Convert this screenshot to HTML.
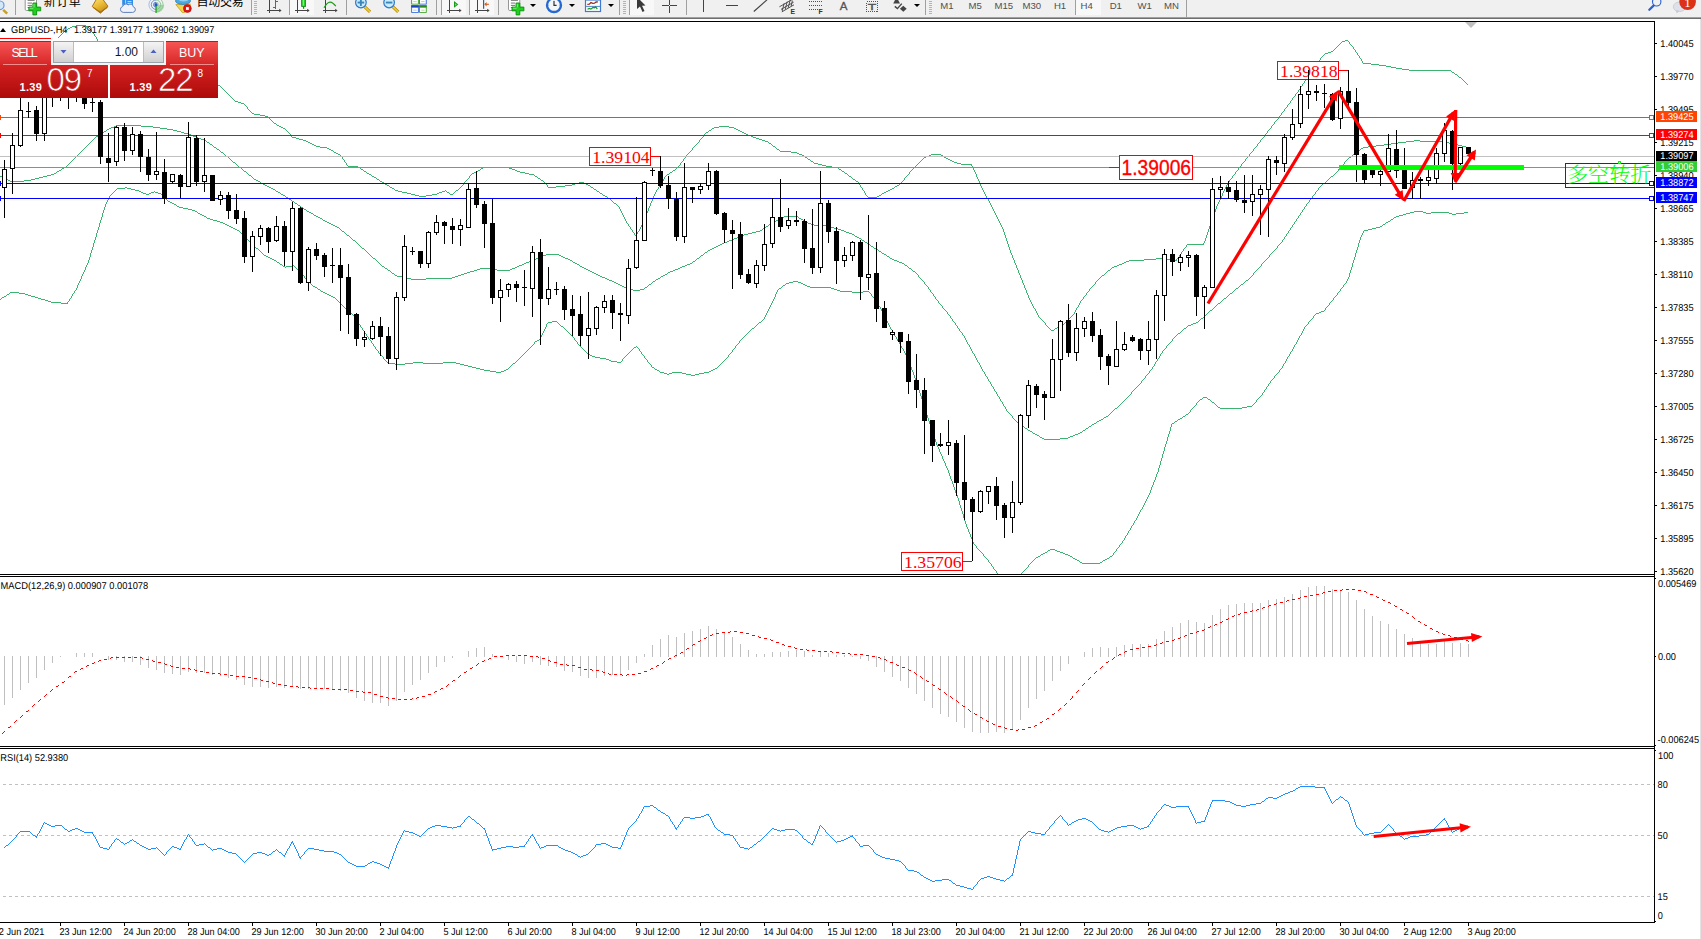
<!DOCTYPE html>
<html><head><meta charset="utf-8"><title>GBPUSD-,H4</title>
<style>
html,body{margin:0;padding:0;background:#fff;}
body{width:1701px;height:939px;position:relative;overflow:hidden;font-family:"Liberation Sans", sans-serif;}

#tb{position:absolute;left:0;top:0;width:1701px;height:17px;background:#f0f0f0;overflow:hidden;}
#tbl1{position:absolute;left:0;top:17px;width:1701px;height:1px;background:#a0a0a0;}
#tbl2{position:absolute;left:0;top:18px;width:1701px;height:1px;background:#6e6e6e;}
.sep{position:absolute;top:0;width:1px;height:15px;background:#a0a0a0;}
.grip{position:absolute;top:1px;width:3px;height:14px;background:repeating-linear-gradient(to bottom,#b4b4b4 0,#b4b4b4 1px,#f0f0f0 1px,#f0f0f0 2px);}
.sel{position:absolute;top:0;height:15px;background:#f8f8f8;}
.tf{position:absolute;top:-0.3px;font-size:9.6px;line-height:12px;color:#505050;white-space:nowrap;}
.cj{position:absolute;top:-5.6px;font-size:12px;line-height:16px;color:#000;white-space:nowrap;font-family:"Liberation Sans","Noto Sans CJK SC",sans-serif;}
.dd{position:absolute;top:4px;width:0;height:0;border-left:3px solid transparent;border-right:3px solid transparent;border-top:3px solid #000;}

#oc{position:absolute;left:0;top:38px;width:220px;height:60px;}
#oc .rl{position:absolute;left:0;top:0;width:51px;height:1px;background:#ff0000;}
#oc .mid{position:absolute;left:51px;top:3px;width:115px;height:24px;background:#f4f4f4;}
#oc .tab{position:absolute;top:3px;height:24px;background:linear-gradient(#f75454,#d62626);color:#fff;font-size:12.5px;line-height:22px;border-top:1px solid #c81414;box-sizing:border-box;}
#oc .tab span{position:absolute;top:0;}
#oc .tl{position:absolute;top:26px;height:1px;background:#f08c8c;}
#oc .px{position:absolute;top:27px;height:33px;background:linear-gradient(#d42222,#ae0a0a);color:#fff;}
#oc .px span{position:absolute;white-space:nowrap;}
#oc .sm{font-size:11px;font-weight:bold;line-height:12px;letter-spacing:0.35px;}
#oc .bg{font-size:33px;line-height:34px;letter-spacing:-1.2px;-webkit-text-stroke:0.7px #c21616;}
#oc .su{font-size:10px;line-height:12px;}
#sp{position:absolute;left:53px;top:3px;width:111px;height:22px;box-sizing:border-box;border:1px solid #9aa3ad;background:#fff;}
#sp .b{position:absolute;top:0;width:19px;height:20px;background:linear-gradient(#f4f4f4,#d0d0d0);border:0 solid #b8bec6;}
#sp .v{position:absolute;right:25px;top:0;font-size:12px;line-height:20px;color:#101828;}

</style></head><body>
<div id="tb">
<div class="sel" style="left:290px;width:24px"></div>
<div class="sel" style="left:630px;width:24px"></div>
<div class="sel" style="left:442px;width:24px"></div>
<div class="sel" style="left:470px;width:24px"></div>
<div class="sel" style="left:1076px;width:25px"></div>
<div class="sep" style="left:15px"></div>
<div class="sep" style="left:251px"></div>
<div class="sep" style="left:289px"></div>
<div class="sep" style="left:346px"></div>
<div class="sep" style="left:436px"></div>
<div class="sep" style="left:441px"></div>
<div class="sep" style="left:469px"></div>
<div class="sep" style="left:498px"></div>
<div class="sep" style="left:619px"></div>
<div class="sep" style="left:629px"></div>
<div class="sep" style="left:686px"></div>
<div class="sep" style="left:925px"></div>
<div class="sep" style="left:1075px"></div>
<div class="sep" style="left:1186px;height:17px"></div>
<div class="grip" style="left:254px"></div>
<div class="grip" style="left:623px"></div>
<div class="grip" style="left:929px"></div>
<div class="cj" style="left:43.8px;letter-spacing:0.45px">新订单</div>
<div class="cj" style="left:196.6px;letter-spacing:-0.25px">自动交易</div>
<div class="tf" style="left:940.3px">M1</div>
<div class="tf" style="left:968.6px">M5</div>
<div class="tf" style="left:994.5px">M15</div>
<div class="tf" style="left:1022.5px">M30</div>
<div class="tf" style="left:1053.9px">H1</div>
<div class="tf" style="left:1080.5px">H4</div>
<div class="tf" style="left:1109.7px">D1</div>
<div class="tf" style="left:1137.5px">W1</div>
<div class="tf" style="left:1164.0px">MN</div>
<div class="dd" style="left:529.5px"></div>
<div class="dd" style="left:568.5px"></div>
<div class="dd" style="left:607.5px"></div>
<div class="dd" style="left:913.5px"></div>
<svg width="1701" height="17" viewBox="0 0 1701 17" style="position:absolute;left:0;top:0"><line x1="3.2" y1="9.8" x2="7.2" y2="13.6" stroke="#c9a020" stroke-width="2.5" stroke-linecap="butt"/><circle cx="-0.3" cy="5.3" r="4.3" fill="#d4e8f8" stroke="#6a9ad8" stroke-width="1.2"/><path d="M25.2 -3v12.2q0 1.3 1.3 1.3h10v-13.5z" fill="#fff" stroke="#8a8a8a" stroke-width="0.9"/><rect x="27.6" y="2.6" width="4.4" height="0.9" fill="#666"/><rect x="27.6" y="4.9" width="4.4" height="0.9" fill="#666"/><rect x="27.6" y="7.1" width="2.8" height="0.9" fill="#666"/><rect x="27.6" y="-0.3" width="7" height="1" fill="#555"/><path d="M32.9 3.0h3.7v4.1h4.1v3.7h-4.1v4.1h-3.7v-4.1h-4.1v-3.7h4.1z" fill="#1fd01f" stroke="#0a8f0a" stroke-width="0.9"/><rect x="33.5" y="3.8" width="1" height="3.5" fill="#7df07d"/><rect x="29.6" y="7.7" width="3.7" height="1" fill="#7df07d"/><defs><linearGradient id="gd" x1="0" y1="0" x2="0.6" y2="1"><stop offset="0" stop-color="#fbe27a"/><stop offset="0.55" stop-color="#e9b730"/><stop offset="1" stop-color="#c58a18"/></linearGradient></defs><path d="M92.2 6.4 L96.6 -1 L102.6 -1 L108 6.3 L100.3 13.2 Z" fill="url(#gd)" stroke="#a06c10" stroke-width="0.9" stroke-linejoin="round"/><path d="M93 7.4 L100.3 12.3 L107.4 7.2" fill="none" stroke="#a8720f" stroke-width="1.1"/><rect x="122.2" y="-3" width="10.8" height="8.6" fill="#2f8fe8"/><rect x="125" y="-3" width="1.1" height="8" fill="#9fd0ff"/><rect x="127.5" y="1.2" width="4" height="0.9" fill="#d8ecff"/><rect x="127.5" y="3" width="4" height="0.9" fill="#d8ecff"/><path d="M123.2 12.4 a3 3 0 0 1 -0.5 -5.9 a3.4 3.4 0 0 1 5.6 -1.6 a3 3 0 0 1 5 2 a2.8 2.8 0 0 1 -0.6 5.5z" fill="#eef3fb" stroke="#5f7fbb" stroke-width="1"/><path d="M156 4.7 L156 12.9 A8.2 8.2 0 0 0 164.2 4.7 Z" fill="#a6d6a6"/><g fill="none"><path d="M156 2.3 A2.4 2.4 0 0 0 156 7.1" stroke="#4a78d4" stroke-width="1"/><path d="M156 0 A4.7 4.7 0 0 0 156 9.4" stroke="#6a92dc" stroke-width="1"/><path d="M156 -2.4 A7.1 7.1 0 0 0 156 11.8" stroke="#a4bce8" stroke-width="1"/><path d="M156 2.3 A2.4 2.4 0 0 1 158.4 4.7" stroke="#8ab0c0" stroke-width="0.9"/><path d="M156 0 A4.7 4.7 0 0 1 160.7 4.7 A4.7 4.7 0 0 1 156 9.4" stroke="#7fbf8f" stroke-width="0.9"/><path d="M156 -2.4 A7.1 7.1 0 0 1 163.1 4.7 A7.1 7.1 0 0 1 156 11.8" stroke="#8cc88c" stroke-width="0.9"/></g><rect x="155.4" y="4.7" width="1.3" height="8.2" fill="#22a022"/><circle cx="156" cy="4.7" r="1.6" fill="#2456c8"/><path d="M175.8 4.6 L190.4 4 L184.6 12.6 L182.4 12.6 Z" fill="#f3d446" stroke="#c79c18" stroke-width="0.8" stroke-linejoin="round"/><ellipse cx="183" cy="1" rx="7.5" ry="3.4" fill="#4aa8e0" stroke="#2f7fc0" stroke-width="0.8"/><ellipse cx="183.5" cy="-0.2" rx="4.5" ry="1.6" fill="#8fd0f4"/><circle cx="187.4" cy="8.5" r="3.9" fill="#e01818" stroke="#b00c0c" stroke-width="0.7"/><rect x="186" y="7.1" width="2.8" height="2.8" fill="#fff"/><g shape-rendering="crispEdges"><rect x="269" y="0" width="1" height="13" fill="#444"/><rect x="267" y="10" width="13" height="1" fill="#444"/></g><path d="M279.2 8.7l2.4 1.8l-2.4 1.8z" fill="#444"/><g shape-rendering="crispEdges"><rect x="275" y="0" width="1.3" height="8.5" fill="#1a9a1a"/><rect x="273" y="7" width="2.5" height="1.2" fill="#1a9a1a"/><rect x="275.5" y="1" width="2.6" height="1.2" fill="#1a9a1a"/></g><g shape-rendering="crispEdges"><rect x="297" y="0" width="1" height="13" fill="#444"/><rect x="295" y="10" width="13" height="1" fill="#444"/></g><path d="M307.2 8.7l2.4 1.8l-2.4 1.8z" fill="#444"/><rect x="301.6" y="-2" width="4" height="8.4" fill="#2ccc2c" stroke="#0e8a0e" stroke-width="0.8"/><rect x="302.8" y="-1" width="1.2" height="6.6" fill="#7cf07c"/><rect x="303" y="6.6" width="1.2" height="2.2" fill="#0e8a0e"/><g shape-rendering="crispEdges"><rect x="325" y="0" width="1" height="13" fill="#444"/><rect x="323" y="10" width="13" height="1" fill="#444"/></g><path d="M335.2 8.7l2.4 1.8l-2.4 1.8z" fill="#444"/><path d="M324 7.8 Q327.4 2 330.1 2.1 T335.8 6.2" fill="none" stroke="#1a9a1a" stroke-width="1.2"/><line x1="364.8" y1="6.9" x2="370.0" y2="11.9" stroke="#b88a10" stroke-width="3.1"/><line x1="364.8" y1="6.9" x2="370.0" y2="11.9" stroke="#efd028" stroke-width="1.5"/><circle cx="360.9" cy="2.5" r="5.3" fill="#c9ecfc" stroke="#2f78c8" stroke-width="1.2"/><rect x="357.6" y="1.6" width="6.6" height="1.9" fill="#3a86b8"/><rect x="359.9" y="-1" width="1.9" height="7" fill="#3a86b8"/><line x1="393.0" y1="6.9" x2="398.2" y2="11.9" stroke="#b88a10" stroke-width="3.1"/><line x1="393.0" y1="6.9" x2="398.2" y2="11.9" stroke="#efd028" stroke-width="1.5"/><circle cx="389.1" cy="2.5" r="5.3" fill="#c9ecfc" stroke="#2f78c8" stroke-width="1.2"/><rect x="385.8" y="1.6" width="6.6" height="1.9" fill="#3a86b8"/><rect x="411.2" y="-3.2" width="7.6" height="7.7" fill="#3aa024"/><rect x="411.2" y="-3.2" width="7.6" height="2" fill="#2c8a18"/><rect x="412.1" y="-0.8" width="5.8" height="4.5" fill="#fff"/><rect x="413.3" y="1.2" width="3.4" height="0.9" fill="#a8dc90"/><rect x="419.1" y="-3.2" width="7.6" height="7.7" fill="#2f66dc"/><rect x="419.1" y="-3.2" width="7.6" height="2" fill="#1c44c0"/><rect x="420.0" y="-0.8" width="5.8" height="4.5" fill="#fff"/><rect x="421.2" y="1.2" width="3.4" height="0.9" fill="#a8c4f4"/><rect x="411.2" y="5.3" width="7.6" height="7.5" fill="#2f66dc"/><rect x="411.2" y="5.3" width="7.6" height="2" fill="#1c44c0"/><rect x="412.1" y="7.7" width="5.8" height="4.3" fill="#fff"/><rect x="413.3" y="9.7" width="3.4" height="0.9" fill="#a8c4f4"/><rect x="419.1" y="5.3" width="7.6" height="7.5" fill="#3aa024"/><rect x="419.1" y="5.3" width="7.6" height="2" fill="#2c8a18"/><rect x="420.0" y="7.7" width="5.8" height="4.3" fill="#fff"/><rect x="421.2" y="9.7" width="3.4" height="0.9" fill="#a8dc90"/><g shape-rendering="crispEdges"><rect x="449" y="0" width="1" height="13" fill="#444"/><rect x="447" y="10" width="13" height="1" fill="#444"/></g><path d="M459.2 8.7l2.4 1.8l-2.4 1.8z" fill="#444"/><path d="M454 1.1l4.3 3.3l-4.3 3.4z" fill="#1a9a1a"/><path d="M455 3.2l1.8 1.3l-1.8 1.3z" fill="#6fe06f"/><g shape-rendering="crispEdges"><rect x="477" y="0" width="1" height="13" fill="#444"/><rect x="475" y="10" width="13" height="1" fill="#444"/></g><path d="M487.2 8.7l2.4 1.8l-2.4 1.8z" fill="#444"/><rect x="483" y="0" width="1.2" height="8.8" fill="#1a6aa8"/><path d="M484.3 4.3l2.4 -2.3l-0.3 1.8h2.5v1h-2.5l0.3 1.8z" fill="#c8480a"/><path d="M485.2 4.3l1 -0.8v1.6z" fill="#ff8a20"/><path d="M508.5 -3v12.2q0 1.3 1.3 1.3h10v-13.5z" fill="#fff" stroke="#8a8a8a" stroke-width="0.9"/><rect x="510.9" y="2.6" width="4.4" height="0.9" fill="#666"/><rect x="510.9" y="4.9" width="4.4" height="0.9" fill="#666"/><rect x="510.9" y="7.1" width="2.8" height="0.9" fill="#666"/><rect x="510.9" y="-0.3" width="7" height="1" fill="#555"/><path d="M516.1 3.0h3.7v4.1h4.1v3.7h-4.1v4.1h-3.7v-4.1h-4.1v-3.7h4.1z" fill="#1fd01f" stroke="#0a8f0a" stroke-width="0.9"/><rect x="516.8" y="3.8" width="1" height="3.5" fill="#7df07d"/><rect x="512.9" y="7.7" width="3.7" height="1" fill="#7df07d"/><circle cx="554" cy="5.2" r="7" fill="#f4f6fa" stroke="#2468d0" stroke-width="2.3"/><g fill="#9aa4b4"><rect x="553.6" y="-0.8" width="0.8" height="1.2"/><rect x="553.6" y="10" width="0.8" height="1.2"/><rect x="548" y="4.8" width="1.2" height="0.8"/><rect x="558.8" y="4.8" width="1.2" height="0.8"/></g><path d="M554 1v4.3h2.6" fill="none" stroke="#333" stroke-width="1.2"/><rect x="585.5" y="-2" width="15" height="13.5" fill="#fff" stroke="#3f7ad0" stroke-width="1.2"/><rect x="585" y="-2" width="16" height="2.6" fill="#3f7ad0"/><path d="M587.3 4.4l2 -0.3l1.6 -1.6l1.8 0.9l1.8 -0.2l1.6 -1.2l1.8 -0.2" fill="none" stroke="#a02c12" stroke-width="1.3"/><rect x="586" y="5.9" width="14" height="0.9" fill="#3f7ad0"/><path d="M587.5 9.3l1.8 -0.9l1.6 0.7l2 -1.6l1.4 0.3l1.4 -0.9l1.6 2.2" fill="none" stroke="#1a9a1a" stroke-width="1.2"/><path d="M637 -3 L637 9 L640 6.5 L642.5 12 L644.5 11 L642 5.8 L645.5 5.5 Z" fill="#3a3a3a"/><g shape-rendering="crispEdges"><rect x="669" y="0" width="1" height="5" fill="#444"/><rect x="669" y="6" width="1" height="7" fill="#444"/><rect x="662" y="5" width="7" height="1" fill="#444"/><rect x="670" y="5" width="7" height="1" fill="#444"/></g><g shape-rendering="crispEdges"><rect x="703" y="0" width="1" height="12" fill="#444"/><rect x="726" y="5" width="12" height="1" fill="#444"/></g><line x1="753.8" y1="11.5" x2="767" y2="-0.2" stroke="#444" stroke-width="1.1"/><g stroke="#505050" stroke-width="1" fill="none"><line x1="779.4" y1="6.8" x2="792.8" y2="-0.8"/><line x1="781" y1="9.4" x2="793.6" y2="2.2"/><line x1="781.8" y1="11.9" x2="794" y2="4.8"/><line x1="782.2" y1="11" x2="784.2" y2="3.2"/><line x1="785.2" y1="9.4" x2="787.2" y2="1.6"/><line x1="788.2" y1="7.8" x2="790.2" y2="0"/><line x1="791.2" y1="6" x2="792.4" y2="0.6"/></g><text x="790.4" y="13.6" font-family='"Liberation Sans",sans-serif' font-size="6.8" font-weight="bold" fill="#333">E</text><line x1="809" y1="1.5" x2="822.0" y2="1.5" stroke="#505050" stroke-width="1" stroke-dasharray="1,1" shape-rendering="crispEdges"/><line x1="809" y1="5.5" x2="822.0" y2="5.5" stroke="#505050" stroke-width="1" stroke-dasharray="1,1" shape-rendering="crispEdges"/><line x1="809" y1="9.5" x2="817.5" y2="9.5" stroke="#505050" stroke-width="1" stroke-dasharray="1,1" shape-rendering="crispEdges"/><text x="818.6" y="13.6" font-family='"Liberation Sans",sans-serif' font-size="6.8" font-weight="bold" fill="#333">F</text><text x="839.8" y="9.9" font-family='"Liberation Sans",sans-serif' font-size="11.6" fill="#555" stroke="#555" stroke-width="0.3">A</text><rect x="866.5" y="1.5" width="11" height="10" fill="none" stroke="#555" stroke-width="1" stroke-dasharray="1,1" shape-rendering="crispEdges"/><text x="867.8" y="9.9" font-family='"Liberation Sans",sans-serif' font-size="9.6" fill="#555" stroke="#555" stroke-width="0.35" textLength="8.5" lengthAdjust="spacingAndGlyphs">T</text><path d="M896.6 -3l3.4 6.6h-6.8z" fill="#444"/><path d="M903.3 5.8l3.4 3l-3.4 3l-3.4 -3z" fill="#444"/><path d="M894.8 6.4l2.6 2.2l4.4 -5" fill="none" stroke="#444" stroke-width="1.4"/><circle cx="1656.7" cy="1.8" r="4.2" fill="#f0f0f0" stroke="#2a5fd0" stroke-width="1.1"/><line x1="1653.6" y1="5.6" x2="1649.3" y2="9.8" stroke="#2a5fd0" stroke-width="2.2" stroke-linecap="round"/><ellipse cx="1679.5" cy="6.8" rx="6.2" ry="4.8" fill="#dfe1ea" stroke="#c8c8c8" stroke-width="0.8"/><path d="M1675.5 10 L1676.8 13.5 L1679.5 10.8Z" fill="#c8cad4"/><circle cx="1687.6" cy="1.8" r="8.3" fill="#dc3018"/><text x="1684.2" y="7" font-family='"Liberation Serif",serif' font-size="13" fill="#fff">1</text></svg>
</div><div id="tbl1"></div><div id="tbl2"></div>
<svg width="1701" height="939" viewBox="0 0 1701 939" style="position:absolute;left:0;top:0"><defs><clipPath id="cm"><rect x="0" y="22" width="1654" height="552"/></clipPath><clipPath id="cmacd"><rect x="0" y="577" width="1654" height="169"/></clipPath><clipPath id="crsi"><rect x="0" y="749" width="1654" height="173"/></clipPath></defs>
<g clip-path="url(#cm)" shape-rendering="crispEdges">
<path d="M58.5 37v1M59.5 36v1M60.5 35v1M61.5 34v1M62.5 33v1M63.5 32v1M64.5 31v1M65.5 30v1M66.5 30v1M67.5 29v1M68.5 28v1M69.5 28v1M70.5 27v1M71.5 27v1M72.5 26v1M73.5 26v1M74.5 26v1M75.5 26v1M76.5 25v1M77.5 25v1M78.5 25v1M79.5 25v1M80.5 25v1M81.5 25v1M82.5 25v1M83.5 25v1M84.5 25v1M85.5 25v1M86.5 26v1M87.5 26v1M88.5 27v1M89.5 28v1M90.5 29v1M91.5 30v2M92.5 32v1M93.5 33v1M94.5 34v2M95.5 36v1M96.5 37v2M97.5 39v2M98.5 41v2M99.5 43v1" stroke="#3cb371" stroke-width="1" fill="none"/>
<path d="M100.5 44v1M101.5 44v1M102.5 45v1M103.5 45v1M104.5 46v1M105.5 46v1M106.5 47v1M107.5 47v1M108.5 47v1M109.5 48v1M110.5 48v1M111.5 49v1M112.5 49v1M113.5 50v1M114.5 50v1M115.5 51v1M116.5 51v1M117.5 52v1M118.5 52v1M119.5 53v1M120.5 53v1M121.5 54v1M122.5 54v1M123.5 54v1M124.5 55v1M125.5 55v1M126.5 56v1M127.5 56v1M128.5 57v1M129.5 57v1M130.5 58v1M131.5 58v1M132.5 58v1M133.5 59v1M134.5 59v1M135.5 59v1M136.5 59v1M137.5 60v1M138.5 60v1M139.5 60v1M140.5 61v1M141.5 61v1M142.5 61v1M143.5 62v1M144.5 62v1M145.5 62v1M146.5 62v1M147.5 63v1M148.5 63v1M149.5 63v1M150.5 64v1M151.5 64v1M152.5 64v1M153.5 65v1M154.5 65v1M155.5 65v1M156.5 65v1M157.5 66v1M158.5 66v1M159.5 66v1M160.5 67v1M161.5 67v1M162.5 67v1M163.5 68v1M164.5 68v1M165.5 68v1M166.5 68v1M167.5 69v1M168.5 69v1M169.5 69v1M170.5 70v1M171.5 70v1M172.5 70v1M173.5 71v1M174.5 71v1M175.5 71v1M176.5 72v1M177.5 72v1M178.5 72v1M179.5 73v1M180.5 73v1M181.5 73v1M182.5 74v1M183.5 74v1M184.5 74v1M185.5 75v1M186.5 75v1M187.5 75v1M188.5 76v1M189.5 76v1M190.5 76v1M191.5 77v1M192.5 77v1M193.5 77v1M194.5 78v1M195.5 78v1M196.5 78v1M197.5 79v1M198.5 79v1M199.5 79v1M200.5 80v1M201.5 80v1M202.5 80v1M203.5 81v1M204.5 81v1M205.5 81v1M206.5 81v1M207.5 82v1M208.5 82v1M209.5 82v1M210.5 83v1M211.5 83v1M212.5 83v1M213.5 84v1M214.5 84v1M215.5 84v1M216.5 84v1M217.5 85v1M218.5 85v1M219.5 85v1M220.5 86v1M221.5 87v1M222.5 88v1M223.5 89v1M224.5 90v1M225.5 91v1M226.5 92v1M227.5 93v1M228.5 94v1M229.5 95v1M230.5 96v1M231.5 97v1M232.5 98v1M233.5 99v1M234.5 100v1M235.5 101v1M236.5 101v1M237.5 101v1M238.5 102v1M239.5 102v1M240.5 102v1M241.5 103v1M242.5 103v1M243.5 103v1M244.5 104v1M245.5 105v1M246.5 106v1M247.5 107v2M248.5 109v1M249.5 110v1M250.5 111v1M251.5 112v1M252.5 113v1M253.5 113v1M254.5 114v1M255.5 114v1M256.5 114v1M257.5 114v1M258.5 114v1M259.5 114v1M260.5 115v1M261.5 115v1M262.5 115v1M263.5 115v1M264.5 115v1M265.5 116v1M266.5 116v1M267.5 116v1M268.5 117v1M269.5 118v1M270.5 119v1M271.5 120v1M272.5 121v1M273.5 122v1M274.5 123v1M275.5 123v1M276.5 124v1M277.5 125v1M278.5 125v1M279.5 126v1M280.5 126v1M281.5 127v1M282.5 127v1M283.5 128v1M284.5 128v1M285.5 129v1M286.5 130v1M287.5 131v1M288.5 132v1M289.5 133v1M290.5 134v1M291.5 135v2M292.5 137v1M293.5 137v1M294.5 137v1M295.5 137v1M296.5 138v1M297.5 138v1M298.5 138v1M299.5 139v1M300.5 139v1M301.5 139v1M302.5 139v1M303.5 140v1M304.5 140v1M305.5 140v1M306.5 141v1M307.5 141v1M308.5 142v1M309.5 142v1M310.5 143v1M311.5 143v1M312.5 144v1M313.5 144v1M314.5 145v1M315.5 145v1M316.5 146v1M317.5 146v1M318.5 146v1M319.5 146v1M320.5 147v1M321.5 147v1M322.5 147v1M323.5 147v1M324.5 147v1M325.5 147v1M326.5 147v1M327.5 148v1M328.5 148v1M329.5 149v1M330.5 149v1M331.5 150v1M332.5 150v1M333.5 151v1M334.5 152v1M335.5 152v1M336.5 153v1M337.5 153v1M338.5 154v1M339.5 154v1M340.5 155v1M341.5 156v1M342.5 157v2M343.5 159v1M344.5 160v2M345.5 162v1M346.5 163v2M347.5 165v1M348.5 166v1M349.5 166v1M350.5 166v1M351.5 166v1M352.5 166v1M353.5 166v1M354.5 166v1M355.5 166v1M356.5 166v1M357.5 166v1M358.5 167v1M359.5 167v1M360.5 168v1M361.5 169v1M362.5 169v1M363.5 170v1M364.5 171v1M365.5 171v1M366.5 172v1M367.5 173v1M368.5 173v1M369.5 174v1M370.5 174v1M371.5 175v1M372.5 176v1M373.5 176v1M374.5 177v1M375.5 177v1M376.5 178v1M377.5 179v1M378.5 179v1M379.5 180v1M380.5 181v1M381.5 181v1M382.5 182v1M383.5 182v1M384.5 183v1M385.5 184v1M386.5 184v1M387.5 185v1M388.5 185v1M389.5 186v1M390.5 187v1M391.5 187v1M392.5 188v1M393.5 188v1M394.5 189v1M395.5 190v1M396.5 190v1M397.5 190v1M398.5 191v1M399.5 191v1M400.5 191v1M401.5 191v1M402.5 192v1M403.5 192v1M404.5 192v1M405.5 192v1M406.5 192v1M407.5 193v1M408.5 193v1M409.5 193v1M410.5 193v1M411.5 194v1M412.5 194v1M413.5 194v1M414.5 194v1M415.5 195v1M416.5 195v1M417.5 195v1M418.5 195v1M419.5 196v1M420.5 196v1M421.5 196v1M422.5 196v1M423.5 196v1M424.5 196v1M425.5 196v1M426.5 195v1M427.5 195v1M428.5 195v1M429.5 195v1M430.5 195v1M431.5 195v1M432.5 194v1M433.5 194v1M434.5 194v1M435.5 194v1M436.5 194v1M437.5 193v1M438.5 193v1M439.5 192v1M440.5 192v1M441.5 192v1M442.5 191v1M443.5 191v1M444.5 191v1M445.5 190v1M446.5 191v1M447.5 192v1M448.5 192v1M449.5 193v1M450.5 194v1M451.5 194v1M452.5 194v1M453.5 193v1M454.5 192v1M455.5 191v1M456.5 190v1M457.5 190v1M458.5 189v1M459.5 188v1M460.5 187v1M461.5 186v1M462.5 185v1M463.5 184v1M464.5 182v2M465.5 181v1M466.5 180v1M467.5 179v1M468.5 178v1M469.5 176v2M470.5 175v1M471.5 174v1M472.5 173v1M473.5 173v1M474.5 172v1M475.5 172v1M476.5 171v1M477.5 171v1M478.5 170v1M479.5 170v1M480.5 169v1M481.5 168v1M482.5 168v1M483.5 167v1M484.5 167v1M485.5 167v1M486.5 167v1M487.5 167v1M488.5 167v1M489.5 167v1M490.5 167v1M491.5 167v1M492.5 167v1M493.5 167v1M494.5 167v1M495.5 167v1M496.5 167v1M497.5 167v1M498.5 167v1M499.5 167v1M500.5 167v1M501.5 167v1M502.5 167v1M503.5 167v1M504.5 167v1M505.5 167v1M506.5 167v1M507.5 167v1M508.5 167v1M509.5 168v1M510.5 168v1M511.5 168v1M512.5 169v1M513.5 169v1M514.5 169v1M515.5 170v1M516.5 170v1M517.5 171v1M518.5 171v1M519.5 171v1M520.5 172v1M521.5 172v1M522.5 172v1M523.5 172v1M524.5 172v1M525.5 173v1M526.5 173v1M527.5 173v1M528.5 173v1M529.5 174v1M530.5 174v1M531.5 174v1M532.5 174v1M533.5 174v1M534.5 175v1M535.5 176v1M536.5 176v1M537.5 177v1M538.5 178v1M539.5 178v1M540.5 179v1M541.5 180v1M542.5 180v1M543.5 181v1M544.5 182v1M545.5 183v1M546.5 184v1M547.5 185v2M548.5 187v1M549.5 187v1M550.5 187v1M551.5 187v1M552.5 187v1M553.5 187v1M554.5 187v1M555.5 187v1M556.5 186v1M557.5 186v1M558.5 186v1M559.5 186v1M560.5 186v1M561.5 186v1M562.5 186v1M563.5 186v1M564.5 186v1M565.5 185v1M566.5 185v1M567.5 185v1M568.5 185v1M569.5 185v1M570.5 185v1M571.5 185v1M572.5 184v1M573.5 184v1M574.5 184v1M575.5 183v1M576.5 183v1M577.5 183v1M578.5 183v1M579.5 182v1M580.5 182v1M581.5 182v1M582.5 182v1M583.5 182v1M584.5 183v1M585.5 183v1M586.5 184v1M587.5 184v1M588.5 185v1M589.5 185v1M590.5 186v1M591.5 187v1M592.5 187v1M593.5 188v1M594.5 189v1M595.5 189v1M596.5 190v1M597.5 191v1M598.5 191v1M599.5 192v1M600.5 193v1M601.5 193v1M602.5 194v1M603.5 195v1M604.5 195v1M605.5 196v1M606.5 196v1M607.5 197v1M608.5 198v1M609.5 198v1M610.5 199v1M611.5 200v1M612.5 201v1M613.5 202v1M614.5 203v1M615.5 203v1M616.5 204v1M617.5 205v1M618.5 206v1M619.5 207v2M620.5 209v2M621.5 211v2M622.5 213v2M623.5 215v2M624.5 217v2M625.5 219v2M626.5 221v2M627.5 223v1M628.5 224v2M629.5 226v1M630.5 227v2M631.5 229v1M632.5 230v2M633.5 232v1M634.5 233v2M635.5 235v1M636.5 234v2M637.5 232v2M638.5 231v1M639.5 229v2M640.5 227v2M641.5 225v2M642.5 223v2M643.5 221v2M644.5 218v3M645.5 216v2M646.5 213v3M647.5 211v2M648.5 208v3M649.5 206v2M650.5 203v3M651.5 201v2M652.5 199v2M653.5 196v3M654.5 194v2M655.5 192v2M656.5 190v2M657.5 189v1M658.5 187v2M659.5 185v2M660.5 184v1M661.5 182v2M662.5 181v1M663.5 179v2M664.5 177v2M665.5 176v1M666.5 175v1M667.5 174v1M668.5 174v1M669.5 173v1M670.5 172v1M671.5 172v1M672.5 171v1M673.5 170v1M674.5 170v1M675.5 169v1M676.5 168v1M677.5 167v1M678.5 166v1M679.5 165v1M680.5 163v2M681.5 162v1M682.5 161v1M683.5 159v2M684.5 158v1M685.5 157v1M686.5 155v2M687.5 154v1M688.5 153v1M689.5 152v1M690.5 151v1M691.5 150v1M692.5 148v2M693.5 147v1M694.5 146v1M695.5 145v1M696.5 144v1M697.5 143v1M698.5 142v1M699.5 140v2M700.5 139v1M701.5 138v1M702.5 137v1M703.5 135v2M704.5 134v1M705.5 133v1M706.5 132v1M707.5 132v1M708.5 131v1M709.5 130v1M710.5 130v1M711.5 129v1M712.5 128v1M713.5 128v1M714.5 127v1M715.5 127v1M716.5 127v1M717.5 127v1M718.5 127v1M719.5 126v1M720.5 126v1M721.5 126v1M722.5 126v1M723.5 126v1M724.5 126v1M725.5 126v1M726.5 126v1M727.5 126v1M728.5 126v1M729.5 127v1M730.5 127v1M731.5 127v1M732.5 127v1M733.5 127v1M734.5 128v1M735.5 128v1M736.5 129v1M737.5 129v1M738.5 130v1M739.5 130v1M740.5 131v1M741.5 131v1M742.5 132v1M743.5 132v1M744.5 133v1M745.5 133v1M746.5 134v1M747.5 134v1M748.5 135v1M749.5 135v1M750.5 135v1M751.5 136v1M752.5 136v1M753.5 137v1M754.5 137v1M755.5 137v1M756.5 138v1M757.5 138v1M758.5 138v1M759.5 139v1M760.5 139v1M761.5 139v1M762.5 140v1M763.5 140v1M764.5 140v1M765.5 141v1M766.5 141v1M767.5 141v1M768.5 142v1M769.5 143v1M770.5 143v1M771.5 144v1M772.5 145v1M773.5 146v1M774.5 146v1M775.5 147v1M776.5 148v1M777.5 149v1M778.5 149v1M779.5 150v1M780.5 151v1M781.5 151v1M782.5 151v1M783.5 151v1M784.5 151v1M785.5 151v1M786.5 151v1M787.5 151v1M788.5 151v1M789.5 151v1M790.5 151v1M791.5 152v1M792.5 152v1M793.5 152v1M794.5 152v1M795.5 152v1M796.5 152v1M797.5 153v1M798.5 153v1M799.5 154v1M800.5 154v1M801.5 154v1M802.5 155v1M803.5 155v1M804.5 156v1M805.5 157v1M806.5 157v1M807.5 158v1M808.5 159v1M809.5 159v1M810.5 160v1M811.5 161v1M812.5 161v1M813.5 162v1M814.5 163v1M815.5 163v1M816.5 163v1M817.5 163v1M818.5 164v1M819.5 164v1M820.5 164v1M821.5 164v1M822.5 165v1M823.5 165v1M824.5 165v1M825.5 165v1M826.5 166v1M827.5 166v1M828.5 166v1M829.5 166v1M830.5 166v1M831.5 166v1M832.5 167v1M833.5 167v1M834.5 167v1M835.5 167v1M836.5 167v1M837.5 167v1M838.5 168v1M839.5 169v1M840.5 169v1M841.5 170v1M842.5 171v1M843.5 171v1M844.5 172v1M845.5 173v1M846.5 173v1M847.5 174v1M848.5 175v1M849.5 176v1M850.5 176v1M851.5 177v1M852.5 178v1M853.5 179v1M854.5 179v1M855.5 180v1M856.5 181v1M857.5 181v1M858.5 182v1M859.5 183v2M860.5 185v2M861.5 187v1M862.5 188v2M863.5 190v1M864.5 191v2M865.5 193v2M866.5 195v1M867.5 196v1M868.5 197v1M869.5 197v1M870.5 197v1M871.5 197v1M872.5 197v1M873.5 197v1M874.5 197v1M875.5 197v1M876.5 197v1M877.5 196v1M878.5 196v1M879.5 195v1M880.5 195v1M881.5 194v1M882.5 193v1M883.5 193v1M884.5 192v1M885.5 192v1M886.5 191v1M887.5 191v1M888.5 190v1M889.5 190v1M890.5 189v1M891.5 189v1M892.5 188v1M893.5 188v1M894.5 187v1M895.5 186v1M896.5 186v1M897.5 185v1M898.5 185v1M899.5 184v1M900.5 183v1M901.5 182v1M902.5 181v1M903.5 180v1M904.5 178v2M905.5 177v1M906.5 176v1M907.5 175v1M908.5 174v1M909.5 172v2M910.5 171v1M911.5 170v1M912.5 169v1M913.5 168v1M914.5 167v1M915.5 166v1M916.5 165v1M917.5 164v1M918.5 163v1M919.5 162v1M920.5 161v1M921.5 160v1M922.5 159v1M923.5 158v1M924.5 157v1M925.5 157v1M926.5 156v1M927.5 156v1M928.5 156v1M929.5 155v1M930.5 155v1M931.5 154v1M932.5 154v1M933.5 154v1M934.5 154v1M935.5 154v1M936.5 154v1M937.5 154v1M938.5 154v1M939.5 154v1M940.5 154v1M941.5 155v1M942.5 155v1M943.5 156v1M944.5 157v1M945.5 157v1M946.5 158v1M947.5 158v1M948.5 159v1M949.5 159v1M950.5 160v1M951.5 160v1M952.5 161v1M953.5 161v1M954.5 162v1M955.5 162v1M956.5 162v1M957.5 163v1M958.5 163v1M959.5 163v1M960.5 163v1M961.5 164v1M962.5 164v1M963.5 164v1M964.5 164v1M965.5 164v1M966.5 164v1M967.5 164v1M968.5 164v1M969.5 164v1M970.5 164v1M971.5 164v2M972.5 166v2M973.5 168v2M974.5 170v2M975.5 172v2M976.5 174v3M977.5 177v2M978.5 179v2M979.5 181v2M980.5 183v3M981.5 186v2M982.5 188v2M983.5 190v2M984.5 192v2M985.5 194v2M986.5 196v2M987.5 198v1M988.5 199v2M989.5 201v2M990.5 203v2M991.5 205v2M992.5 207v2M993.5 209v2M994.5 211v2M995.5 213v2M996.5 215v2M997.5 217v2M998.5 219v2M999.5 221v2M1000.5 223v2M1001.5 225v2M1002.5 227v2M1003.5 229v3M1004.5 232v3M1005.5 235v3M1006.5 238v3M1007.5 241v3M1008.5 244v3M1009.5 247v3M1010.5 250v3M1011.5 253v2M1012.5 255v3M1013.5 258v2M1014.5 260v3M1015.5 263v2M1016.5 265v3M1017.5 268v2M1018.5 270v3M1019.5 273v2M1020.5 275v3M1021.5 278v2M1022.5 280v3M1023.5 283v2M1024.5 285v3M1025.5 288v2M1026.5 290v3M1027.5 293v2M1028.5 295v3M1029.5 298v2M1030.5 300v2M1031.5 302v2M1032.5 304v2M1033.5 306v2M1034.5 308v1M1035.5 309v2M1036.5 311v2M1037.5 313v2M1038.5 315v2M1039.5 317v1M1040.5 318v1M1041.5 319v1M1042.5 320v1M1043.5 321v1M1044.5 322v1M1045.5 323v2M1046.5 325v1M1047.5 326v1M1048.5 327v1M1049.5 328v1M1050.5 329v1M1051.5 330v1M1052.5 330v1M1053.5 330v1M1054.5 329v1M1055.5 328v1M1056.5 328v1M1057.5 327v1M1058.5 327v1M1059.5 326v1M1060.5 326v1M1061.5 325v1M1062.5 324v1M1063.5 324v1M1064.5 323v1M1065.5 322v1M1066.5 321v1M1067.5 320v1M1068.5 319v1M1069.5 318v1M1070.5 317v1M1071.5 316v1M1072.5 315v1M1073.5 314v1M1074.5 312v2M1075.5 310v2M1076.5 308v2M1077.5 307v1M1078.5 305v2M1079.5 303v2M1080.5 301v2M1081.5 300v1M1082.5 299v1M1083.5 297v2M1084.5 296v1M1085.5 295v1M1086.5 293v2M1087.5 292v1M1088.5 291v1M1089.5 289v2M1090.5 288v1M1091.5 287v1M1092.5 286v1M1093.5 285v1M1094.5 284v1M1095.5 282v2M1096.5 281v1M1097.5 280v1M1098.5 279v1M1099.5 278v1M1100.5 277v1M1101.5 276v1M1102.5 275v1M1103.5 275v1M1104.5 274v1M1105.5 273v1M1106.5 272v1M1107.5 271v1M1108.5 270v1M1109.5 270v1M1110.5 269v1M1111.5 268v1M1112.5 267v1M1113.5 267v1M1114.5 266v1M1115.5 266v1M1116.5 266v1M1117.5 265v1M1118.5 265v1M1119.5 264v1M1120.5 264v1M1121.5 264v1M1122.5 263v1M1123.5 263v1M1124.5 262v1M1125.5 262v1M1126.5 261v1M1127.5 261v1M1128.5 261v1M1129.5 260v1M1130.5 260v1M1131.5 260v1M1132.5 260v1M1133.5 260v1M1134.5 260v1M1135.5 260v1M1136.5 260v1M1137.5 260v1M1138.5 260v1M1139.5 260v1M1140.5 260v1M1141.5 260v1M1142.5 260v1M1143.5 260v1M1144.5 259v1M1145.5 259v1M1146.5 259v1M1147.5 259v1M1148.5 259v1M1149.5 259v1M1150.5 259v1M1151.5 259v1M1152.5 259v1M1153.5 259v1M1154.5 259v1M1155.5 259v1M1156.5 258v1M1157.5 258v1M1158.5 258v1M1159.5 258v1M1160.5 258v1M1161.5 258v1M1162.5 258v1M1163.5 258v1M1164.5 258v1M1165.5 258v1M1166.5 258v1M1167.5 259v1M1168.5 259v1M1169.5 259v1M1170.5 259v1M1171.5 260v1M1172.5 260v1M1173.5 260v1M1174.5 260v1M1175.5 260v1M1176.5 259v2M1177.5 258v1M1178.5 257v1M1179.5 255v2M1180.5 254v1M1181.5 252v2M1182.5 251v1M1183.5 249v2M1184.5 248v1M1185.5 247v1M1186.5 245v2M1187.5 244v1M1188.5 244v1M1189.5 244v1M1190.5 244v1M1191.5 244v1M1192.5 244v1M1193.5 244v1M1194.5 244v1M1195.5 244v1M1196.5 244v1M1197.5 244v1M1198.5 244v1M1199.5 244v1M1200.5 244v1M1201.5 244v1M1202.5 244v1M1203.5 243v2M1204.5 241v2M1205.5 238v3M1206.5 235v3M1207.5 232v3M1208.5 229v3M1209.5 226v3M1210.5 223v3M1211.5 220v3M1212.5 217v3M1213.5 215v2M1214.5 212v3M1215.5 209v3M1216.5 206v3M1217.5 204v2M1218.5 202v2M1219.5 200v2M1220.5 198v2M1221.5 196v2M1222.5 193v3M1223.5 191v2M1224.5 189v2M1225.5 187v2M1226.5 185v2M1227.5 183v2M1228.5 182v1M1229.5 180v2M1230.5 179v1M1231.5 178v1M1232.5 176v2M1233.5 175v1M1234.5 174v1M1235.5 172v2M1236.5 171v1M1237.5 170v1M1238.5 168v2M1239.5 167v1M1240.5 166v1M1241.5 164v2M1242.5 163v1M1243.5 162v1M1244.5 161v1M1245.5 159v2M1246.5 158v1M1247.5 157v1M1248.5 156v1M1249.5 154v2M1250.5 153v1M1251.5 152v1M1252.5 151v1M1253.5 149v2M1254.5 148v1M1255.5 147v1M1256.5 146v1M1257.5 144v2M1258.5 143v1M1259.5 142v1M1260.5 140v2M1261.5 139v1M1262.5 138v1M1263.5 137v1M1264.5 135v2M1265.5 134v1M1266.5 133v1M1267.5 131v2M1268.5 130v1M1269.5 129v1M1270.5 128v1M1271.5 126v2M1272.5 125v1M1273.5 124v1M1274.5 122v2M1275.5 121v1M1276.5 120v1M1277.5 119v1M1278.5 117v2M1279.5 116v1M1280.5 115v1M1281.5 113v2M1282.5 112v1M1283.5 111v1M1284.5 109v2M1285.5 108v1M1286.5 107v1M1287.5 105v2M1288.5 104v1M1289.5 103v1M1290.5 101v2M1291.5 100v1M1292.5 98v2M1293.5 97v1M1294.5 96v1M1295.5 94v2M1296.5 93v1M1297.5 92v1M1298.5 90v2M1299.5 89v1M1300.5 87v2M1301.5 86v1M1302.5 84v2M1303.5 83v1M1304.5 81v2M1305.5 80v1M1306.5 78v2M1307.5 77v1M1308.5 75v2M1309.5 74v1M1310.5 72v2M1311.5 71v1M1312.5 69v2M1313.5 68v1M1314.5 67v1M1315.5 65v2M1316.5 64v1M1317.5 63v1M1318.5 61v2M1319.5 60v1M1320.5 58v2M1321.5 57v1M1322.5 56v1M1323.5 55v1M1324.5 54v1M1325.5 53v1M1326.5 53v1M1327.5 53v1M1328.5 52v1M1329.5 52v1M1330.5 52v1M1331.5 51v1M1332.5 51v1M1333.5 50v1M1334.5 49v1M1335.5 48v1M1336.5 47v1M1337.5 46v1M1338.5 45v1M1339.5 44v1M1340.5 43v1M1341.5 42v1M1342.5 41v1M1343.5 41v1M1344.5 41v1M1345.5 40v1M1346.5 40v1M1347.5 40v1M1348.5 41v1M1349.5 42v2M1350.5 44v1M1351.5 45v1M1352.5 46v1M1353.5 47v2M1354.5 49v1M1355.5 50v2M1356.5 52v1M1357.5 53v2M1358.5 55v1M1359.5 56v2M1360.5 58v1M1361.5 59v2M1362.5 61v2M1363.5 63v1M1364.5 63v1M1365.5 63v1M1366.5 63v1M1367.5 63v1M1368.5 63v1M1369.5 63v1M1370.5 63v1M1371.5 64v1M1372.5 64v1M1373.5 64v1M1374.5 64v1M1375.5 64v1M1376.5 64v1M1377.5 64v1M1378.5 64v1M1379.5 65v1M1380.5 65v1M1381.5 65v1M1382.5 65v1M1383.5 65v1M1384.5 65v1M1385.5 65v1M1386.5 66v1M1387.5 66v1M1388.5 66v1M1389.5 66v1M1390.5 66v1M1391.5 67v1M1392.5 67v1M1393.5 67v1M1394.5 67v1M1395.5 67v1M1396.5 68v1M1397.5 68v1M1398.5 68v1M1399.5 68v1M1400.5 68v1M1401.5 68v1M1402.5 69v1M1403.5 69v1M1404.5 69v1M1405.5 69v1M1406.5 69v1M1407.5 69v1M1408.5 69v1M1409.5 70v1M1410.5 70v1M1411.5 70v1M1412.5 70v1M1413.5 70v1M1414.5 70v1M1415.5 70v1M1416.5 70v1M1417.5 70v1M1418.5 70v1M1419.5 70v1M1420.5 70v1M1421.5 70v1M1422.5 70v1M1423.5 70v1M1424.5 70v1M1425.5 70v1M1426.5 70v1M1427.5 70v1M1428.5 70v1M1429.5 70v1M1430.5 70v1M1431.5 70v1M1432.5 70v1M1433.5 70v1M1434.5 70v1M1435.5 70v1M1436.5 70v1M1437.5 70v1M1438.5 70v1M1439.5 70v1M1440.5 70v1M1441.5 70v1M1442.5 70v1M1443.5 70v1M1444.5 70v1M1445.5 70v1M1446.5 70v1M1447.5 70v1M1448.5 70v1M1449.5 70v1M1450.5 70v1M1451.5 71v1M1452.5 72v1M1453.5 72v1M1454.5 73v1M1455.5 74v1M1456.5 74v1M1457.5 75v1M1458.5 76v1M1459.5 77v1M1460.5 77v1M1461.5 78v1M1462.5 79v1M1463.5 80v1M1464.5 81v1M1465.5 82v1M1466.5 83v1M1467.5 84v1" stroke="#3cb371" stroke-width="1" fill="none"/>
<path d="M0.5 176v1M1.5 176v1M2.5 177v1M3.5 177v1M4.5 178v1M5.5 178v1M6.5 179v1M7.5 179v1M8.5 180v1M9.5 180v1M10.5 181v1M11.5 181v1M12.5 181v1M13.5 181v1M14.5 181v1M15.5 181v1M16.5 181v1M17.5 181v1M18.5 181v1M19.5 181v1M20.5 181v1M21.5 181v1M22.5 181v1M23.5 181v1M24.5 180v1M25.5 180v1M26.5 180v1M27.5 180v1M28.5 180v1M29.5 180v1M30.5 180v1M31.5 179v1M32.5 179v1M33.5 179v1M34.5 179v1M35.5 178v1M36.5 178v1M37.5 178v1M38.5 178v1M39.5 177v1M40.5 177v1M41.5 177v1M42.5 177v1M43.5 176v1M44.5 176v1M45.5 176v1M46.5 176v1M47.5 175v1M48.5 175v1M49.5 175v1M50.5 175v1M51.5 174v1M52.5 174v1M53.5 174v1M54.5 173v1M55.5 173v1M56.5 172v1M57.5 171v1M58.5 171v1M59.5 170v1M60.5 170v1M61.5 169v1M62.5 168v1M63.5 168v1M64.5 167v1M65.5 167v1M66.5 166v1M67.5 165v1M68.5 164v1M69.5 163v1M70.5 162v1M71.5 161v1M72.5 160v1M73.5 159v1M74.5 158v1M75.5 157v1M76.5 156v1M77.5 155v1M78.5 154v1M79.5 153v1M80.5 152v1M81.5 151v1M82.5 150v1M83.5 149v1M84.5 148v1M85.5 147v1M86.5 146v1M87.5 145v1M88.5 144v1M89.5 143v1M90.5 142v1M91.5 141v1M92.5 140v1M93.5 139v1M94.5 138v1M95.5 137v1M96.5 136v1M97.5 136v1M98.5 135v1M99.5 134v1M100.5 134v1M101.5 133v1M102.5 132v1M103.5 132v1M104.5 131v1M105.5 131v1M106.5 130v1M107.5 129v1M108.5 129v1M109.5 128v1M110.5 128v1M111.5 127v1M112.5 127v1M113.5 127v1M114.5 126v1M115.5 126v1M116.5 125v1M117.5 125v1M118.5 125v1M119.5 125v1M120.5 125v1M121.5 125v1M122.5 125v1M123.5 125v1M124.5 125v1M125.5 125v1M126.5 125v1M127.5 125v1M128.5 125v1M129.5 125v1M130.5 125v1M131.5 125v1M132.5 125v1M133.5 125v1M134.5 125v1M135.5 125v1M136.5 125v1M137.5 125v1M138.5 125v1M139.5 125v1M140.5 125v1M141.5 126v1M142.5 126v1M143.5 126v1M144.5 126v1M145.5 126v1M146.5 126v1M147.5 126v1M148.5 126v1M149.5 126v1M150.5 126v1M151.5 126v1M152.5 126v1M153.5 127v1M154.5 127v1M155.5 127v1M156.5 127v1M157.5 127v1M158.5 127v1M159.5 127v1M160.5 128v1M161.5 128v1M162.5 128v1M163.5 128v1M164.5 128v1M165.5 128v1M166.5 128v1M167.5 129v1M168.5 129v1M169.5 129v1M170.5 129v1M171.5 129v1M172.5 129v1M173.5 130v1M174.5 130v1M175.5 130v1M176.5 130v1M177.5 131v1M178.5 131v1M179.5 131v1M180.5 131v1M181.5 132v1M182.5 132v1M183.5 132v1M184.5 133v1M185.5 133v1M186.5 133v1M187.5 133v1M188.5 134v1M189.5 134v1M190.5 134v1M191.5 135v1M192.5 135v1M193.5 136v1M194.5 136v1M195.5 136v1M196.5 137v1M197.5 137v1M198.5 138v1M199.5 138v1M200.5 138v1M201.5 139v1M202.5 139v1M203.5 139v1M204.5 140v1M205.5 140v1M206.5 141v1M207.5 142v1M208.5 142v1M209.5 143v1M210.5 144v1M211.5 144v1M212.5 145v1M213.5 146v1M214.5 147v1M215.5 147v1M216.5 148v1M217.5 149v1M218.5 149v1M219.5 150v1M220.5 151v1M221.5 152v1M222.5 152v1M223.5 153v1M224.5 154v1M225.5 155v1M226.5 156v1M227.5 156v1M228.5 157v1M229.5 158v1M230.5 159v1M231.5 160v1M232.5 161v1M233.5 162v1M234.5 162v1M235.5 163v1M236.5 164v1M237.5 165v1M238.5 166v1M239.5 167v1M240.5 167v1M241.5 168v1M242.5 169v1M243.5 170v1M244.5 171v1M245.5 171v1M246.5 172v1M247.5 173v1M248.5 174v1M249.5 175v1M250.5 175v1M251.5 176v1M252.5 177v1M253.5 178v1M254.5 179v1M255.5 179v1M256.5 180v1M257.5 180v1M258.5 181v1M259.5 181v1M260.5 182v1M261.5 183v1M262.5 183v1M263.5 184v1M264.5 184v1M265.5 185v1M266.5 185v1M267.5 186v1M268.5 186v1M269.5 187v1M270.5 187v1M271.5 188v1M272.5 188v1M273.5 189v1M274.5 189v1M275.5 190v1M276.5 191v1M277.5 191v1M278.5 192v1M279.5 192v1M280.5 193v1M281.5 194v1M282.5 194v1M283.5 195v1M284.5 195v1M285.5 196v1M286.5 197v1M287.5 197v1M288.5 198v1M289.5 199v1M290.5 199v1M291.5 200v1M292.5 201v1M293.5 201v1M294.5 202v1M295.5 203v1M296.5 203v1M297.5 204v1M298.5 205v1M299.5 205v1M300.5 206v1M301.5 207v1M302.5 207v1M303.5 208v1M304.5 209v1M305.5 209v1M306.5 210v1M307.5 211v1M308.5 211v1M309.5 212v1M310.5 212v1M311.5 213v1M312.5 213v1M313.5 214v1M314.5 215v1M315.5 215v1M316.5 216v1M317.5 216v1M318.5 217v1M319.5 217v1M320.5 218v1M321.5 218v1M322.5 219v1M323.5 220v1M324.5 220v1M325.5 221v1M326.5 221v1M327.5 222v1M328.5 222v1M329.5 223v1M330.5 223v1M331.5 224v1M332.5 224v1M333.5 225v1M334.5 225v1M335.5 226v1M336.5 226v1M337.5 227v1M338.5 227v1M339.5 228v1M340.5 229v1M341.5 230v1M342.5 231v1M343.5 231v1M344.5 232v1M345.5 233v1M346.5 234v1M347.5 235v1M348.5 235v1M349.5 236v1M350.5 237v1M351.5 238v1M352.5 239v1M353.5 240v1M354.5 240v1M355.5 241v1M356.5 242v1M357.5 243v1M358.5 244v1M359.5 245v1M360.5 246v1M361.5 247v1M362.5 248v1M363.5 248v1M364.5 249v1M365.5 250v1M366.5 251v1M367.5 252v1M368.5 253v1M369.5 254v1M370.5 255v1M371.5 256v1M372.5 257v1M373.5 258v1M374.5 258v1M375.5 259v1M376.5 260v1M377.5 261v1M378.5 262v1M379.5 263v1M380.5 264v1M381.5 265v1M382.5 266v1M383.5 266v1M384.5 267v1M385.5 268v1M386.5 268v1M387.5 269v1M388.5 270v1M389.5 270v1M390.5 271v1M391.5 272v1M392.5 273v1M393.5 273v1M394.5 274v1M395.5 275v1M396.5 275v1M397.5 276v1M398.5 276v1M399.5 276v1M400.5 276v1M401.5 276v1M402.5 277v1M403.5 277v1M404.5 277v1M405.5 277v1M406.5 277v1M407.5 278v1M408.5 278v1M409.5 278v1M410.5 278v1M411.5 279v1M412.5 279v1M413.5 279v1M414.5 279v1M415.5 279v1M416.5 279v1M417.5 279v1M418.5 279v1M419.5 279v1M420.5 279v1M421.5 279v1M422.5 279v1M423.5 279v1M424.5 279v1M425.5 279v1M426.5 278v1M427.5 278v1M428.5 278v1M429.5 278v1M430.5 278v1M431.5 278v1M432.5 278v1M433.5 278v1M434.5 278v1M435.5 278v1M436.5 278v1M437.5 278v1M438.5 278v1M439.5 278v1M440.5 278v1M441.5 278v1M442.5 278v1M443.5 278v1M444.5 278v1M445.5 278v1M446.5 278v1M447.5 278v1M448.5 278v1M449.5 278v1M450.5 278v1M451.5 278v1M452.5 277v1M453.5 277v1M454.5 277v1M455.5 276v1M456.5 276v1M457.5 276v1M458.5 275v1M459.5 275v1M460.5 275v1M461.5 274v1M462.5 274v1M463.5 274v1M464.5 273v1M465.5 273v1M466.5 273v1M467.5 272v1M468.5 272v1M469.5 272v1M470.5 271v1M471.5 271v1M472.5 271v1M473.5 271v1M474.5 270v1M475.5 270v1M476.5 270v1M477.5 269v1M478.5 269v1M479.5 269v1M480.5 268v1M481.5 268v1M482.5 268v1M483.5 268v1M484.5 268v1M485.5 268v1M486.5 268v1M487.5 268v1M488.5 268v1M489.5 268v1M490.5 268v1M491.5 268v1M492.5 269v1M493.5 269v1M494.5 269v1M495.5 269v1M496.5 269v1M497.5 270v1M498.5 270v1M499.5 270v1M500.5 270v1M501.5 270v1M502.5 270v1M503.5 270v1M504.5 270v1M505.5 270v1M506.5 270v1M507.5 270v1M508.5 270v1M509.5 270v1M510.5 269v1M511.5 269v1M512.5 268v1M513.5 268v1M514.5 268v1M515.5 267v1M516.5 267v1M517.5 266v1M518.5 266v1M519.5 265v1M520.5 265v1M521.5 265v1M522.5 264v1M523.5 264v1M524.5 263v1M525.5 263v1M526.5 262v1M527.5 262v1M528.5 262v1M529.5 261v1M530.5 261v1M531.5 260v1M532.5 260v1M533.5 260v1M534.5 259v1M535.5 259v1M536.5 258v1M537.5 258v1M538.5 257v1M539.5 257v1M540.5 257v1M541.5 256v1M542.5 256v1M543.5 255v1M544.5 255v1M545.5 255v1M546.5 254v1M547.5 254v1M548.5 254v1M549.5 254v1M550.5 254v1M551.5 254v1M552.5 254v1M553.5 254v1M554.5 254v1M555.5 254v1M556.5 254v1M557.5 254v1M558.5 254v1M559.5 255v1M560.5 255v1M561.5 256v1M562.5 256v1M563.5 257v1M564.5 257v1M565.5 258v1M566.5 258v1M567.5 258v1M568.5 259v1M569.5 259v1M570.5 260v1M571.5 260v1M572.5 261v1M573.5 262v1M574.5 262v1M575.5 263v1M576.5 263v1M577.5 264v1M578.5 264v1M579.5 265v1M580.5 266v1M581.5 266v1M582.5 267v1M583.5 267v1M584.5 268v1M585.5 268v1M586.5 269v1M587.5 269v1M588.5 270v1M589.5 270v1M590.5 271v1M591.5 271v1M592.5 272v1M593.5 272v1M594.5 273v1M595.5 273v1M596.5 274v1M597.5 274v1M598.5 275v1M599.5 275v1M600.5 276v1M601.5 276v1M602.5 277v1M603.5 277v1M604.5 277v1M605.5 278v1M606.5 278v1M607.5 279v1M608.5 279v1M609.5 280v1M610.5 280v1M611.5 280v1M612.5 281v1M613.5 281v1M614.5 282v1M615.5 282v1M616.5 283v1M617.5 283v1M618.5 284v1M619.5 284v1M620.5 285v1M621.5 285v1M622.5 286v1M623.5 286v1M624.5 287v1M625.5 287v1M626.5 288v1M627.5 288v1M628.5 288v1M629.5 289v1M630.5 289v1M631.5 289v1M632.5 289v1M633.5 290v1M634.5 290v1M635.5 290v1M636.5 290v1M637.5 290v1M638.5 290v1M639.5 290v1M640.5 289v1M641.5 289v1M642.5 289v1M643.5 289v1M644.5 288v1M645.5 287v1M646.5 287v1M647.5 286v1M648.5 285v1M649.5 284v1M650.5 284v1M651.5 283v1M652.5 282v1M653.5 281v1M654.5 281v1M655.5 280v1M656.5 279v1M657.5 279v1M658.5 278v1M659.5 278v1M660.5 277v1M661.5 276v1M662.5 276v1M663.5 275v1M664.5 275v1M665.5 274v1M666.5 274v1M667.5 273v1M668.5 272v1M669.5 272v1M670.5 271v1M671.5 271v1M672.5 271v1M673.5 270v1M674.5 270v1M675.5 269v1M676.5 269v1M677.5 269v1M678.5 268v1M679.5 268v1M680.5 267v1M681.5 267v1M682.5 266v1M683.5 266v1M684.5 266v1M685.5 265v1M686.5 265v1M687.5 264v1M688.5 264v1M689.5 264v1M690.5 263v1M691.5 263v1M692.5 262v1M693.5 261v1M694.5 261v1M695.5 260v1M696.5 259v1M697.5 258v1M698.5 258v1M699.5 257v1M700.5 256v1M701.5 255v1M702.5 255v1M703.5 254v1M704.5 253v1M705.5 252v1M706.5 252v1M707.5 251v1M708.5 250v1M709.5 250v1M710.5 249v1M711.5 249v1M712.5 248v1M713.5 248v1M714.5 247v1M715.5 247v1M716.5 246v1M717.5 246v1M718.5 245v1M719.5 245v1M720.5 244v1M721.5 244v1M722.5 243v1M723.5 243v1M724.5 242v1M725.5 242v1M726.5 242v1M727.5 241v1M728.5 241v1M729.5 240v1M730.5 240v1M731.5 240v1M732.5 239v1M733.5 239v1M734.5 238v1M735.5 238v1M736.5 238v1M737.5 237v1M738.5 237v1M739.5 236v1M740.5 236v1M741.5 236v1M742.5 235v1M743.5 235v1M744.5 234v1M745.5 234v1M746.5 234v1M747.5 234v1M748.5 233v1M749.5 233v1M750.5 233v1M751.5 233v1M752.5 232v1M753.5 232v1M754.5 232v1M755.5 232v1M756.5 231v1M757.5 231v1M758.5 231v1M759.5 231v1M760.5 230v1M761.5 230v1M762.5 229v1M763.5 228v1M764.5 228v1M765.5 227v1M766.5 226v1M767.5 226v1M768.5 225v1M769.5 224v1M770.5 224v1M771.5 223v1M772.5 222v1M773.5 222v1M774.5 221v1M775.5 221v1M776.5 220v1M777.5 220v1M778.5 219v1M779.5 219v1M780.5 218v1M781.5 218v1M782.5 217v1M783.5 217v1M784.5 216v1M785.5 216v1M786.5 216v1M787.5 216v1M788.5 216v1M789.5 216v1M790.5 216v1M791.5 216v1M792.5 216v1M793.5 216v1M794.5 216v1M795.5 216v1M796.5 216v1M797.5 216v1M798.5 217v1M799.5 218v1M800.5 218v1M801.5 219v1M802.5 219v1M803.5 220v1M804.5 220v1M805.5 221v1M806.5 222v1M807.5 222v1M808.5 223v1M809.5 223v1M810.5 223v1M811.5 224v1M812.5 224v1M813.5 224v1M814.5 225v1M815.5 225v1M816.5 225v1M817.5 225v1M818.5 225v1M819.5 225v1M820.5 225v1M821.5 225v1M822.5 225v1M823.5 225v1M824.5 225v1M825.5 225v1M826.5 225v1M827.5 226v1M828.5 226v1M829.5 226v1M830.5 226v1M831.5 227v1M832.5 227v1M833.5 227v1M834.5 228v1M835.5 228v1M836.5 228v1M837.5 228v1M838.5 229v1M839.5 229v1M840.5 229v1M841.5 230v1M842.5 230v1M843.5 230v1M844.5 231v1M845.5 231v1M846.5 232v1M847.5 232v1M848.5 232v1M849.5 233v1M850.5 233v1M851.5 233v1M852.5 234v1M853.5 234v1M854.5 235v1M855.5 236v1M856.5 236v1M857.5 237v1M858.5 237v1M859.5 238v1M860.5 238v1M861.5 239v1M862.5 240v1M863.5 240v1M864.5 241v1M865.5 242v1M866.5 242v1M867.5 243v1M868.5 244v1M869.5 244v1M870.5 245v1M871.5 246v1M872.5 246v1M873.5 247v1M874.5 248v1M875.5 248v1M876.5 249v1M877.5 249v1M878.5 250v1M879.5 251v1M880.5 251v1M881.5 252v1M882.5 253v1M883.5 253v1M884.5 254v1M885.5 254v1M886.5 255v1M887.5 256v1M888.5 256v1M889.5 257v1M890.5 258v1M891.5 258v1M892.5 259v1M893.5 259v1M894.5 260v1M895.5 260v1M896.5 260v1M897.5 261v1M898.5 261v1M899.5 262v1M900.5 262v1M901.5 262v1M902.5 263v1M903.5 263v1M904.5 264v1M905.5 265v1M906.5 265v1M907.5 266v1M908.5 267v1M909.5 268v1M910.5 268v1M911.5 269v1M912.5 270v1M913.5 271v1M914.5 271v1M915.5 272v1M916.5 273v1M917.5 274v1M918.5 275v2M919.5 277v1M920.5 278v1M921.5 279v1M922.5 280v1M923.5 281v1M924.5 282v2M925.5 284v1M926.5 285v1M927.5 286v1M928.5 287v2M929.5 289v1M930.5 290v2M931.5 292v1M932.5 293v1M933.5 294v2M934.5 296v1M935.5 297v2M936.5 299v1M937.5 300v1M938.5 301v2M939.5 303v1M940.5 304v1M941.5 305v1M942.5 306v2M943.5 308v1M944.5 309v1M945.5 310v1M946.5 311v1M947.5 312v2M948.5 314v1M949.5 315v1M950.5 316v2M951.5 318v1M952.5 319v2M953.5 321v1M954.5 322v1M955.5 323v2M956.5 325v1M957.5 326v2M958.5 328v1M959.5 329v2M960.5 331v1M961.5 332v1M962.5 333v2M963.5 335v1M964.5 336v2M965.5 338v2M966.5 340v2M967.5 342v2M968.5 344v1M969.5 345v2M970.5 347v2M971.5 349v2M972.5 351v2M973.5 353v1M974.5 354v2M975.5 356v2M976.5 358v2M977.5 360v2M978.5 362v1M979.5 363v2M980.5 365v2M981.5 367v2M982.5 369v2M983.5 371v1M984.5 372v2M985.5 374v2M986.5 376v1M987.5 377v2M988.5 379v2M989.5 381v1M990.5 382v2M991.5 384v2M992.5 386v1M993.5 387v2M994.5 389v2M995.5 391v1M996.5 392v2M997.5 394v2M998.5 396v1M999.5 397v2M1000.5 399v2M1001.5 401v1M1002.5 402v2M1003.5 404v2M1004.5 406v1M1005.5 407v2M1006.5 409v2M1007.5 411v1M1008.5 412v1M1009.5 413v1M1010.5 414v1M1011.5 415v1M1012.5 416v2M1013.5 418v1M1014.5 419v1M1015.5 420v1M1016.5 421v1M1017.5 422v1M1018.5 423v1M1019.5 424v1M1020.5 424v1M1021.5 425v1M1022.5 426v1M1023.5 426v1M1024.5 427v1M1025.5 428v1M1026.5 428v1M1027.5 429v1M1028.5 430v1M1029.5 430v1M1030.5 431v1M1031.5 431v1M1032.5 432v1M1033.5 433v1M1034.5 433v1M1035.5 434v1M1036.5 434v1M1037.5 435v1M1038.5 435v1M1039.5 436v1M1040.5 437v1M1041.5 437v1M1042.5 438v1M1043.5 438v1M1044.5 439v1M1045.5 439v1M1046.5 439v1M1047.5 439v1M1048.5 439v1M1049.5 439v1M1050.5 439v1M1051.5 439v1M1052.5 439v1M1053.5 439v1M1054.5 439v1M1055.5 439v1M1056.5 439v1M1057.5 439v1M1058.5 439v1M1059.5 439v1M1060.5 438v1M1061.5 438v1M1062.5 438v1M1063.5 438v1M1064.5 438v1M1065.5 438v1M1066.5 438v1M1067.5 438v1M1068.5 437v1M1069.5 437v1M1070.5 436v1M1071.5 436v1M1072.5 436v1M1073.5 435v1M1074.5 435v1M1075.5 434v1M1076.5 434v1M1077.5 434v1M1078.5 433v1M1079.5 433v1M1080.5 432v1M1081.5 432v1M1082.5 431v1M1083.5 430v1M1084.5 430v1M1085.5 429v1M1086.5 428v1M1087.5 428v1M1088.5 427v1M1089.5 426v1M1090.5 426v1M1091.5 425v1M1092.5 424v1M1093.5 424v1M1094.5 423v1M1095.5 423v1M1096.5 422v1M1097.5 421v1M1098.5 421v1M1099.5 420v1M1100.5 420v1M1101.5 419v1M1102.5 419v1M1103.5 418v1M1104.5 417v1M1105.5 417v1M1106.5 416v1M1107.5 416v1M1108.5 415v1M1109.5 414v1M1110.5 413v1M1111.5 412v1M1112.5 411v1M1113.5 410v1M1114.5 409v1M1115.5 408v1M1116.5 408v1M1117.5 407v1M1118.5 406v1M1119.5 405v1M1120.5 404v1M1121.5 403v1M1122.5 402v1M1123.5 401v1M1124.5 400v1M1125.5 399v1M1126.5 398v1M1127.5 397v1M1128.5 396v1M1129.5 395v1M1130.5 394v1M1131.5 392v2M1132.5 391v1M1133.5 390v1M1134.5 389v1M1135.5 388v1M1136.5 387v1M1137.5 386v1M1138.5 385v1M1139.5 384v1M1140.5 383v1M1141.5 381v2M1142.5 380v1M1143.5 379v1M1144.5 378v1M1145.5 376v2M1146.5 375v1M1147.5 374v1M1148.5 373v1M1149.5 371v2M1150.5 370v1M1151.5 369v1M1152.5 367v2M1153.5 366v1M1154.5 364v2M1155.5 362v2M1156.5 361v1M1157.5 359v2M1158.5 358v1M1159.5 356v2M1160.5 354v2M1161.5 353v1M1162.5 351v2M1163.5 350v1M1164.5 349v1M1165.5 348v1M1166.5 346v2M1167.5 345v1M1168.5 344v1M1169.5 343v1M1170.5 342v1M1171.5 341v1M1172.5 339v2M1173.5 338v1M1174.5 337v1M1175.5 336v1M1176.5 335v1M1177.5 334v1M1178.5 333v1M1179.5 333v1M1180.5 332v1M1181.5 331v1M1182.5 330v1M1183.5 329v1M1184.5 328v1M1185.5 328v1M1186.5 327v1M1187.5 326v1M1188.5 325v1M1189.5 325v1M1190.5 325v1M1191.5 324v1M1192.5 324v1M1193.5 323v1M1194.5 323v1M1195.5 323v1M1196.5 322v1M1197.5 322v1M1198.5 321v1M1199.5 320v1M1200.5 319v1M1201.5 318v1M1202.5 318v1M1203.5 317v1M1204.5 316v1M1205.5 315v1M1206.5 314v1M1207.5 313v1M1208.5 312v1M1209.5 311v1M1210.5 310v1M1211.5 310v1M1212.5 309v1M1213.5 308v1M1214.5 307v1M1215.5 306v1M1216.5 305v1M1217.5 304v1M1218.5 303v1M1219.5 303v1M1220.5 302v1M1221.5 301v1M1222.5 300v1M1223.5 299v1M1224.5 298v1M1225.5 298v1M1226.5 297v1M1227.5 296v1M1228.5 295v1M1229.5 294v1M1230.5 293v1M1231.5 293v1M1232.5 292v1M1233.5 291v1M1234.5 290v1M1235.5 289v1M1236.5 288v1M1237.5 288v1M1238.5 287v1M1239.5 286v1M1240.5 285v1M1241.5 284v1M1242.5 284v1M1243.5 283v1M1244.5 282v1M1245.5 281v1M1246.5 280v1M1247.5 280v1M1248.5 279v1M1249.5 278v1M1250.5 277v1M1251.5 276v1M1252.5 275v1M1253.5 273v2M1254.5 272v1M1255.5 271v1M1256.5 270v1M1257.5 269v1M1258.5 268v1M1259.5 267v1M1260.5 266v1M1261.5 264v2M1262.5 263v1M1263.5 262v1M1264.5 261v1M1265.5 260v1M1266.5 259v1M1267.5 258v1M1268.5 257v1M1269.5 255v2M1270.5 254v1M1271.5 253v1M1272.5 252v1M1273.5 251v1M1274.5 250v1M1275.5 249v1M1276.5 248v1M1277.5 246v2M1278.5 245v1M1279.5 244v1M1280.5 243v1M1281.5 242v1M1282.5 240v2M1283.5 239v1M1284.5 237v2M1285.5 236v1M1286.5 234v2M1287.5 233v1M1288.5 231v2M1289.5 230v1M1290.5 228v2M1291.5 227v1M1292.5 225v2M1293.5 224v1M1294.5 222v2M1295.5 221v1M1296.5 219v2M1297.5 218v1M1298.5 216v2M1299.5 215v1M1300.5 213v2M1301.5 212v1M1302.5 210v2M1303.5 209v1M1304.5 207v2M1305.5 206v1M1306.5 204v2M1307.5 203v1M1308.5 202v1M1309.5 200v2M1310.5 199v1M1311.5 198v1M1312.5 196v2M1313.5 195v1M1314.5 194v1M1315.5 192v2M1316.5 191v1M1317.5 190v1M1318.5 188v2M1319.5 187v1M1320.5 186v1M1321.5 185v1M1322.5 184v1M1323.5 183v1M1324.5 183v1M1325.5 182v1M1326.5 181v1M1327.5 180v1M1328.5 179v1M1329.5 178v1M1330.5 177v1M1331.5 176v1M1332.5 176v1M1333.5 175v1M1334.5 174v1M1335.5 173v1M1336.5 172v1M1337.5 171v1M1338.5 169v2M1339.5 168v1M1340.5 167v1M1341.5 166v1M1342.5 165v1M1343.5 164v1M1344.5 162v2M1345.5 161v1M1346.5 160v1M1347.5 159v1M1348.5 158v1M1349.5 157v1M1350.5 157v1M1351.5 156v1M1352.5 155v1M1353.5 154v1M1354.5 153v1M1355.5 153v1M1356.5 152v1M1357.5 151v1M1358.5 150v1M1359.5 150v1M1360.5 149v1M1361.5 148v1M1362.5 148v1M1363.5 147v1M1364.5 147v1M1365.5 147v1M1366.5 147v1M1367.5 147v1M1368.5 146v1M1369.5 146v1M1370.5 146v1M1371.5 146v1M1372.5 146v1M1373.5 146v1M1374.5 146v1M1375.5 146v1M1376.5 145v1M1377.5 145v1M1378.5 145v1M1379.5 145v1M1380.5 145v1M1381.5 145v1M1382.5 145v1M1383.5 145v1M1384.5 144v1M1385.5 144v1M1386.5 144v1M1387.5 144v1M1388.5 144v1M1389.5 144v1M1390.5 144v1M1391.5 143v1M1392.5 143v1M1393.5 143v1M1394.5 143v1M1395.5 143v1M1396.5 143v1M1397.5 143v1M1398.5 142v1M1399.5 142v1M1400.5 142v1M1401.5 142v1M1402.5 142v1M1403.5 142v1M1404.5 142v1M1405.5 142v1M1406.5 141v1M1407.5 141v1M1408.5 141v1M1409.5 141v1M1410.5 141v1M1411.5 141v1M1412.5 141v1M1413.5 141v1M1414.5 140v1M1415.5 140v1M1416.5 140v1M1417.5 140v1M1418.5 140v1M1419.5 140v1M1420.5 141v1M1421.5 141v1M1422.5 141v1M1423.5 141v1M1424.5 141v1M1425.5 141v1M1426.5 141v1M1427.5 141v1M1428.5 141v1M1429.5 141v1M1430.5 141v1M1431.5 141v1M1432.5 141v1M1433.5 141v1M1434.5 141v1M1435.5 141v1M1436.5 141v1M1437.5 141v1M1438.5 141v1M1439.5 141v1M1440.5 141v1M1441.5 141v1M1442.5 141v1M1443.5 141v1M1444.5 142v1M1445.5 142v1M1446.5 142v1M1447.5 142v1M1448.5 142v1M1449.5 143v1M1450.5 143v1M1451.5 143v1M1452.5 143v1M1453.5 144v1M1454.5 144v1M1455.5 144v1M1456.5 144v1M1457.5 144v1M1458.5 145v1M1459.5 145v1M1460.5 145v1M1461.5 145v1M1462.5 146v1M1463.5 146v1M1464.5 146v1M1465.5 146v1M1466.5 147v1M1467.5 147v1" stroke="#3cb371" stroke-width="1" fill="none"/>
<path d="M0.5 299v1M1.5 298v1M2.5 297v1M3.5 297v1M4.5 296v1M5.5 296v1M6.5 295v1M7.5 294v1M8.5 294v1M9.5 293v1M10.5 292v1M11.5 292v1M12.5 292v1M13.5 292v1M14.5 292v1M15.5 292v1M16.5 292v1M17.5 292v1M18.5 292v1M19.5 293v1M20.5 293v1M21.5 293v1M22.5 293v1M23.5 293v1M24.5 293v1M25.5 294v1M26.5 294v1M27.5 294v1M28.5 295v1M29.5 295v1M30.5 295v1M31.5 296v1M32.5 296v1M33.5 296v1M34.5 296v1M35.5 297v1M36.5 297v1M37.5 297v1M38.5 298v1M39.5 298v1M40.5 298v1M41.5 299v1M42.5 299v1M43.5 299v1M44.5 299v1M45.5 300v1M46.5 300v1M47.5 300v1M48.5 301v1M49.5 301v1M50.5 301v1M51.5 302v1M52.5 302v1M53.5 302v1M54.5 302v1M55.5 302v1M56.5 302v1M57.5 302v1M58.5 302v1M59.5 302v1M60.5 302v1M61.5 303v1M62.5 303v1M63.5 303v1M64.5 303v1M65.5 303v1M66.5 303v1M67.5 302v2M68.5 301v1M69.5 299v2M70.5 298v1M71.5 296v2M72.5 294v2M73.5 293v1M74.5 291v2M75.5 290v1M76.5 288v2M77.5 285v3M78.5 283v2M79.5 281v2M80.5 279v2M81.5 276v3M82.5 274v2M83.5 272v2M84.5 270v2M85.5 267v3M86.5 265v2M87.5 263v2M88.5 260v3M89.5 257v3M90.5 253v4M91.5 250v3M92.5 247v3M93.5 243v4M94.5 240v3M95.5 237v3M96.5 233v4M97.5 230v3M98.5 227v3M99.5 223v4M100.5 220v3M101.5 217v3M102.5 213v4M103.5 210v3M104.5 207v3M105.5 204v3M106.5 202v2M107.5 200v2M108.5 198v2M109.5 196v2M110.5 195v1M111.5 194v1M112.5 193v1M113.5 192v1M114.5 191v1M115.5 190v1M116.5 189v1M117.5 188v1M118.5 188v1M119.5 188v1M120.5 188v1M121.5 188v1M122.5 188v1M123.5 188v1M124.5 188v1M125.5 187v1M126.5 187v1M127.5 188v1M128.5 188v1M129.5 188v1M130.5 188v1M131.5 189v1M132.5 189v1M133.5 189v1M134.5 189v1M135.5 190v1M136.5 190v1M137.5 190v1M138.5 190v1M139.5 191v1M140.5 191v1M141.5 192v1M142.5 192v1M143.5 193v1M144.5 193v1M145.5 193v1M146.5 194v1M147.5 194v1M148.5 194v1M149.5 193v1M150.5 193v1M151.5 192v1M152.5 192v1M153.5 192v1M154.5 191v1M155.5 192v1M156.5 192v1M157.5 192v1M158.5 193v1M159.5 193v1M160.5 193v1M161.5 194v1M162.5 195v1M163.5 196v1M164.5 197v1M165.5 198v1M166.5 199v1M167.5 200v1M168.5 201v1M169.5 201v1M170.5 202v1M171.5 202v1M172.5 203v1M173.5 203v1M174.5 204v1M175.5 204v1M176.5 205v1M177.5 206v1M178.5 206v1M179.5 207v1M180.5 207v1M181.5 207v1M182.5 207v1M183.5 208v1M184.5 208v1M185.5 208v1M186.5 208v1M187.5 208v1M188.5 209v1M189.5 209v1M190.5 209v1M191.5 209v1M192.5 210v1M193.5 210v1M194.5 210v1M195.5 211v1M196.5 211v1M197.5 212v1M198.5 213v1M199.5 213v1M200.5 214v1M201.5 214v1M202.5 215v1M203.5 215v1M204.5 216v1M205.5 216v1M206.5 217v1M207.5 218v1M208.5 218v1M209.5 218v1M210.5 219v1M211.5 219v1M212.5 219v1M213.5 220v1M214.5 220v1M215.5 220v1M216.5 220v1M217.5 221v1M218.5 221v1M219.5 221v1M220.5 222v1M221.5 222v1M222.5 222v1M223.5 223v1M224.5 223v1M225.5 224v1M226.5 224v1M227.5 225v1M228.5 225v1M229.5 226v1M230.5 226v1M231.5 227v1M232.5 227v1M233.5 228v1M234.5 228v1M235.5 229v1M236.5 229v1M237.5 230v1M238.5 230v1M239.5 231v1M240.5 232v1M241.5 233v1M242.5 234v1M243.5 235v1M244.5 236v1M245.5 237v1M246.5 238v1M247.5 239v1M248.5 240v1M249.5 241v1M250.5 242v1M251.5 243v1M252.5 244v1M253.5 245v1M254.5 246v1M255.5 247v1M256.5 248v1M257.5 248v1M258.5 249v1M259.5 250v1M260.5 251v1M261.5 252v1M262.5 253v1M263.5 254v1M264.5 255v1M265.5 255v1M266.5 256v1M267.5 256v1M268.5 257v1M269.5 257v1M270.5 258v1M271.5 258v1M272.5 259v1M273.5 259v1M274.5 260v1M275.5 260v1M276.5 261v1M277.5 262v1M278.5 262v1M279.5 263v1M280.5 264v1M281.5 264v1M282.5 265v1M283.5 266v1M284.5 266v1M285.5 267v1M286.5 266v1M287.5 266v1M288.5 266v1M289.5 266v1M290.5 266v1M291.5 266v1M292.5 266v1M293.5 265v1M294.5 266v1M295.5 267v1M296.5 268v1M297.5 269v1M298.5 270v1M299.5 271v1M300.5 272v1M301.5 273v1M302.5 274v1M303.5 275v1M304.5 276v2M305.5 278v1M306.5 279v1M307.5 280v1M308.5 281v1M309.5 282v1M310.5 283v1M311.5 284v1M312.5 285v1M313.5 286v1M314.5 286v1M315.5 287v1M316.5 287v1M317.5 288v1M318.5 289v1M319.5 289v1M320.5 290v1M321.5 291v1M322.5 291v1M323.5 292v1M324.5 292v1M325.5 293v1M326.5 293v1M327.5 294v1M328.5 294v1M329.5 295v1M330.5 295v1M331.5 296v1M332.5 296v1M333.5 297v1M334.5 297v1M335.5 298v1M336.5 299v1M337.5 300v1M338.5 301v1M339.5 302v1M340.5 303v1M341.5 304v1M342.5 305v1M343.5 306v1M344.5 307v1M345.5 308v1M346.5 309v1M347.5 310v1M348.5 311v1M349.5 312v1M350.5 312v1M351.5 313v1M352.5 314v1M353.5 315v1M354.5 316v2M355.5 318v1M356.5 319v2M357.5 321v1M358.5 322v2M359.5 324v1M360.5 325v2M361.5 327v1M362.5 328v2M363.5 330v1M364.5 331v2M365.5 333v1M366.5 334v2M367.5 336v1M368.5 337v2M369.5 339v1M370.5 340v1M371.5 341v2M372.5 343v1M373.5 344v2M374.5 346v1M375.5 347v2M376.5 349v1M377.5 350v1M378.5 351v2M379.5 353v1M380.5 354v1M381.5 355v1M382.5 356v1M383.5 357v2M384.5 359v1M385.5 360v1M386.5 361v1M387.5 362v1M388.5 363v1M389.5 363v1M390.5 363v1M391.5 363v1M392.5 363v1M393.5 363v1M394.5 363v1M395.5 364v1M396.5 364v1M397.5 364v1M398.5 364v1M399.5 364v1M400.5 364v1M401.5 364v1M402.5 364v1M403.5 364v1M404.5 364v1M405.5 363v1M406.5 363v1M407.5 363v1M408.5 363v1M409.5 363v1M410.5 363v1M411.5 363v1M412.5 363v1M413.5 362v1M414.5 362v1M415.5 362v1M416.5 362v1M417.5 362v1M418.5 362v1M419.5 362v1M420.5 362v1M421.5 362v1M422.5 362v1M423.5 363v1M424.5 363v1M425.5 363v1M426.5 363v1M427.5 363v1M428.5 363v1M429.5 363v1M430.5 363v1M431.5 363v1M432.5 363v1M433.5 363v1M434.5 363v1M435.5 363v1M436.5 363v1M437.5 363v1M438.5 363v1M439.5 363v1M440.5 363v1M441.5 363v1M442.5 363v1M443.5 362v1M444.5 362v1M445.5 362v1M446.5 362v1M447.5 362v1M448.5 362v1M449.5 362v1M450.5 362v1M451.5 362v1M452.5 362v1M453.5 362v1M454.5 362v1M455.5 362v1M456.5 363v1M457.5 363v1M458.5 363v1M459.5 363v1M460.5 364v1M461.5 364v1M462.5 364v1M463.5 364v1M464.5 365v1M465.5 365v1M466.5 365v1M467.5 365v1M468.5 366v1M469.5 366v1M470.5 366v1M471.5 366v1M472.5 367v1M473.5 367v1M474.5 367v1M475.5 367v1M476.5 368v1M477.5 368v1M478.5 368v1M479.5 368v1M480.5 369v1M481.5 369v1M482.5 369v1M483.5 369v1M484.5 370v1M485.5 370v1M486.5 370v1M487.5 370v1M488.5 370v1M489.5 370v1M490.5 371v1M491.5 371v1M492.5 371v1M493.5 371v1M494.5 371v1M495.5 371v1M496.5 372v1M497.5 372v1M498.5 372v1M499.5 372v1M500.5 372v1M501.5 371v1M502.5 371v1M503.5 371v1M504.5 370v1M505.5 370v1M506.5 369v1M507.5 369v1M508.5 368v1M509.5 367v1M510.5 366v1M511.5 365v1M512.5 364v1M513.5 363v1M514.5 363v1M515.5 362v1M516.5 361v1M517.5 360v1M518.5 359v1M519.5 358v1M520.5 357v1M521.5 356v1M522.5 355v1M523.5 354v1M524.5 353v1M525.5 352v1M526.5 351v1M527.5 350v1M528.5 349v1M529.5 348v1M530.5 347v1M531.5 346v1M532.5 345v1M533.5 344v1M534.5 342v2M535.5 341v1M536.5 341v1M537.5 340v1M538.5 340v1M539.5 339v1M540.5 337v2M541.5 335v2M542.5 333v2M543.5 331v2M544.5 329v2M545.5 327v2M546.5 324v3M547.5 323v1M548.5 322v1M549.5 322v1M550.5 322v1M551.5 322v1M552.5 321v1M553.5 321v1M554.5 321v1M555.5 321v1M556.5 321v1M557.5 322v1M558.5 323v1M559.5 324v1M560.5 325v1M561.5 326v1M562.5 326v1M563.5 327v1M564.5 328v1M565.5 329v1M566.5 330v1M567.5 331v1M568.5 332v1M569.5 333v1M570.5 334v1M571.5 335v1M572.5 336v1M573.5 337v1M574.5 338v2M575.5 340v1M576.5 341v1M577.5 342v2M578.5 344v1M579.5 345v1M580.5 346v1M581.5 347v1M582.5 348v1M583.5 349v1M584.5 350v1M585.5 351v1M586.5 352v1M587.5 353v1M588.5 354v1M589.5 354v1M590.5 355v1M591.5 355v1M592.5 356v1M593.5 356v1M594.5 356v1M595.5 357v1M596.5 357v1M597.5 357v1M598.5 357v1M599.5 357v1M600.5 358v1M601.5 358v1M602.5 358v1M603.5 358v1M604.5 358v1M605.5 358v1M606.5 359v1M607.5 359v1M608.5 359v1M609.5 360v1M610.5 360v1M611.5 361v1M612.5 361v1M613.5 361v1M614.5 361v1M615.5 361v1M616.5 361v1M617.5 362v1M618.5 362v1M619.5 362v1M620.5 362v1M621.5 361v1M622.5 359v2M623.5 358v1M624.5 357v1M625.5 356v1M626.5 355v1M627.5 354v1M628.5 353v1M629.5 352v1M630.5 351v1M631.5 350v1M632.5 349v1M633.5 348v1M634.5 347v1M635.5 347v1M636.5 346v1M637.5 347v1M638.5 348v1M639.5 349v2M640.5 351v1M641.5 352v2M642.5 354v1M643.5 355v1M644.5 356v2M645.5 358v1M646.5 359v1M647.5 360v2M648.5 362v1M649.5 363v1M650.5 364v1M651.5 365v2M652.5 367v1M653.5 367v1M654.5 368v1M655.5 369v1M656.5 369v1M657.5 370v1M658.5 370v1M659.5 371v1M660.5 372v1M661.5 372v1M662.5 372v1M663.5 372v1M664.5 373v1M665.5 373v1M666.5 373v1M667.5 374v1M668.5 374v1M669.5 373v1M670.5 373v1M671.5 373v1M672.5 372v1M673.5 372v1M674.5 372v1M675.5 372v1M676.5 372v1M677.5 372v1M678.5 372v1M679.5 372v1M680.5 372v1M681.5 372v1M682.5 373v1M683.5 373v1M684.5 373v1M685.5 373v1M686.5 374v1M687.5 374v1M688.5 374v1M689.5 374v1M690.5 374v1M691.5 375v1M692.5 375v1M693.5 375v1M694.5 375v1M695.5 374v1M696.5 374v1M697.5 374v1M698.5 374v1M699.5 373v1M700.5 373v1M701.5 373v1M702.5 373v1M703.5 373v1M704.5 372v1M705.5 372v1M706.5 372v1M707.5 372v1M708.5 372v1M709.5 371v1M710.5 371v1M711.5 370v1M712.5 370v1M713.5 369v1M714.5 369v1M715.5 368v1M716.5 368v1M717.5 367v1M718.5 366v1M719.5 365v1M720.5 364v1M721.5 363v1M722.5 362v1M723.5 361v1M724.5 360v1M725.5 359v1M726.5 358v1M727.5 357v1M728.5 355v2M729.5 354v1M730.5 353v1M731.5 352v1M732.5 350v2M733.5 349v1M734.5 348v1M735.5 346v2M736.5 345v1M737.5 344v1M738.5 343v1M739.5 341v2M740.5 340v1M741.5 339v1M742.5 338v1M743.5 337v1M744.5 336v1M745.5 335v1M746.5 334v1M747.5 333v1M748.5 332v1M749.5 331v1M750.5 330v1M751.5 329v1M752.5 328v1M753.5 328v1M754.5 327v1M755.5 326v1M756.5 325v1M757.5 324v1M758.5 323v1M759.5 322v1M760.5 322v1M761.5 321v1M762.5 320v1M763.5 319v1M764.5 317v2M765.5 315v2M766.5 313v2M767.5 311v2M768.5 309v2M769.5 307v2M770.5 305v2M771.5 303v2M772.5 301v2M773.5 299v2M774.5 297v2M775.5 294v3M776.5 292v2M777.5 290v2M778.5 289v1M779.5 288v1M780.5 288v1M781.5 287v1M782.5 286v1M783.5 285v1M784.5 285v1M785.5 284v1M786.5 283v1M787.5 283v1M788.5 283v1M789.5 282v1M790.5 282v1M791.5 282v1M792.5 282v1M793.5 281v1M794.5 281v1M795.5 281v1M796.5 281v1M797.5 281v1M798.5 282v1M799.5 282v1M800.5 282v1M801.5 283v1M802.5 283v1M803.5 284v1M804.5 284v1M805.5 285v1M806.5 285v1M807.5 286v1M808.5 286v1M809.5 286v1M810.5 287v1M811.5 287v1M812.5 287v1M813.5 287v1M814.5 287v1M815.5 287v1M816.5 287v1M817.5 287v1M818.5 287v1M819.5 287v1M820.5 287v1M821.5 287v1M822.5 287v1M823.5 287v1M824.5 287v1M825.5 287v1M826.5 287v1M827.5 287v1M828.5 287v1M829.5 287v1M830.5 287v1M831.5 288v1M832.5 288v1M833.5 288v1M834.5 289v1M835.5 289v1M836.5 289v1M837.5 290v1M838.5 290v1M839.5 290v1M840.5 291v1M841.5 291v1M842.5 291v1M843.5 291v1M844.5 291v1M845.5 291v1M846.5 291v1M847.5 291v1M848.5 291v1M849.5 291v1M850.5 291v1M851.5 291v1M852.5 292v1M853.5 292v1M854.5 292v1M855.5 292v1M856.5 292v1M857.5 292v1M858.5 292v1M859.5 292v1M860.5 292v1M861.5 292v1M862.5 292v1M863.5 291v1M864.5 291v1M865.5 291v1M866.5 291v1M867.5 291v1M868.5 291v1M869.5 292v1M870.5 293v1M871.5 294v2M872.5 296v1M873.5 297v1M874.5 298v1M875.5 299v1M876.5 300v2M877.5 302v2M878.5 304v2M879.5 306v1M880.5 307v2M881.5 309v2M882.5 311v2M883.5 313v2M884.5 315v2M885.5 317v2M886.5 319v2M887.5 321v2M888.5 323v2M889.5 325v2M890.5 327v2M891.5 329v1M892.5 330v2M893.5 332v2M894.5 334v2M895.5 336v1M896.5 337v2M897.5 339v2M898.5 341v1M899.5 342v2M900.5 344v2M901.5 346v2M902.5 348v1M903.5 349v2M904.5 351v2M905.5 353v2M906.5 355v2M907.5 357v2M908.5 359v3M909.5 362v3M910.5 365v2M911.5 367v3M912.5 370v2M913.5 372v3M914.5 375v3M915.5 378v2M916.5 380v3M917.5 383v3M918.5 386v4M919.5 390v3M920.5 393v3M921.5 396v3M922.5 399v3M923.5 402v4M924.5 406v3M925.5 409v3M926.5 412v3M927.5 415v3M928.5 418v3M929.5 421v3M930.5 424v3M931.5 427v3M932.5 430v3M933.5 433v3M934.5 436v3M935.5 439v3M936.5 442v3M937.5 445v2M938.5 447v2M939.5 449v3M940.5 452v2M941.5 454v2M942.5 456v3M943.5 459v2M944.5 461v2M945.5 463v3M946.5 466v2M947.5 468v2M948.5 470v3M949.5 473v3M950.5 476v3M951.5 479v2M952.5 481v3M953.5 484v3M954.5 487v3M955.5 490v3M956.5 493v2M957.5 495v3M958.5 498v3M959.5 501v4M960.5 505v3M961.5 508v3M962.5 511v3M963.5 514v4M964.5 518v3M965.5 521v3M966.5 524v3M967.5 527v2M968.5 529v3M969.5 532v2M970.5 534v3M971.5 537v2M972.5 539v3M973.5 542v2M974.5 544v1M975.5 545v1M976.5 546v2M977.5 548v1M978.5 549v1M979.5 550v1M980.5 551v1M981.5 552v1M982.5 553v1M983.5 554v2M984.5 556v1M985.5 557v1M986.5 558v1M987.5 559v1M988.5 560v2M989.5 562v1M990.5 563v1M991.5 564v2M992.5 566v1M993.5 567v2M994.5 569v1M995.5 570v1M996.5 571v2M997.5 573v1M998.5 574v1M999.5 575v1M1000.5 576v1M1001.5 577v1M1002.5 578v1M1003.5 579v1M1004.5 580v1M1005.5 580v1M1006.5 580v1M1007.5 580v1M1008.5 580v1M1009.5 580v1M1010.5 580v1M1011.5 580v1M1012.5 580v1M1013.5 580v1M1014.5 580v1M1015.5 580v1M1016.5 579v1M1017.5 578v1M1018.5 576v2M1019.5 575v1M1020.5 574v1M1021.5 573v1M1022.5 572v1M1023.5 571v1M1024.5 570v1M1025.5 569v1M1026.5 568v1M1027.5 567v1M1028.5 565v2M1029.5 564v1M1030.5 563v1M1031.5 562v1M1032.5 561v1M1033.5 560v1M1034.5 559v1M1035.5 558v1M1036.5 557v1M1037.5 557v1M1038.5 556v1M1039.5 556v1M1040.5 555v1M1041.5 554v1M1042.5 554v1M1043.5 553v1M1044.5 553v1M1045.5 552v1M1046.5 552v1M1047.5 551v1M1048.5 550v1M1049.5 550v1M1050.5 549v1M1051.5 549v1M1052.5 549v1M1053.5 549v1M1054.5 549v1M1055.5 550v1M1056.5 550v1M1057.5 551v1M1058.5 551v1M1059.5 551v1M1060.5 552v1M1061.5 552v1M1062.5 552v1M1063.5 553v1M1064.5 553v1M1065.5 554v1M1066.5 554v1M1067.5 554v1M1068.5 555v1M1069.5 555v1M1070.5 556v1M1071.5 556v1M1072.5 557v1M1073.5 558v1M1074.5 558v1M1075.5 559v1M1076.5 559v1M1077.5 560v1M1078.5 560v1M1079.5 561v1M1080.5 562v1M1081.5 562v1M1082.5 563v1M1083.5 563v1M1084.5 563v1M1085.5 563v1M1086.5 563v1M1087.5 563v1M1088.5 563v1M1089.5 563v1M1090.5 563v1M1091.5 563v1M1092.5 563v1M1093.5 563v1M1094.5 563v1M1095.5 563v1M1096.5 563v1M1097.5 563v1M1098.5 563v1M1099.5 563v1M1100.5 562v1M1101.5 562v1M1102.5 561v1M1103.5 560v1M1104.5 560v1M1105.5 559v1M1106.5 559v1M1107.5 558v1M1108.5 558v1M1109.5 557v1M1110.5 556v1M1111.5 556v1M1112.5 555v1M1113.5 553v2M1114.5 552v1M1115.5 551v1M1116.5 549v2M1117.5 548v1M1118.5 547v1M1119.5 545v2M1120.5 544v1M1121.5 543v1M1122.5 541v2M1123.5 540v1M1124.5 538v2M1125.5 536v2M1126.5 535v1M1127.5 533v2M1128.5 531v2M1129.5 530v1M1130.5 528v2M1131.5 526v2M1132.5 525v1M1133.5 523v2M1134.5 521v2M1135.5 520v1M1136.5 518v2M1137.5 516v2M1138.5 514v2M1139.5 512v2M1140.5 510v2M1141.5 509v1M1142.5 507v2M1143.5 505v2M1144.5 503v2M1145.5 501v2M1146.5 499v2M1147.5 497v2M1148.5 495v2M1149.5 493v2M1150.5 490v3M1151.5 487v3M1152.5 485v2M1153.5 482v3M1154.5 480v2M1155.5 477v3M1156.5 474v3M1157.5 472v2M1158.5 468v4M1159.5 465v3M1160.5 461v4M1161.5 458v3M1162.5 454v4M1163.5 451v3M1164.5 447v4M1165.5 444v3M1166.5 441v3M1167.5 437v4M1168.5 434v3M1169.5 431v3M1170.5 427v4M1171.5 424v3M1172.5 423v1M1173.5 423v1M1174.5 422v1M1175.5 421v1M1176.5 421v1M1177.5 420v1M1178.5 419v1M1179.5 419v1M1180.5 418v1M1181.5 418v1M1182.5 417v1M1183.5 416v1M1184.5 416v1M1185.5 415v1M1186.5 414v1M1187.5 414v1M1188.5 413v1M1189.5 412v1M1190.5 410v2M1191.5 409v1M1192.5 408v1M1193.5 407v1M1194.5 406v1M1195.5 405v1M1196.5 403v2M1197.5 402v1M1198.5 401v1M1199.5 400v1M1200.5 399v1M1201.5 399v1M1202.5 398v1M1203.5 397v1M1204.5 397v1M1205.5 397v1M1206.5 397v1M1207.5 398v1M1208.5 399v1M1209.5 399v1M1210.5 400v1M1211.5 401v1M1212.5 402v1M1213.5 402v1M1214.5 403v1M1215.5 404v1M1216.5 405v1M1217.5 406v1M1218.5 407v1M1219.5 407v1M1220.5 408v1M1221.5 408v1M1222.5 408v1M1223.5 408v1M1224.5 408v1M1225.5 408v1M1226.5 408v1M1227.5 408v1M1228.5 408v1M1229.5 408v1M1230.5 408v1M1231.5 408v1M1232.5 408v1M1233.5 408v1M1234.5 408v1M1235.5 408v1M1236.5 408v1M1237.5 408v1M1238.5 408v1M1239.5 408v1M1240.5 408v1M1241.5 408v1M1242.5 407v1M1243.5 407v1M1244.5 407v1M1245.5 407v1M1246.5 407v1M1247.5 406v1M1248.5 406v1M1249.5 406v1M1250.5 406v1M1251.5 406v1M1252.5 405v1M1253.5 404v1M1254.5 403v1M1255.5 402v1M1256.5 400v2M1257.5 399v1M1258.5 398v1M1259.5 397v1M1260.5 396v1M1261.5 395v1M1262.5 393v2M1263.5 392v1M1264.5 390v2M1265.5 389v1M1266.5 387v2M1267.5 386v1M1268.5 384v2M1269.5 383v1M1270.5 381v2M1271.5 380v1M1272.5 379v1M1273.5 378v1M1274.5 376v2M1275.5 375v1M1276.5 374v1M1277.5 373v1M1278.5 372v1M1279.5 370v2M1280.5 369v1M1281.5 368v1M1282.5 366v2M1283.5 364v2M1284.5 363v1M1285.5 361v2M1286.5 359v2M1287.5 357v2M1288.5 356v1M1289.5 354v2M1290.5 352v2M1291.5 351v1M1292.5 349v2M1293.5 347v2M1294.5 345v2M1295.5 344v1M1296.5 342v2M1297.5 340v2M1298.5 338v2M1299.5 336v2M1300.5 335v1M1301.5 333v2M1302.5 331v2M1303.5 329v2M1304.5 327v2M1305.5 326v1M1306.5 325v1M1307.5 324v1M1308.5 322v2M1309.5 321v1M1310.5 320v1M1311.5 319v1M1312.5 318v1M1313.5 316v2M1314.5 315v1M1315.5 314v1M1316.5 313v1M1317.5 313v1M1318.5 313v1M1319.5 312v1M1320.5 312v1M1321.5 311v1M1322.5 311v1M1323.5 311v1M1324.5 310v1M1325.5 308v2M1326.5 307v1M1327.5 306v1M1328.5 305v1M1329.5 303v2M1330.5 302v1M1331.5 301v1M1332.5 300v1M1333.5 298v2M1334.5 297v1M1335.5 296v1M1336.5 295v1M1337.5 293v2M1338.5 292v1M1339.5 291v1M1340.5 289v2M1341.5 288v1M1342.5 287v1M1343.5 285v2M1344.5 284v1M1345.5 283v1M1346.5 281v2M1347.5 279v2M1348.5 277v2M1349.5 273v4M1350.5 270v3M1351.5 267v3M1352.5 263v4M1353.5 260v3M1354.5 257v3M1355.5 253v4M1356.5 250v3M1357.5 247v3M1358.5 243v4M1359.5 240v3M1360.5 237v3M1361.5 235v2M1362.5 233v2M1363.5 231v2M1364.5 230v1M1365.5 230v1M1366.5 230v1M1367.5 230v1M1368.5 229v1M1369.5 229v1M1370.5 229v1M1371.5 229v1M1372.5 228v1M1373.5 228v1M1374.5 228v1M1375.5 228v1M1376.5 227v1M1377.5 227v1M1378.5 227v1M1379.5 227v1M1380.5 226v1M1381.5 226v1M1382.5 225v1M1383.5 224v1M1384.5 224v1M1385.5 223v1M1386.5 222v1M1387.5 222v1M1388.5 221v1M1389.5 221v1M1390.5 220v1M1391.5 219v1M1392.5 219v1M1393.5 218v1M1394.5 217v1M1395.5 217v1M1396.5 216v1M1397.5 216v1M1398.5 216v1M1399.5 215v1M1400.5 215v1M1401.5 215v1M1402.5 215v1M1403.5 214v1M1404.5 214v1M1405.5 214v1M1406.5 213v1M1407.5 213v1M1408.5 213v1M1409.5 213v1M1410.5 212v1M1411.5 212v1M1412.5 212v1M1413.5 212v1M1414.5 211v1M1415.5 211v1M1416.5 211v1M1417.5 211v1M1418.5 211v1M1419.5 211v1M1420.5 211v1M1421.5 211v1M1422.5 211v1M1423.5 212v1M1424.5 212v1M1425.5 212v1M1426.5 213v1M1427.5 213v1M1428.5 213v1M1429.5 213v1M1430.5 213v1M1431.5 212v1M1432.5 212v1M1433.5 212v1M1434.5 212v1M1435.5 212v1M1436.5 212v1M1437.5 212v1M1438.5 212v1M1439.5 212v1M1440.5 212v1M1441.5 212v1M1442.5 212v1M1443.5 212v1M1444.5 212v1M1445.5 212v1M1446.5 212v1M1447.5 212v1M1448.5 212v1M1449.5 213v1M1450.5 213v1M1451.5 213v1M1452.5 214v1M1453.5 214v1M1454.5 214v1M1455.5 214v1M1456.5 213v1M1457.5 213v1M1458.5 213v1M1459.5 213v1M1460.5 213v1M1461.5 213v1M1462.5 213v1M1463.5 213v1M1464.5 212v1M1465.5 212v1M1466.5 212v1M1467.5 212v1" stroke="#3cb371" stroke-width="1" fill="none"/>
<rect x="0" y="117" width="1654" height="1" fill="#ff4500"/>
<rect x="0" y="135" width="1654" height="1" fill="#ff0000"/>
<rect x="0" y="156" width="1654" height="1" fill="#c0c0c0"/>
<rect x="0" y="167" width="1654" height="1" fill="#32cd32"/>
<rect x="0" y="183" width="1654" height="1" fill="#0000ff"/>
<rect x="0" y="198" width="1654" height="1" fill="#0000ff"/>
<rect x="589.5" y="147.5" width="61" height="18" fill="#fff" stroke="#ff0000" stroke-width="1"/>
<text x="592.2" y="162.9" font-family='"Liberation Serif", serif' font-size="17.7" fill="#ff0000" shape-rendering="auto">1.39104</text>
<rect x="651" y="156" width="9" height="1" fill="#ff0000"/>
<rect x="1277.5" y="61.5" width="61" height="18" fill="#fff" stroke="#ff0000" stroke-width="1"/>
<text x="1280.1" y="77.2" font-family='"Liberation Serif", serif' font-size="17.7" fill="#ff0000" shape-rendering="auto">1.39818</text>
<rect x="1339" y="70" width="9" height="1" fill="#ff0000"/>
<rect x="901.5" y="552.5" width="61" height="18" fill="#fff" stroke="#ff0000" stroke-width="1"/>
<text x="904.1" y="567.7" font-family='"Liberation Serif", serif' font-size="17.7" fill="#ff0000" shape-rendering="auto">1.35706</text>
<rect x="963" y="561" width="9" height="1" fill="#ff0000"/>
<rect x="1119.5" y="155.5" width="73" height="24" fill="#fff" stroke="#ff0000"/>
<rect x="1109" y="167" width="10" height="1" fill="#ff0000"/>
<text x="1121.6" y="175.3" font-family='"Liberation Sans", sans-serif' font-size="21.8" fill="#ff0000" stroke="#ff0000" stroke-width="0.35" textLength="69.4" lengthAdjust="spacingAndGlyphs">1.39006</text>
<rect x="1348" y="70" width="1" height="21" fill="#000"/>
<rect x="660" y="156" width="1" height="16" fill="#000"/>
<rect x="4" y="160" width="1" height="58" fill="#000"/>
<rect x="2" y="169" width="5" height="19" fill="#000"/>
<rect x="3" y="170" width="3" height="17" fill="#fff"/>
<rect x="12" y="133" width="1" height="61" fill="#000"/>
<rect x="10" y="145" width="5" height="24" fill="#000"/>
<rect x="11" y="146" width="3" height="22" fill="#fff"/>
<rect x="20" y="88" width="1" height="59" fill="#000"/>
<rect x="18" y="110" width="5" height="36" fill="#000"/>
<rect x="19" y="111" width="3" height="34" fill="#fff"/>
<rect x="28" y="102" width="1" height="16" fill="#000"/>
<rect x="26" y="111" width="5" height="1" fill="#000"/>
<rect x="36" y="106" width="1" height="35" fill="#000"/>
<rect x="34" y="110" width="5" height="24" fill="#000"/>
<rect x="44" y="80" width="1" height="61" fill="#000"/>
<rect x="42" y="92" width="5" height="42" fill="#000"/>
<rect x="43" y="93" width="3" height="40" fill="#fff"/>
<rect x="52" y="85" width="1" height="22" fill="#000"/>
<rect x="50" y="92" width="5" height="1" fill="#000"/>
<rect x="60" y="85" width="1" height="16" fill="#000"/>
<rect x="58" y="95" width="5" height="1" fill="#000"/>
<rect x="68" y="84" width="1" height="25" fill="#000"/>
<rect x="66" y="94" width="5" height="1" fill="#000"/>
<rect x="76" y="85" width="1" height="17" fill="#000"/>
<rect x="74" y="95" width="5" height="1" fill="#000"/>
<rect x="84" y="90" width="1" height="19" fill="#000"/>
<rect x="82" y="98" width="5" height="6" fill="#000"/>
<rect x="92" y="95" width="1" height="17" fill="#000"/>
<rect x="90" y="102" width="5" height="1" fill="#000"/>
<rect x="100" y="100" width="1" height="64" fill="#000"/>
<rect x="98" y="102" width="5" height="55" fill="#000"/>
<rect x="108" y="133" width="1" height="49" fill="#000"/>
<rect x="106" y="158" width="5" height="5" fill="#000"/>
<rect x="116" y="126" width="1" height="40" fill="#000"/>
<rect x="114" y="127" width="5" height="35" fill="#000"/>
<rect x="115" y="128" width="3" height="33" fill="#fff"/>
<rect x="124" y="123" width="1" height="38" fill="#000"/>
<rect x="122" y="127" width="5" height="24" fill="#000"/>
<rect x="132" y="127" width="1" height="28" fill="#000"/>
<rect x="130" y="134" width="5" height="17" fill="#000"/>
<rect x="131" y="135" width="3" height="15" fill="#fff"/>
<rect x="140" y="131" width="1" height="41" fill="#000"/>
<rect x="138" y="134" width="5" height="23" fill="#000"/>
<rect x="148" y="149" width="1" height="32" fill="#000"/>
<rect x="146" y="157" width="5" height="18" fill="#000"/>
<rect x="156" y="132" width="1" height="48" fill="#000"/>
<rect x="154" y="171" width="5" height="4" fill="#000"/>
<rect x="155" y="172" width="3" height="2" fill="#fff"/>
<rect x="164" y="159" width="1" height="45" fill="#000"/>
<rect x="162" y="172" width="5" height="27" fill="#000"/>
<rect x="172" y="174" width="1" height="9" fill="#000"/>
<rect x="170" y="174" width="5" height="8" fill="#000"/>
<rect x="171" y="175" width="3" height="6" fill="#fff"/>
<rect x="180" y="174" width="1" height="24" fill="#000"/>
<rect x="178" y="175" width="5" height="12" fill="#000"/>
<rect x="188" y="122" width="1" height="65" fill="#000"/>
<rect x="186" y="137" width="5" height="50" fill="#000"/>
<rect x="187" y="138" width="3" height="48" fill="#fff"/>
<rect x="196" y="135" width="1" height="51" fill="#000"/>
<rect x="194" y="138" width="5" height="44" fill="#000"/>
<rect x="204" y="138" width="1" height="54" fill="#000"/>
<rect x="202" y="175" width="5" height="7" fill="#000"/>
<rect x="203" y="176" width="3" height="5" fill="#fff"/>
<rect x="212" y="175" width="1" height="26" fill="#000"/>
<rect x="210" y="175" width="5" height="26" fill="#000"/>
<rect x="220" y="191" width="1" height="14" fill="#000"/>
<rect x="218" y="195" width="5" height="5" fill="#000"/>
<rect x="219" y="196" width="3" height="3" fill="#fff"/>
<rect x="228" y="192" width="1" height="27" fill="#000"/>
<rect x="226" y="195" width="5" height="16" fill="#000"/>
<rect x="236" y="194" width="1" height="30" fill="#000"/>
<rect x="234" y="210" width="5" height="9" fill="#000"/>
<rect x="244" y="211" width="1" height="52" fill="#000"/>
<rect x="242" y="218" width="5" height="39" fill="#000"/>
<rect x="252" y="231" width="1" height="41" fill="#000"/>
<rect x="250" y="236" width="5" height="21" fill="#000"/>
<rect x="251" y="237" width="3" height="19" fill="#fff"/>
<rect x="260" y="225" width="1" height="20" fill="#000"/>
<rect x="258" y="228" width="5" height="9" fill="#000"/>
<rect x="259" y="229" width="3" height="7" fill="#fff"/>
<rect x="268" y="227" width="1" height="26" fill="#000"/>
<rect x="266" y="228" width="5" height="14" fill="#000"/>
<rect x="276" y="216" width="1" height="26" fill="#000"/>
<rect x="274" y="226" width="5" height="15" fill="#000"/>
<rect x="275" y="227" width="3" height="13" fill="#fff"/>
<rect x="284" y="221" width="1" height="45" fill="#000"/>
<rect x="282" y="226" width="5" height="26" fill="#000"/>
<rect x="292" y="202" width="1" height="69" fill="#000"/>
<rect x="290" y="208" width="5" height="44" fill="#000"/>
<rect x="291" y="209" width="3" height="42" fill="#fff"/>
<rect x="300" y="207" width="1" height="77" fill="#000"/>
<rect x="298" y="208" width="5" height="75" fill="#000"/>
<rect x="308" y="247" width="1" height="44" fill="#000"/>
<rect x="306" y="249" width="5" height="34" fill="#000"/>
<rect x="307" y="250" width="3" height="32" fill="#fff"/>
<rect x="316" y="243" width="1" height="17" fill="#000"/>
<rect x="314" y="249" width="5" height="7" fill="#000"/>
<rect x="324" y="253" width="1" height="24" fill="#000"/>
<rect x="322" y="255" width="5" height="12" fill="#000"/>
<rect x="332" y="248" width="1" height="35" fill="#000"/>
<rect x="330" y="265" width="5" height="1" fill="#000"/>
<rect x="340" y="248" width="1" height="83" fill="#000"/>
<rect x="338" y="265" width="5" height="13" fill="#000"/>
<rect x="348" y="264" width="1" height="70" fill="#000"/>
<rect x="346" y="277" width="5" height="38" fill="#000"/>
<rect x="356" y="313" width="1" height="33" fill="#000"/>
<rect x="354" y="314" width="5" height="25" fill="#000"/>
<rect x="364" y="331" width="1" height="16" fill="#000"/>
<rect x="362" y="337" width="5" height="3" fill="#000"/>
<rect x="363" y="338" width="3" height="1" fill="#fff"/>
<rect x="372" y="321" width="1" height="19" fill="#000"/>
<rect x="370" y="326" width="5" height="13" fill="#000"/>
<rect x="371" y="327" width="3" height="11" fill="#fff"/>
<rect x="380" y="317" width="1" height="39" fill="#000"/>
<rect x="378" y="326" width="5" height="11" fill="#000"/>
<rect x="388" y="327" width="1" height="37" fill="#000"/>
<rect x="386" y="336" width="5" height="23" fill="#000"/>
<rect x="396" y="292" width="1" height="78" fill="#000"/>
<rect x="394" y="297" width="5" height="62" fill="#000"/>
<rect x="395" y="298" width="3" height="60" fill="#fff"/>
<rect x="404" y="235" width="1" height="66" fill="#000"/>
<rect x="402" y="246" width="5" height="52" fill="#000"/>
<rect x="403" y="247" width="3" height="50" fill="#fff"/>
<rect x="412" y="247" width="1" height="8" fill="#000"/>
<rect x="410" y="251" width="5" height="1" fill="#000"/>
<rect x="420" y="251" width="1" height="17" fill="#000"/>
<rect x="418" y="251" width="5" height="13" fill="#000"/>
<rect x="428" y="231" width="1" height="37" fill="#000"/>
<rect x="426" y="232" width="5" height="32" fill="#000"/>
<rect x="427" y="233" width="3" height="30" fill="#fff"/>
<rect x="436" y="215" width="1" height="20" fill="#000"/>
<rect x="434" y="222" width="5" height="11" fill="#000"/>
<rect x="435" y="223" width="3" height="9" fill="#fff"/>
<rect x="444" y="221" width="1" height="23" fill="#000"/>
<rect x="442" y="222" width="5" height="4" fill="#000"/>
<rect x="452" y="218" width="1" height="26" fill="#000"/>
<rect x="450" y="226" width="5" height="4" fill="#000"/>
<rect x="460" y="219" width="1" height="27" fill="#000"/>
<rect x="458" y="225" width="5" height="5" fill="#000"/>
<rect x="459" y="226" width="3" height="3" fill="#fff"/>
<rect x="468" y="183" width="1" height="45" fill="#000"/>
<rect x="466" y="189" width="5" height="39" fill="#000"/>
<rect x="467" y="190" width="3" height="37" fill="#fff"/>
<rect x="476" y="171" width="1" height="37" fill="#000"/>
<rect x="474" y="188" width="5" height="17" fill="#000"/>
<rect x="484" y="201" width="1" height="47" fill="#000"/>
<rect x="482" y="204" width="5" height="20" fill="#000"/>
<rect x="492" y="199" width="1" height="105" fill="#000"/>
<rect x="490" y="223" width="5" height="75" fill="#000"/>
<rect x="500" y="279" width="1" height="43" fill="#000"/>
<rect x="498" y="290" width="5" height="8" fill="#000"/>
<rect x="499" y="291" width="3" height="6" fill="#fff"/>
<rect x="508" y="283" width="1" height="14" fill="#000"/>
<rect x="506" y="284" width="5" height="6" fill="#000"/>
<rect x="507" y="285" width="3" height="4" fill="#fff"/>
<rect x="516" y="281" width="1" height="21" fill="#000"/>
<rect x="514" y="284" width="5" height="4" fill="#000"/>
<rect x="524" y="270" width="1" height="36" fill="#000"/>
<rect x="522" y="287" width="5" height="1" fill="#000"/>
<rect x="532" y="246" width="1" height="71" fill="#000"/>
<rect x="530" y="252" width="5" height="37" fill="#000"/>
<rect x="531" y="253" width="3" height="35" fill="#fff"/>
<rect x="540" y="239" width="1" height="106" fill="#000"/>
<rect x="538" y="252" width="5" height="47" fill="#000"/>
<rect x="548" y="267" width="1" height="38" fill="#000"/>
<rect x="546" y="289" width="5" height="10" fill="#000"/>
<rect x="547" y="290" width="3" height="8" fill="#fff"/>
<rect x="556" y="282" width="1" height="13" fill="#000"/>
<rect x="554" y="289" width="5" height="1" fill="#000"/>
<rect x="564" y="286" width="1" height="34" fill="#000"/>
<rect x="562" y="289" width="5" height="21" fill="#000"/>
<rect x="572" y="295" width="1" height="41" fill="#000"/>
<rect x="570" y="309" width="5" height="7" fill="#000"/>
<rect x="580" y="296" width="1" height="50" fill="#000"/>
<rect x="578" y="314" width="5" height="22" fill="#000"/>
<rect x="588" y="292" width="1" height="67" fill="#000"/>
<rect x="586" y="328" width="5" height="8" fill="#000"/>
<rect x="587" y="329" width="3" height="6" fill="#fff"/>
<rect x="596" y="306" width="1" height="29" fill="#000"/>
<rect x="594" y="307" width="5" height="22" fill="#000"/>
<rect x="595" y="308" width="3" height="20" fill="#fff"/>
<rect x="604" y="295" width="1" height="18" fill="#000"/>
<rect x="602" y="301" width="5" height="7" fill="#000"/>
<rect x="603" y="302" width="3" height="5" fill="#fff"/>
<rect x="612" y="295" width="1" height="34" fill="#000"/>
<rect x="610" y="300" width="5" height="13" fill="#000"/>
<rect x="620" y="303" width="1" height="38" fill="#000"/>
<rect x="618" y="313" width="5" height="2" fill="#000"/>
<rect x="628" y="259" width="1" height="65" fill="#000"/>
<rect x="626" y="268" width="5" height="48" fill="#000"/>
<rect x="627" y="269" width="3" height="46" fill="#fff"/>
<rect x="636" y="197" width="1" height="72" fill="#000"/>
<rect x="634" y="240" width="5" height="28" fill="#000"/>
<rect x="635" y="241" width="3" height="26" fill="#fff"/>
<rect x="644" y="181" width="1" height="60" fill="#000"/>
<rect x="642" y="182" width="5" height="59" fill="#000"/>
<rect x="643" y="183" width="3" height="57" fill="#fff"/>
<rect x="652" y="168" width="1" height="8" fill="#000"/>
<rect x="650" y="170" width="5" height="1" fill="#000"/>
<rect x="660" y="157" width="1" height="31" fill="#000"/>
<rect x="658" y="171" width="5" height="15" fill="#000"/>
<rect x="668" y="176" width="1" height="33" fill="#000"/>
<rect x="666" y="185" width="5" height="14" fill="#000"/>
<rect x="676" y="192" width="1" height="49" fill="#000"/>
<rect x="674" y="199" width="5" height="38" fill="#000"/>
<rect x="684" y="163" width="1" height="80" fill="#000"/>
<rect x="682" y="187" width="5" height="50" fill="#000"/>
<rect x="683" y="188" width="3" height="48" fill="#fff"/>
<rect x="692" y="187" width="1" height="16" fill="#000"/>
<rect x="690" y="187" width="5" height="3" fill="#000"/>
<rect x="700" y="183" width="1" height="11" fill="#000"/>
<rect x="698" y="186" width="5" height="4" fill="#000"/>
<rect x="699" y="187" width="3" height="2" fill="#fff"/>
<rect x="708" y="163" width="1" height="27" fill="#000"/>
<rect x="706" y="171" width="5" height="15" fill="#000"/>
<rect x="707" y="172" width="3" height="13" fill="#fff"/>
<rect x="716" y="170" width="1" height="45" fill="#000"/>
<rect x="714" y="171" width="5" height="43" fill="#000"/>
<rect x="724" y="212" width="1" height="31" fill="#000"/>
<rect x="722" y="213" width="5" height="17" fill="#000"/>
<rect x="732" y="220" width="1" height="69" fill="#000"/>
<rect x="730" y="230" width="5" height="4" fill="#000"/>
<rect x="740" y="222" width="1" height="57" fill="#000"/>
<rect x="738" y="234" width="5" height="41" fill="#000"/>
<rect x="748" y="269" width="1" height="15" fill="#000"/>
<rect x="746" y="274" width="5" height="9" fill="#000"/>
<rect x="756" y="260" width="1" height="28" fill="#000"/>
<rect x="754" y="265" width="5" height="19" fill="#000"/>
<rect x="755" y="266" width="3" height="17" fill="#fff"/>
<rect x="764" y="224" width="1" height="47" fill="#000"/>
<rect x="762" y="244" width="5" height="22" fill="#000"/>
<rect x="763" y="245" width="3" height="20" fill="#fff"/>
<rect x="772" y="198" width="1" height="50" fill="#000"/>
<rect x="770" y="217" width="5" height="27" fill="#000"/>
<rect x="771" y="218" width="3" height="25" fill="#fff"/>
<rect x="780" y="179" width="1" height="53" fill="#000"/>
<rect x="778" y="217" width="5" height="10" fill="#000"/>
<rect x="788" y="208" width="1" height="21" fill="#000"/>
<rect x="786" y="220" width="5" height="6" fill="#000"/>
<rect x="787" y="221" width="3" height="4" fill="#fff"/>
<rect x="796" y="211" width="1" height="15" fill="#000"/>
<rect x="794" y="220" width="5" height="2" fill="#000"/>
<rect x="804" y="219" width="1" height="44" fill="#000"/>
<rect x="802" y="221" width="5" height="28" fill="#000"/>
<rect x="812" y="209" width="1" height="65" fill="#000"/>
<rect x="810" y="248" width="5" height="20" fill="#000"/>
<rect x="820" y="171" width="1" height="102" fill="#000"/>
<rect x="818" y="203" width="5" height="65" fill="#000"/>
<rect x="819" y="204" width="3" height="63" fill="#fff"/>
<rect x="828" y="200" width="1" height="43" fill="#000"/>
<rect x="826" y="203" width="5" height="29" fill="#000"/>
<rect x="836" y="227" width="1" height="57" fill="#000"/>
<rect x="834" y="231" width="5" height="30" fill="#000"/>
<rect x="844" y="247" width="1" height="20" fill="#000"/>
<rect x="842" y="255" width="5" height="6" fill="#000"/>
<rect x="843" y="256" width="3" height="4" fill="#fff"/>
<rect x="852" y="241" width="1" height="20" fill="#000"/>
<rect x="850" y="242" width="5" height="14" fill="#000"/>
<rect x="851" y="243" width="3" height="12" fill="#fff"/>
<rect x="860" y="240" width="1" height="60" fill="#000"/>
<rect x="858" y="242" width="5" height="35" fill="#000"/>
<rect x="868" y="215" width="1" height="75" fill="#000"/>
<rect x="866" y="274" width="5" height="4" fill="#000"/>
<rect x="867" y="275" width="3" height="2" fill="#fff"/>
<rect x="876" y="242" width="1" height="80" fill="#000"/>
<rect x="874" y="273" width="5" height="36" fill="#000"/>
<rect x="884" y="301" width="1" height="27" fill="#000"/>
<rect x="882" y="308" width="5" height="20" fill="#000"/>
<rect x="892" y="330" width="1" height="10" fill="#000"/>
<rect x="890" y="332" width="5" height="3" fill="#000"/>
<rect x="891" y="333" width="3" height="1" fill="#fff"/>
<rect x="900" y="332" width="1" height="21" fill="#000"/>
<rect x="898" y="332" width="5" height="10" fill="#000"/>
<rect x="908" y="334" width="1" height="60" fill="#000"/>
<rect x="906" y="341" width="5" height="41" fill="#000"/>
<rect x="916" y="354" width="1" height="54" fill="#000"/>
<rect x="914" y="380" width="5" height="10" fill="#000"/>
<rect x="924" y="378" width="1" height="76" fill="#000"/>
<rect x="922" y="390" width="5" height="31" fill="#000"/>
<rect x="932" y="420" width="1" height="42" fill="#000"/>
<rect x="930" y="420" width="5" height="26" fill="#000"/>
<rect x="940" y="433" width="1" height="14" fill="#000"/>
<rect x="938" y="444" width="5" height="2" fill="#000"/>
<rect x="948" y="420" width="1" height="35" fill="#000"/>
<rect x="946" y="442" width="5" height="4" fill="#000"/>
<rect x="947" y="443" width="3" height="2" fill="#fff"/>
<rect x="956" y="440" width="1" height="56" fill="#000"/>
<rect x="954" y="443" width="5" height="40" fill="#000"/>
<rect x="964" y="435" width="1" height="85" fill="#000"/>
<rect x="962" y="482" width="5" height="18" fill="#000"/>
<rect x="972" y="497" width="1" height="64" fill="#000"/>
<rect x="970" y="499" width="5" height="13" fill="#000"/>
<rect x="980" y="490" width="1" height="23" fill="#000"/>
<rect x="978" y="491" width="5" height="21" fill="#000"/>
<rect x="979" y="492" width="3" height="19" fill="#fff"/>
<rect x="988" y="486" width="1" height="18" fill="#000"/>
<rect x="986" y="486" width="5" height="6" fill="#000"/>
<rect x="987" y="487" width="3" height="4" fill="#fff"/>
<rect x="996" y="477" width="1" height="43" fill="#000"/>
<rect x="994" y="486" width="5" height="20" fill="#000"/>
<rect x="1004" y="503" width="1" height="35" fill="#000"/>
<rect x="1002" y="505" width="5" height="13" fill="#000"/>
<rect x="1012" y="481" width="1" height="52" fill="#000"/>
<rect x="1010" y="502" width="5" height="16" fill="#000"/>
<rect x="1011" y="503" width="3" height="14" fill="#fff"/>
<rect x="1020" y="414" width="1" height="91" fill="#000"/>
<rect x="1018" y="415" width="5" height="88" fill="#000"/>
<rect x="1019" y="416" width="3" height="86" fill="#fff"/>
<rect x="1028" y="380" width="1" height="48" fill="#000"/>
<rect x="1026" y="385" width="5" height="31" fill="#000"/>
<rect x="1027" y="386" width="3" height="29" fill="#fff"/>
<rect x="1036" y="384" width="1" height="24" fill="#000"/>
<rect x="1034" y="386" width="5" height="9" fill="#000"/>
<rect x="1044" y="391" width="1" height="29" fill="#000"/>
<rect x="1042" y="394" width="5" height="4" fill="#000"/>
<rect x="1052" y="339" width="1" height="59" fill="#000"/>
<rect x="1050" y="359" width="5" height="39" fill="#000"/>
<rect x="1051" y="360" width="3" height="37" fill="#fff"/>
<rect x="1060" y="320" width="1" height="71" fill="#000"/>
<rect x="1058" y="321" width="5" height="39" fill="#000"/>
<rect x="1059" y="322" width="3" height="37" fill="#fff"/>
<rect x="1068" y="304" width="1" height="53" fill="#000"/>
<rect x="1066" y="320" width="5" height="33" fill="#000"/>
<rect x="1076" y="313" width="1" height="48" fill="#000"/>
<rect x="1074" y="328" width="5" height="25" fill="#000"/>
<rect x="1075" y="329" width="3" height="23" fill="#fff"/>
<rect x="1084" y="317" width="1" height="20" fill="#000"/>
<rect x="1082" y="321" width="5" height="8" fill="#000"/>
<rect x="1083" y="322" width="3" height="6" fill="#fff"/>
<rect x="1092" y="312" width="1" height="30" fill="#000"/>
<rect x="1090" y="321" width="5" height="15" fill="#000"/>
<rect x="1100" y="329" width="1" height="41" fill="#000"/>
<rect x="1098" y="335" width="5" height="22" fill="#000"/>
<rect x="1108" y="354" width="1" height="31" fill="#000"/>
<rect x="1106" y="356" width="5" height="10" fill="#000"/>
<rect x="1116" y="321" width="1" height="46" fill="#000"/>
<rect x="1114" y="349" width="5" height="18" fill="#000"/>
<rect x="1115" y="350" width="3" height="16" fill="#fff"/>
<rect x="1124" y="332" width="1" height="19" fill="#000"/>
<rect x="1122" y="344" width="5" height="6" fill="#000"/>
<rect x="1123" y="345" width="3" height="4" fill="#fff"/>
<rect x="1132" y="335" width="1" height="7" fill="#000"/>
<rect x="1130" y="337" width="5" height="4" fill="#000"/>
<rect x="1140" y="338" width="1" height="22" fill="#000"/>
<rect x="1138" y="339" width="5" height="12" fill="#000"/>
<rect x="1148" y="321" width="1" height="44" fill="#000"/>
<rect x="1146" y="339" width="5" height="12" fill="#000"/>
<rect x="1147" y="340" width="3" height="10" fill="#fff"/>
<rect x="1156" y="290" width="1" height="69" fill="#000"/>
<rect x="1154" y="295" width="5" height="45" fill="#000"/>
<rect x="1155" y="296" width="3" height="43" fill="#fff"/>
<rect x="1164" y="249" width="1" height="72" fill="#000"/>
<rect x="1162" y="254" width="5" height="42" fill="#000"/>
<rect x="1163" y="255" width="3" height="40" fill="#fff"/>
<rect x="1172" y="249" width="1" height="27" fill="#000"/>
<rect x="1170" y="254" width="5" height="8" fill="#000"/>
<rect x="1180" y="254" width="1" height="17" fill="#000"/>
<rect x="1178" y="257" width="5" height="6" fill="#000"/>
<rect x="1179" y="258" width="3" height="4" fill="#fff"/>
<rect x="1188" y="251" width="1" height="16" fill="#000"/>
<rect x="1186" y="255" width="5" height="3" fill="#000"/>
<rect x="1187" y="256" width="3" height="1" fill="#fff"/>
<rect x="1196" y="254" width="1" height="62" fill="#000"/>
<rect x="1194" y="255" width="5" height="42" fill="#000"/>
<rect x="1204" y="285" width="1" height="44" fill="#000"/>
<rect x="1202" y="287" width="5" height="10" fill="#000"/>
<rect x="1203" y="288" width="3" height="8" fill="#fff"/>
<rect x="1212" y="178" width="1" height="110" fill="#000"/>
<rect x="1210" y="189" width="5" height="99" fill="#000"/>
<rect x="1211" y="190" width="3" height="97" fill="#fff"/>
<rect x="1220" y="176" width="1" height="23" fill="#000"/>
<rect x="1218" y="187" width="5" height="3" fill="#000"/>
<rect x="1219" y="188" width="3" height="1" fill="#fff"/>
<rect x="1228" y="181" width="1" height="18" fill="#000"/>
<rect x="1226" y="187" width="5" height="5" fill="#000"/>
<rect x="1236" y="181" width="1" height="21" fill="#000"/>
<rect x="1234" y="190" width="5" height="10" fill="#000"/>
<rect x="1244" y="175" width="1" height="38" fill="#000"/>
<rect x="1242" y="200" width="5" height="3" fill="#000"/>
<rect x="1252" y="175" width="1" height="41" fill="#000"/>
<rect x="1250" y="194" width="5" height="8" fill="#000"/>
<rect x="1251" y="195" width="3" height="6" fill="#fff"/>
<rect x="1260" y="185" width="1" height="50" fill="#000"/>
<rect x="1258" y="189" width="5" height="6" fill="#000"/>
<rect x="1259" y="190" width="3" height="4" fill="#fff"/>
<rect x="1268" y="156" width="1" height="81" fill="#000"/>
<rect x="1266" y="159" width="5" height="31" fill="#000"/>
<rect x="1267" y="160" width="3" height="29" fill="#fff"/>
<rect x="1276" y="156" width="1" height="19" fill="#000"/>
<rect x="1274" y="160" width="5" height="3" fill="#000"/>
<rect x="1284" y="134" width="1" height="38" fill="#000"/>
<rect x="1282" y="137" width="5" height="27" fill="#000"/>
<rect x="1283" y="138" width="3" height="25" fill="#fff"/>
<rect x="1292" y="109" width="1" height="31" fill="#000"/>
<rect x="1290" y="124" width="5" height="14" fill="#000"/>
<rect x="1291" y="125" width="3" height="12" fill="#fff"/>
<rect x="1300" y="86" width="1" height="42" fill="#000"/>
<rect x="1298" y="94" width="5" height="30" fill="#000"/>
<rect x="1299" y="95" width="3" height="28" fill="#fff"/>
<rect x="1308" y="70" width="1" height="39" fill="#000"/>
<rect x="1306" y="91" width="5" height="4" fill="#000"/>
<rect x="1307" y="92" width="3" height="2" fill="#fff"/>
<rect x="1316" y="85" width="1" height="16" fill="#000"/>
<rect x="1314" y="91" width="5" height="2" fill="#000"/>
<rect x="1324" y="84" width="1" height="24" fill="#000"/>
<rect x="1322" y="93" width="5" height="1" fill="#000"/>
<rect x="1332" y="93" width="1" height="28" fill="#000"/>
<rect x="1330" y="94" width="5" height="26" fill="#000"/>
<rect x="1340" y="87" width="1" height="42" fill="#000"/>
<rect x="1338" y="91" width="5" height="28" fill="#000"/>
<rect x="1339" y="92" width="3" height="26" fill="#fff"/>
<rect x="1348" y="70" width="1" height="36" fill="#000"/>
<rect x="1346" y="91" width="5" height="12" fill="#000"/>
<rect x="1356" y="88" width="1" height="94" fill="#000"/>
<rect x="1354" y="102" width="5" height="53" fill="#000"/>
<rect x="1364" y="153" width="1" height="31" fill="#000"/>
<rect x="1362" y="154" width="5" height="26" fill="#000"/>
<rect x="1372" y="170" width="1" height="8" fill="#000"/>
<rect x="1370" y="170" width="5" height="5" fill="#000"/>
<rect x="1380" y="170" width="1" height="16" fill="#000"/>
<rect x="1378" y="171" width="5" height="4" fill="#000"/>
<rect x="1379" y="172" width="3" height="2" fill="#fff"/>
<rect x="1388" y="134" width="1" height="38" fill="#000"/>
<rect x="1386" y="148" width="5" height="24" fill="#000"/>
<rect x="1387" y="149" width="3" height="22" fill="#fff"/>
<rect x="1396" y="130" width="1" height="48" fill="#000"/>
<rect x="1394" y="149" width="5" height="22" fill="#000"/>
<rect x="1404" y="148" width="1" height="41" fill="#000"/>
<rect x="1402" y="170" width="5" height="19" fill="#000"/>
<rect x="1412" y="172" width="1" height="27" fill="#000"/>
<rect x="1410" y="180" width="5" height="8" fill="#000"/>
<rect x="1411" y="181" width="3" height="6" fill="#fff"/>
<rect x="1420" y="177" width="1" height="22" fill="#000"/>
<rect x="1418" y="179" width="5" height="2" fill="#000"/>
<rect x="1428" y="170" width="1" height="16" fill="#000"/>
<rect x="1426" y="177" width="5" height="4" fill="#000"/>
<rect x="1427" y="178" width="3" height="2" fill="#fff"/>
<rect x="1436" y="148" width="1" height="36" fill="#000"/>
<rect x="1434" y="153" width="5" height="26" fill="#000"/>
<rect x="1435" y="154" width="3" height="24" fill="#fff"/>
<rect x="1444" y="123" width="1" height="39" fill="#000"/>
<rect x="1442" y="130" width="5" height="24" fill="#000"/>
<rect x="1443" y="131" width="3" height="22" fill="#fff"/>
<rect x="1452" y="130" width="1" height="60" fill="#000"/>
<rect x="1450" y="131" width="5" height="33" fill="#000"/>
<rect x="1460" y="147" width="1" height="18" fill="#000"/>
<rect x="1458" y="147" width="5" height="17" fill="#000"/>
<rect x="1459" y="148" width="3" height="15" fill="#fff"/>
<rect x="1468" y="147" width="1" height="7" fill="#000"/>
<rect x="1466" y="147" width="5" height="7" fill="#000"/>
<rect x="1339" y="165" width="185" height="5" fill="#00ff00"/>
</g>
<polygon points="1465,22 1477,22 1471,28" fill="#c0c0c0"/>
<g clip-path="url(#cm)">
<line x1="1208.0" y1="303.5" x2="1336.4" y2="93.2" stroke="#ff0000" stroke-width="3.2"/>
<polygon points="1338.0,90.6 1336.7,101.5 1328.9,96.7" fill="#ff0000"/>
<line x1="1338.0" y1="90.6" x2="1402.3" y2="198.4" stroke="#ff0000" stroke-width="3.2"/>
<polygon points="1403.8,201.0 1394.7,194.8 1402.6,190.1" fill="#ff0000"/>
<line x1="1403.8" y1="201.0" x2="1453.5" y2="112.6" stroke="#ff0000" stroke-width="3.2"/>
<polygon points="1455.0,110.0 1454.1,121.0 1446.1,116.5" fill="#ff0000"/>
<line x1="1455.7" y1="110.0" x2="1455.2" y2="180.0" stroke="#ff0000" stroke-width="3.2"/>
<polygon points="1455.2,183.0 1450.7,173.0 1459.9,173.0" fill="#ff0000"/>
<line x1="1455.0" y1="182.0" x2="1474.4" y2="152.0" stroke="#ff0000" stroke-width="3.4"/>
<polygon points="1476.0,149.5 1474.8,160.6 1466.4,155.2" fill="#ff0000"/>
</g>
<rect x="1565.5" y="163.5" width="89" height="24" fill="none" stroke="#303030" shape-rendering="crispEdges"/>
<text x="1567" y="182.3" font-family='"Noto Serif CJK SC", "Noto Sans CJK SC", serif' font-weight="300" font-size="20.5" fill="#00ff00" textLength="84.5" lengthAdjust="spacingAndGlyphs">多空转折</text>
<rect x="1618.5" y="161.5" width="2" height="2" fill="#fff" stroke="#00ff00" stroke-width="1" shape-rendering="crispEdges"/>
<g shape-rendering="crispEdges">
<rect x="0" y="21" width="1655" height="1" fill="#000"/>
<rect x="1654" y="21" width="1" height="902" fill="#000"/>
<rect x="0" y="574" width="1654" height="1" fill="#000"/>
<rect x="0" y="576" width="1654" height="1" fill="#000"/>
<rect x="0" y="746" width="1654" height="1" fill="#000"/>
<rect x="0" y="748" width="1654" height="1" fill="#000"/>
<rect x="0" y="922" width="1655" height="1" fill="#000"/>
<rect x="1700" y="19" width="1" height="920" fill="#e3e3e3"/>
</g>
<g shape-rendering="crispEdges">
<rect x="1655" y="43" width="2" height="1" fill="#000"/>
<rect x="1655" y="76" width="2" height="1" fill="#000"/>
<rect x="1655" y="109" width="2" height="1" fill="#000"/>
<rect x="1655" y="142" width="2" height="1" fill="#000"/>
<rect x="1655" y="175" width="2" height="1" fill="#000"/>
<rect x="1655" y="208" width="2" height="1" fill="#000"/>
<rect x="1655" y="241" width="2" height="1" fill="#000"/>
<rect x="1655" y="274" width="2" height="1" fill="#000"/>
<rect x="1655" y="307" width="2" height="1" fill="#000"/>
<rect x="1655" y="340" width="2" height="1" fill="#000"/>
<rect x="1655" y="373" width="2" height="1" fill="#000"/>
<rect x="1655" y="406" width="2" height="1" fill="#000"/>
<rect x="1655" y="439" width="2" height="1" fill="#000"/>
<rect x="1655" y="472" width="2" height="1" fill="#000"/>
<rect x="1655" y="505" width="2" height="1" fill="#000"/>
<rect x="1655" y="538" width="2" height="1" fill="#000"/>
<rect x="1655" y="571" width="2" height="1" fill="#000"/>
</g>
<text x="1660.3" y="46.8" font-family='"Liberation Sans", sans-serif' font-size="9.9" fill="#000" text-anchor="start" textLength="33.3" lengthAdjust="spacingAndGlyphs" text-rendering="geometricPrecision">1.40045</text>
<text x="1660.3" y="79.8" font-family='"Liberation Sans", sans-serif' font-size="9.9" fill="#000" text-anchor="start" textLength="33.3" lengthAdjust="spacingAndGlyphs" text-rendering="geometricPrecision">1.39770</text>
<text x="1660.3" y="112.8" font-family='"Liberation Sans", sans-serif' font-size="9.9" fill="#000" text-anchor="start" textLength="33.3" lengthAdjust="spacingAndGlyphs" text-rendering="geometricPrecision">1.39495</text>
<text x="1660.3" y="145.8" font-family='"Liberation Sans", sans-serif' font-size="9.9" fill="#000" text-anchor="start" textLength="33.3" lengthAdjust="spacingAndGlyphs" text-rendering="geometricPrecision">1.39215</text>
<text x="1660.3" y="178.8" font-family='"Liberation Sans", sans-serif' font-size="9.9" fill="#000" text-anchor="start" textLength="33.3" lengthAdjust="spacingAndGlyphs" text-rendering="geometricPrecision">1.38940</text>
<text x="1660.3" y="211.8" font-family='"Liberation Sans", sans-serif' font-size="9.9" fill="#000" text-anchor="start" textLength="33.3" lengthAdjust="spacingAndGlyphs" text-rendering="geometricPrecision">1.38665</text>
<text x="1660.3" y="244.8" font-family='"Liberation Sans", sans-serif' font-size="9.9" fill="#000" text-anchor="start" textLength="33.3" lengthAdjust="spacingAndGlyphs" text-rendering="geometricPrecision">1.38385</text>
<text x="1660.3" y="277.8" font-family='"Liberation Sans", sans-serif' font-size="9.9" fill="#000" text-anchor="start" textLength="32.6" lengthAdjust="spacingAndGlyphs" text-rendering="geometricPrecision">1.38110</text>
<text x="1660.3" y="310.8" font-family='"Liberation Sans", sans-serif' font-size="9.9" fill="#000" text-anchor="start" textLength="33.3" lengthAdjust="spacingAndGlyphs" text-rendering="geometricPrecision">1.37835</text>
<text x="1660.3" y="343.8" font-family='"Liberation Sans", sans-serif' font-size="9.9" fill="#000" text-anchor="start" textLength="33.3" lengthAdjust="spacingAndGlyphs" text-rendering="geometricPrecision">1.37555</text>
<text x="1660.3" y="376.8" font-family='"Liberation Sans", sans-serif' font-size="9.9" fill="#000" text-anchor="start" textLength="33.3" lengthAdjust="spacingAndGlyphs" text-rendering="geometricPrecision">1.37280</text>
<text x="1660.3" y="409.8" font-family='"Liberation Sans", sans-serif' font-size="9.9" fill="#000" text-anchor="start" textLength="33.3" lengthAdjust="spacingAndGlyphs" text-rendering="geometricPrecision">1.37005</text>
<text x="1660.3" y="442.8" font-family='"Liberation Sans", sans-serif' font-size="9.9" fill="#000" text-anchor="start" textLength="33.3" lengthAdjust="spacingAndGlyphs" text-rendering="geometricPrecision">1.36725</text>
<text x="1660.3" y="475.8" font-family='"Liberation Sans", sans-serif' font-size="9.9" fill="#000" text-anchor="start" textLength="33.3" lengthAdjust="spacingAndGlyphs" text-rendering="geometricPrecision">1.36450</text>
<text x="1660.3" y="508.8" font-family='"Liberation Sans", sans-serif' font-size="9.9" fill="#000" text-anchor="start" textLength="33.3" lengthAdjust="spacingAndGlyphs" text-rendering="geometricPrecision">1.36175</text>
<text x="1660.3" y="541.8" font-family='"Liberation Sans", sans-serif' font-size="9.9" fill="#000" text-anchor="start" textLength="33.3" lengthAdjust="spacingAndGlyphs" text-rendering="geometricPrecision">1.35895</text>
<text x="1660.3" y="574.8" font-family='"Liberation Sans", sans-serif' font-size="9.9" fill="#000" text-anchor="start" textLength="33.3" lengthAdjust="spacingAndGlyphs" text-rendering="geometricPrecision">1.35620</text>
<rect x="1656" y="111" width="41" height="11" fill="#ff4500" shape-rendering="crispEdges"/>
<text x="1660.3" y="119.8" font-family='"Liberation Sans", sans-serif' font-size="9.9" fill="#fff" text-anchor="start" textLength="33.3" lengthAdjust="spacingAndGlyphs" text-rendering="geometricPrecision">1.39425</text>
<rect x="1649.5" y="115.5" width="4" height="4" fill="#fff" stroke="#ff4500" shape-rendering="crispEdges"/>
<rect x="1656" y="129" width="41" height="11" fill="#ff0000" shape-rendering="crispEdges"/>
<text x="1660.3" y="137.8" font-family='"Liberation Sans", sans-serif' font-size="9.9" fill="#fff" text-anchor="start" textLength="33.3" lengthAdjust="spacingAndGlyphs" text-rendering="geometricPrecision">1.39274</text>
<rect x="1649.5" y="133.5" width="4" height="4" fill="#fff" stroke="#ff0000" shape-rendering="crispEdges"/>
<rect x="1656" y="151" width="41" height="10" fill="#000000" shape-rendering="crispEdges"/>
<text x="1660.3" y="158.8" font-family='"Liberation Sans", sans-serif' font-size="9.9" fill="#fff" text-anchor="start" textLength="33.3" lengthAdjust="spacingAndGlyphs" text-rendering="geometricPrecision">1.39097</text>
<rect x="1656" y="161" width="41" height="11" fill="#32cd32" shape-rendering="crispEdges"/>
<text x="1660.3" y="169.8" font-family='"Liberation Sans", sans-serif' font-size="9.9" fill="#fff" text-anchor="start" textLength="33.3" lengthAdjust="spacingAndGlyphs" text-rendering="geometricPrecision">1.39006</text>
<rect x="1656" y="177" width="41" height="11" fill="#0000ff" shape-rendering="crispEdges"/>
<text x="1660.3" y="185.8" font-family='"Liberation Sans", sans-serif' font-size="9.9" fill="#fff" text-anchor="start" textLength="33.3" lengthAdjust="spacingAndGlyphs" text-rendering="geometricPrecision">1.38872</text>
<rect x="1649.5" y="181.5" width="4" height="4" fill="#fff" stroke="#0000ff" shape-rendering="crispEdges"/>
<rect x="1656" y="192" width="41" height="11" fill="#0000ff" shape-rendering="crispEdges"/>
<text x="1660.3" y="200.8" font-family='"Liberation Sans", sans-serif' font-size="9.9" fill="#fff" text-anchor="start" textLength="33.3" lengthAdjust="spacingAndGlyphs" text-rendering="geometricPrecision">1.38747</text>
<rect x="1649.5" y="196.5" width="4" height="4" fill="#fff" stroke="#0000ff" shape-rendering="crispEdges"/>
<g clip-path="url(#cmacd)" shape-rendering="crispEdges">
<rect x="4" y="656" width="1" height="49" fill="#c0c0c0"/>
<rect x="12" y="656" width="1" height="42" fill="#c0c0c0"/>
<rect x="20" y="656" width="1" height="34" fill="#c0c0c0"/>
<rect x="28" y="656" width="1" height="27" fill="#c0c0c0"/>
<rect x="36" y="656" width="1" height="22" fill="#c0c0c0"/>
<rect x="44" y="656" width="1" height="14" fill="#c0c0c0"/>
<rect x="52" y="656" width="1" height="7" fill="#c0c0c0"/>
<rect x="60" y="656" width="1" height="1" fill="#c0c0c0"/>
<rect x="76" y="653" width="1" height="4" fill="#c0c0c0"/>
<rect x="84" y="653" width="1" height="4" fill="#c0c0c0"/>
<rect x="92" y="653" width="1" height="4" fill="#c0c0c0"/>
<rect x="108" y="656" width="1" height="4" fill="#c0c0c0"/>
<rect x="116" y="656" width="1" height="4" fill="#c0c0c0"/>
<rect x="124" y="656" width="1" height="6" fill="#c0c0c0"/>
<rect x="132" y="656" width="1" height="6" fill="#c0c0c0"/>
<rect x="140" y="656" width="1" height="9" fill="#c0c0c0"/>
<rect x="148" y="656" width="1" height="12" fill="#c0c0c0"/>
<rect x="156" y="656" width="1" height="14" fill="#c0c0c0"/>
<rect x="164" y="656" width="1" height="17" fill="#c0c0c0"/>
<rect x="172" y="656" width="1" height="18" fill="#c0c0c0"/>
<rect x="180" y="656" width="1" height="19" fill="#c0c0c0"/>
<rect x="188" y="656" width="1" height="16" fill="#c0c0c0"/>
<rect x="196" y="656" width="1" height="17" fill="#c0c0c0"/>
<rect x="204" y="656" width="1" height="17" fill="#c0c0c0"/>
<rect x="212" y="656" width="1" height="19" fill="#c0c0c0"/>
<rect x="220" y="656" width="1" height="20" fill="#c0c0c0"/>
<rect x="228" y="656" width="1" height="22" fill="#c0c0c0"/>
<rect x="236" y="656" width="1" height="24" fill="#c0c0c0"/>
<rect x="244" y="656" width="1" height="29" fill="#c0c0c0"/>
<rect x="252" y="656" width="1" height="31" fill="#c0c0c0"/>
<rect x="260" y="656" width="1" height="31" fill="#c0c0c0"/>
<rect x="268" y="656" width="1" height="32" fill="#c0c0c0"/>
<rect x="276" y="656" width="1" height="31" fill="#c0c0c0"/>
<rect x="284" y="656" width="1" height="32" fill="#c0c0c0"/>
<rect x="292" y="656" width="1" height="30" fill="#c0c0c0"/>
<rect x="300" y="656" width="1" height="33" fill="#c0c0c0"/>
<rect x="308" y="656" width="1" height="33" fill="#c0c0c0"/>
<rect x="316" y="656" width="1" height="32" fill="#c0c0c0"/>
<rect x="324" y="656" width="1" height="33" fill="#c0c0c0"/>
<rect x="332" y="656" width="1" height="34" fill="#c0c0c0"/>
<rect x="340" y="656" width="1" height="35" fill="#c0c0c0"/>
<rect x="348" y="656" width="1" height="37" fill="#c0c0c0"/>
<rect x="356" y="656" width="1" height="42" fill="#c0c0c0"/>
<rect x="364" y="656" width="1" height="45" fill="#c0c0c0"/>
<rect x="372" y="656" width="1" height="47" fill="#c0c0c0"/>
<rect x="380" y="656" width="1" height="47" fill="#c0c0c0"/>
<rect x="388" y="656" width="1" height="50" fill="#c0c0c0"/>
<rect x="396" y="656" width="1" height="45" fill="#c0c0c0"/>
<rect x="404" y="656" width="1" height="36" fill="#c0c0c0"/>
<rect x="412" y="656" width="1" height="29" fill="#c0c0c0"/>
<rect x="420" y="656" width="1" height="24" fill="#c0c0c0"/>
<rect x="428" y="656" width="1" height="17" fill="#c0c0c0"/>
<rect x="436" y="656" width="1" height="11" fill="#c0c0c0"/>
<rect x="444" y="656" width="1" height="6" fill="#c0c0c0"/>
<rect x="452" y="656" width="1" height="2" fill="#c0c0c0"/>
<rect x="468" y="651" width="1" height="6" fill="#c0c0c0"/>
<rect x="476" y="648" width="1" height="9" fill="#c0c0c0"/>
<rect x="484" y="647" width="1" height="10" fill="#c0c0c0"/>
<rect x="492" y="654" width="1" height="3" fill="#c0c0c0"/>
<rect x="500" y="656" width="1" height="1" fill="#c0c0c0"/>
<rect x="508" y="656" width="1" height="4" fill="#c0c0c0"/>
<rect x="516" y="656" width="1" height="6" fill="#c0c0c0"/>
<rect x="524" y="656" width="1" height="8" fill="#c0c0c0"/>
<rect x="532" y="656" width="1" height="6" fill="#c0c0c0"/>
<rect x="540" y="656" width="1" height="9" fill="#c0c0c0"/>
<rect x="548" y="656" width="1" height="10" fill="#c0c0c0"/>
<rect x="556" y="656" width="1" height="11" fill="#c0c0c0"/>
<rect x="564" y="656" width="1" height="15" fill="#c0c0c0"/>
<rect x="572" y="656" width="1" height="16" fill="#c0c0c0"/>
<rect x="580" y="656" width="1" height="20" fill="#c0c0c0"/>
<rect x="588" y="656" width="1" height="22" fill="#c0c0c0"/>
<rect x="596" y="656" width="1" height="22" fill="#c0c0c0"/>
<rect x="604" y="656" width="1" height="20" fill="#c0c0c0"/>
<rect x="612" y="656" width="1" height="19" fill="#c0c0c0"/>
<rect x="620" y="656" width="1" height="18" fill="#c0c0c0"/>
<rect x="628" y="656" width="1" height="14" fill="#c0c0c0"/>
<rect x="636" y="656" width="1" height="7" fill="#c0c0c0"/>
<rect x="644" y="654" width="1" height="3" fill="#c0c0c0"/>
<rect x="652" y="645" width="1" height="12" fill="#c0c0c0"/>
<rect x="660" y="639" width="1" height="18" fill="#c0c0c0"/>
<rect x="668" y="635" width="1" height="22" fill="#c0c0c0"/>
<rect x="676" y="637" width="1" height="20" fill="#c0c0c0"/>
<rect x="684" y="633" width="1" height="24" fill="#c0c0c0"/>
<rect x="692" y="631" width="1" height="26" fill="#c0c0c0"/>
<rect x="700" y="629" width="1" height="28" fill="#c0c0c0"/>
<rect x="708" y="626" width="1" height="31" fill="#c0c0c0"/>
<rect x="716" y="629" width="1" height="28" fill="#c0c0c0"/>
<rect x="724" y="632" width="1" height="25" fill="#c0c0c0"/>
<rect x="732" y="637" width="1" height="20" fill="#c0c0c0"/>
<rect x="740" y="644" width="1" height="13" fill="#c0c0c0"/>
<rect x="748" y="650" width="1" height="7" fill="#c0c0c0"/>
<rect x="756" y="654" width="1" height="3" fill="#c0c0c0"/>
<rect x="764" y="654" width="1" height="3" fill="#c0c0c0"/>
<rect x="772" y="652" width="1" height="5" fill="#c0c0c0"/>
<rect x="780" y="652" width="1" height="5" fill="#c0c0c0"/>
<rect x="788" y="651" width="1" height="6" fill="#c0c0c0"/>
<rect x="796" y="650" width="1" height="7" fill="#c0c0c0"/>
<rect x="804" y="651" width="1" height="6" fill="#c0c0c0"/>
<rect x="812" y="655" width="1" height="2" fill="#c0c0c0"/>
<rect x="820" y="651" width="1" height="6" fill="#c0c0c0"/>
<rect x="828" y="653" width="1" height="4" fill="#c0c0c0"/>
<rect x="836" y="655" width="1" height="2" fill="#c0c0c0"/>
<rect x="844" y="655" width="1" height="2" fill="#c0c0c0"/>
<rect x="852" y="656" width="1" height="1" fill="#c0c0c0"/>
<rect x="860" y="656" width="1" height="3" fill="#c0c0c0"/>
<rect x="868" y="656" width="1" height="5" fill="#c0c0c0"/>
<rect x="876" y="656" width="1" height="11" fill="#c0c0c0"/>
<rect x="884" y="656" width="1" height="16" fill="#c0c0c0"/>
<rect x="892" y="656" width="1" height="21" fill="#c0c0c0"/>
<rect x="900" y="656" width="1" height="25" fill="#c0c0c0"/>
<rect x="908" y="656" width="1" height="32" fill="#c0c0c0"/>
<rect x="916" y="656" width="1" height="38" fill="#c0c0c0"/>
<rect x="924" y="656" width="1" height="45" fill="#c0c0c0"/>
<rect x="932" y="656" width="1" height="52" fill="#c0c0c0"/>
<rect x="940" y="656" width="1" height="58" fill="#c0c0c0"/>
<rect x="948" y="656" width="1" height="61" fill="#c0c0c0"/>
<rect x="956" y="656" width="1" height="66" fill="#c0c0c0"/>
<rect x="964" y="656" width="1" height="72" fill="#c0c0c0"/>
<rect x="972" y="656" width="1" height="76" fill="#c0c0c0"/>
<rect x="980" y="656" width="1" height="77" fill="#c0c0c0"/>
<rect x="988" y="656" width="1" height="77" fill="#c0c0c0"/>
<rect x="996" y="656" width="1" height="76" fill="#c0c0c0"/>
<rect x="1004" y="656" width="1" height="77" fill="#c0c0c0"/>
<rect x="1012" y="656" width="1" height="74" fill="#c0c0c0"/>
<rect x="1020" y="656" width="1" height="64" fill="#c0c0c0"/>
<rect x="1028" y="656" width="1" height="52" fill="#c0c0c0"/>
<rect x="1036" y="656" width="1" height="43" fill="#c0c0c0"/>
<rect x="1044" y="656" width="1" height="35" fill="#c0c0c0"/>
<rect x="1052" y="656" width="1" height="25" fill="#c0c0c0"/>
<rect x="1060" y="656" width="1" height="15" fill="#c0c0c0"/>
<rect x="1068" y="656" width="1" height="8" fill="#c0c0c0"/>
<rect x="1084" y="652" width="1" height="5" fill="#c0c0c0"/>
<rect x="1092" y="648" width="1" height="9" fill="#c0c0c0"/>
<rect x="1100" y="647" width="1" height="10" fill="#c0c0c0"/>
<rect x="1108" y="648" width="1" height="9" fill="#c0c0c0"/>
<rect x="1116" y="647" width="1" height="10" fill="#c0c0c0"/>
<rect x="1124" y="645" width="1" height="12" fill="#c0c0c0"/>
<rect x="1132" y="644" width="1" height="13" fill="#c0c0c0"/>
<rect x="1140" y="644" width="1" height="13" fill="#c0c0c0"/>
<rect x="1148" y="644" width="1" height="13" fill="#c0c0c0"/>
<rect x="1156" y="639" width="1" height="18" fill="#c0c0c0"/>
<rect x="1164" y="631" width="1" height="26" fill="#c0c0c0"/>
<rect x="1172" y="627" width="1" height="30" fill="#c0c0c0"/>
<rect x="1180" y="623" width="1" height="34" fill="#c0c0c0"/>
<rect x="1188" y="620" width="1" height="37" fill="#c0c0c0"/>
<rect x="1196" y="622" width="1" height="35" fill="#c0c0c0"/>
<rect x="1204" y="623" width="1" height="34" fill="#c0c0c0"/>
<rect x="1212" y="615" width="1" height="42" fill="#c0c0c0"/>
<rect x="1220" y="609" width="1" height="48" fill="#c0c0c0"/>
<rect x="1228" y="605" width="1" height="52" fill="#c0c0c0"/>
<rect x="1236" y="604" width="1" height="53" fill="#c0c0c0"/>
<rect x="1244" y="603" width="1" height="54" fill="#c0c0c0"/>
<rect x="1252" y="603" width="1" height="54" fill="#c0c0c0"/>
<rect x="1260" y="603" width="1" height="54" fill="#c0c0c0"/>
<rect x="1268" y="600" width="1" height="57" fill="#c0c0c0"/>
<rect x="1276" y="599" width="1" height="58" fill="#c0c0c0"/>
<rect x="1284" y="597" width="1" height="60" fill="#c0c0c0"/>
<rect x="1292" y="594" width="1" height="63" fill="#c0c0c0"/>
<rect x="1300" y="590" width="1" height="67" fill="#c0c0c0"/>
<rect x="1308" y="587" width="1" height="70" fill="#c0c0c0"/>
<rect x="1316" y="586" width="1" height="71" fill="#c0c0c0"/>
<rect x="1324" y="586" width="1" height="71" fill="#c0c0c0"/>
<rect x="1332" y="589" width="1" height="68" fill="#c0c0c0"/>
<rect x="1340" y="590" width="1" height="67" fill="#c0c0c0"/>
<rect x="1348" y="592" width="1" height="65" fill="#c0c0c0"/>
<rect x="1356" y="600" width="1" height="57" fill="#c0c0c0"/>
<rect x="1364" y="609" width="1" height="48" fill="#c0c0c0"/>
<rect x="1372" y="616" width="1" height="41" fill="#c0c0c0"/>
<rect x="1380" y="621" width="1" height="36" fill="#c0c0c0"/>
<rect x="1388" y="624" width="1" height="33" fill="#c0c0c0"/>
<rect x="1396" y="629" width="1" height="28" fill="#c0c0c0"/>
<rect x="1404" y="634" width="1" height="23" fill="#c0c0c0"/>
<rect x="1412" y="638" width="1" height="19" fill="#c0c0c0"/>
<rect x="1420" y="642" width="1" height="15" fill="#c0c0c0"/>
<rect x="1428" y="644" width="1" height="13" fill="#c0c0c0"/>
<rect x="1436" y="644" width="1" height="13" fill="#c0c0c0"/>
<rect x="1444" y="641" width="1" height="16" fill="#c0c0c0"/>
<rect x="1452" y="643" width="1" height="14" fill="#c0c0c0"/>
<rect x="1460" y="643" width="1" height="14" fill="#c0c0c0"/>
<rect x="1468" y="644" width="1" height="13" fill="#c0c0c0"/>
<path d="M2.5 733v1M3.5 732v1M4.5 731v1M8.5 727v1M9.5 727v1M10.5 726v1M14.5 722v1M15.5 721v1M16.5 720v1M20.5 717v1M21.5 716v1M22.5 715v1M26.5 711v1M27.5 711v1M28.5 710v1M32.5 706v1M33.5 705v1M34.5 704v1M38.5 701v1M39.5 700v1M40.5 699v1M44.5 696v1M45.5 695v1M46.5 694v1M50.5 691v1M51.5 690v1M52.5 689v1M56.5 686v1M57.5 686v1M58.5 685v1M62.5 682v1M63.5 682v1M64.5 681v1M68.5 677v1M69.5 676v1M70.5 676v1M74.5 672v1M75.5 671v1M76.5 671v1M80.5 669v1M81.5 668v1M82.5 668v1M86.5 666v1M87.5 665v1M88.5 665v1M92.5 663v1M93.5 663v1M94.5 662v1M98.5 661v1M99.5 660v1M100.5 660v1M104.5 659v1M105.5 659v1M106.5 659v1M110.5 658v1M111.5 657v1M112.5 657v1M116.5 657v1M117.5 657v1M118.5 657v1M122.5 657v1M123.5 657v1M124.5 657v1M128.5 657v1M129.5 657v1M130.5 657v1M134.5 657v1M135.5 657v1M136.5 657v1M140.5 657v1M141.5 657v1M142.5 658v1M146.5 659v1M147.5 659v1M148.5 659v1M152.5 660v1M153.5 661v1M154.5 661v1M158.5 662v1M159.5 662v1M160.5 662v1M164.5 663v1M165.5 664v1M166.5 664v1M170.5 665v1M171.5 666v1M172.5 666v1M176.5 667v1M177.5 667v1M178.5 667v1M182.5 668v1M183.5 668v1M184.5 668v1M188.5 668v1M189.5 668v1M190.5 669v1M194.5 669v1M195.5 670v1M196.5 670v1M200.5 671v1M201.5 671v1M202.5 671v1M206.5 672v1M207.5 672v1M208.5 672v1M212.5 673v1M213.5 673v1M214.5 673v1M218.5 673v1M219.5 673v1M220.5 674v1M224.5 674v1M225.5 674v1M226.5 674v1M230.5 675v1M231.5 675v1M232.5 675v1M236.5 676v1M237.5 676v1M238.5 676v1M242.5 676v1M243.5 676v1M244.5 676v1M248.5 677v1M249.5 677v1M250.5 677v1M254.5 678v1M255.5 678v1M256.5 678v1M260.5 679v1M261.5 680v1M262.5 680v1M266.5 681v1M267.5 681v1M268.5 681v1M272.5 682v1M273.5 683v1M274.5 683v1M278.5 684v1M279.5 684v1M280.5 684v1M284.5 685v1M285.5 685v1M286.5 685v1M290.5 686v1M291.5 686v1M292.5 686v1M296.5 686v1M297.5 686v1M298.5 687v1M302.5 687v1M303.5 687v1M304.5 687v1M308.5 687v1M309.5 687v1M310.5 688v1M314.5 688v1M315.5 688v1M316.5 688v1M320.5 688v1M321.5 688v1M322.5 688v1M326.5 688v1M327.5 688v1M328.5 688v1M332.5 689v1M333.5 689v1M334.5 689v1M338.5 689v1M339.5 689v1M340.5 689v1M344.5 689v1M345.5 689v1M346.5 689v1M350.5 690v1M351.5 690v1M352.5 690v1M356.5 691v1M357.5 691v1M358.5 691v1M362.5 691v1M363.5 692v1M364.5 692v1M368.5 692v1M369.5 692v1M370.5 692v1M374.5 694v1M375.5 694v1M376.5 694v1M380.5 696v1M381.5 696v1M382.5 696v1M386.5 697v1M387.5 697v1M388.5 698v1M392.5 698v1M393.5 698v1M394.5 698v1M398.5 699v1M399.5 699v1M400.5 699v1M404.5 699v1M405.5 699v1M406.5 699v1M410.5 699v1M411.5 699v1M412.5 698v1M416.5 698v1M417.5 697v1M418.5 697v1M422.5 696v1M423.5 696v1M424.5 696v1M428.5 694v1M429.5 694v1M430.5 694v1M434.5 692v1M435.5 691v1M436.5 691v1M440.5 689v1M441.5 688v1M442.5 688v1M446.5 686v1M447.5 685v1M448.5 684v1M452.5 681v1M453.5 680v1M454.5 680v1M458.5 677v1M459.5 676v1M460.5 675v1M464.5 672v1M465.5 672v1M466.5 671v1M470.5 668v1M471.5 668v1M472.5 667v1M476.5 665v1M477.5 664v1M478.5 663v1M482.5 661v1M483.5 661v1M484.5 660v1M488.5 659v1M489.5 658v1M490.5 658v1M494.5 656v1M495.5 656v1M496.5 656v1M500.5 656v1M501.5 656v1M502.5 656v1M506.5 655v1M507.5 655v1M508.5 655v1M512.5 655v1M513.5 655v1M514.5 655v1M518.5 655v1M519.5 655v1M520.5 655v1M524.5 655v1M525.5 655v1M526.5 655v1M530.5 656v1M531.5 656v1M532.5 656v1M536.5 656v1M537.5 656v1M538.5 657v1M542.5 658v1M543.5 658v1M544.5 658v1M548.5 660v1M549.5 660v1M550.5 661v1M554.5 662v1M555.5 662v1M556.5 662v1M560.5 664v1M561.5 664v1M562.5 664v1M566.5 664v1M567.5 665v1M568.5 665v1M572.5 665v1M573.5 665v1M574.5 665v1M578.5 667v1M579.5 667v1M580.5 667v1M584.5 669v1M585.5 669v1M586.5 669v1M590.5 669v1M591.5 669v1M592.5 670v1M596.5 670v1M597.5 670v1M598.5 670v1M602.5 671v1M603.5 672v1M604.5 672v1M608.5 673v1M609.5 674v1M610.5 674v1M614.5 674v1M615.5 674v1M616.5 674v1M620.5 674v1M621.5 674v1M622.5 675v1M626.5 675v1M627.5 674v1M628.5 674v1M632.5 674v1M633.5 674v1M634.5 674v1M638.5 673v1M639.5 673v1M640.5 673v1M644.5 671v1M645.5 671v1M646.5 671v1M650.5 669v1M651.5 668v1M652.5 668v1M656.5 666v1M657.5 665v1M658.5 665v1M662.5 663v1M663.5 662v1M664.5 661v1M668.5 659v1M669.5 658v1M670.5 658v1M674.5 656v1M675.5 655v1M676.5 655v1M680.5 653v1M681.5 652v1M682.5 652v1M686.5 649v1M687.5 648v1M688.5 648v1M692.5 645v1M693.5 644v1M694.5 644v1M698.5 641v1M699.5 641v1M700.5 640v1M704.5 638v1M705.5 638v1M706.5 637v1M710.5 635v1M711.5 635v1M712.5 634v1M716.5 633v1M717.5 633v1M718.5 633v1M722.5 632v1M723.5 632v1M724.5 632v1M728.5 632v1M729.5 632v1M730.5 631v1M734.5 631v1M735.5 631v1M736.5 631v1M740.5 632v1M741.5 632v1M742.5 632v1M746.5 633v1M747.5 633v1M748.5 633v1M752.5 635v1M753.5 635v1M754.5 635v1M758.5 636v1M759.5 637v1M760.5 637v1M764.5 638v1M765.5 638v1M766.5 638v1M770.5 639v1M771.5 640v1M772.5 640v1M776.5 642v1M777.5 642v1M778.5 642v1M782.5 644v1M783.5 644v1M784.5 645v1M788.5 646v1M789.5 646v1M790.5 646v1M794.5 647v1M795.5 648v1M796.5 648v1M800.5 649v1M801.5 649v1M802.5 649v1M806.5 649v1M807.5 650v1M808.5 650v1M812.5 650v1M813.5 650v1M814.5 650v1M818.5 651v1M819.5 651v1M820.5 651v1M824.5 651v1M825.5 651v1M826.5 651v1M830.5 651v1M831.5 651v1M832.5 652v1M836.5 652v1M837.5 652v1M838.5 652v1M842.5 653v1M843.5 653v1M844.5 653v1M848.5 653v1M849.5 653v1M850.5 654v1M854.5 654v1M855.5 654v1M856.5 654v1M860.5 654v1M861.5 654v1M862.5 654v1M866.5 655v1M867.5 655v1M868.5 655v1M872.5 656v1M873.5 656v1M874.5 656v1M878.5 657v1M879.5 657v1M880.5 658v1M884.5 659v1M885.5 659v1M886.5 660v1M890.5 662v1M891.5 662v1M892.5 662v1M896.5 664v1M897.5 665v1M898.5 665v1M902.5 667v1M903.5 667v1M904.5 667v1M908.5 669v1M909.5 670v1M910.5 670v1M914.5 672v1M915.5 673v1M916.5 674v1M920.5 676v1M921.5 677v1M922.5 678v1M926.5 680v1M927.5 681v1M928.5 681v1M932.5 684v1M933.5 685v1M934.5 685v1M938.5 688v1M939.5 689v1M940.5 689v1M944.5 692v1M945.5 693v1M946.5 694v1M950.5 696v1M951.5 697v1M952.5 698v1M956.5 700v1M957.5 701v1M958.5 702v1M962.5 705v1M963.5 706v1M964.5 706v1M968.5 709v1M969.5 710v1M970.5 711v1M974.5 713v1M975.5 714v1M976.5 714v1M980.5 717v1M981.5 717v1M982.5 718v1M986.5 720v1M987.5 721v1M988.5 721v1M992.5 723v1M993.5 724v1M994.5 724v1M998.5 726v1M999.5 726v1M1000.5 726v1M1004.5 727v1M1005.5 728v1M1006.5 728v1M1010.5 729v1M1011.5 729v1M1012.5 729v1M1016.5 730v1M1017.5 730v1M1018.5 729v1M1022.5 729v1M1023.5 729v1M1024.5 729v1M1028.5 727v1M1029.5 727v1M1030.5 727v1M1034.5 726v1M1035.5 725v1M1036.5 725v1M1040.5 722v1M1041.5 722v1M1042.5 721v1M1046.5 719v1M1047.5 718v1M1048.5 718v1M1052.5 714v1M1053.5 714v1M1054.5 713v1M1058.5 710v1M1059.5 709v1M1060.5 708v1M1064.5 705v1M1065.5 704v1M1066.5 703v1M1070.5 699v1M1071.5 698v1M1072.5 696v2M1076.5 692v1M1077.5 691v1M1078.5 690v1M1082.5 685v1M1083.5 684v1M1084.5 683v1M1088.5 679v1M1089.5 678v1M1090.5 677v1M1094.5 673v1M1095.5 672v1M1096.5 671v1M1100.5 668v1M1101.5 667v1M1102.5 666v1M1106.5 662v1M1107.5 662v1M1108.5 661v1M1112.5 659v1M1113.5 658v1M1114.5 657v1M1118.5 655v1M1119.5 654v1M1120.5 654v1M1124.5 652v1M1125.5 651v1M1126.5 651v1M1130.5 649v1M1131.5 649v1M1132.5 649v1M1136.5 648v1M1137.5 648v1M1138.5 648v1M1142.5 647v1M1143.5 647v1M1144.5 647v1M1148.5 646v1M1149.5 646v1M1150.5 646v1M1154.5 645v1M1155.5 645v1M1156.5 644v1M1160.5 643v1M1161.5 643v1M1162.5 642v1M1166.5 641v1M1167.5 641v1M1168.5 641v1M1172.5 640v1M1173.5 640v1M1174.5 639v1M1178.5 638v1M1179.5 638v1M1180.5 637v1M1184.5 636v1M1185.5 635v1M1186.5 635v1M1190.5 633v1M1191.5 633v1M1192.5 633v1M1196.5 632v1M1197.5 631v1M1198.5 631v1M1202.5 630v1M1203.5 630v1M1204.5 629v1M1208.5 627v1M1209.5 627v1M1210.5 626v1M1214.5 625v1M1215.5 624v1M1216.5 624v1M1220.5 622v1M1221.5 622v1M1222.5 621v1M1226.5 619v1M1227.5 619v1M1228.5 618v1M1232.5 616v1M1233.5 616v1M1234.5 615v1M1238.5 614v1M1239.5 614v1M1240.5 613v1M1244.5 612v1M1245.5 612v1M1246.5 612v1M1250.5 611v1M1251.5 611v1M1252.5 610v1M1256.5 610v1M1257.5 609v1M1258.5 609v1M1262.5 608v1M1263.5 607v1M1264.5 607v1M1268.5 606v1M1269.5 605v1M1270.5 605v1M1274.5 604v1M1275.5 604v1M1276.5 603v1M1280.5 602v1M1281.5 602v1M1282.5 602v1M1286.5 601v1M1287.5 600v1M1288.5 600v1M1292.5 599v1M1293.5 599v1M1294.5 599v1M1298.5 598v1M1299.5 598v1M1300.5 597v1M1304.5 596v1M1305.5 596v1M1306.5 596v1M1310.5 595v1M1311.5 595v1M1312.5 595v1M1316.5 594v1M1317.5 594v1M1318.5 594v1M1322.5 593v1M1323.5 592v1M1324.5 592v1M1328.5 591v1M1329.5 591v1M1330.5 591v1M1334.5 590v1M1335.5 590v1M1336.5 590v1M1340.5 590v1M1341.5 590v1M1342.5 589v1M1346.5 589v1M1347.5 589v1M1348.5 589v1M1352.5 589v1M1353.5 589v1M1354.5 589v1M1358.5 590v1M1359.5 590v1M1360.5 590v1M1364.5 591v1M1365.5 591v1M1366.5 592v1M1370.5 594v1M1371.5 594v1M1372.5 594v1M1376.5 596v1M1377.5 597v1M1378.5 597v1M1382.5 599v1M1383.5 600v1M1384.5 600v1M1388.5 602v1M1389.5 602v1M1390.5 603v1M1394.5 605v1M1395.5 606v1M1396.5 606v1M1400.5 609v1M1401.5 609v1M1402.5 610v1M1406.5 612v1M1407.5 613v1M1408.5 613v1M1412.5 616v1M1413.5 617v1M1414.5 618v1M1418.5 621v1M1419.5 621v1M1420.5 622v1M1424.5 624v1M1425.5 625v1M1426.5 625v1M1430.5 628v1M1431.5 628v1M1432.5 629v1M1436.5 631v1M1437.5 631v1M1438.5 632v1M1442.5 633v1M1443.5 634v1M1444.5 634v1M1448.5 635v1M1449.5 635v1M1450.5 636v1M1454.5 637v1M1455.5 637v1M1456.5 637v1M1460.5 638v1M1461.5 639v1M1462.5 639v1M1466.5 640v1M1467.5 640v1M1468.5 641v1" stroke="#ff0000" stroke-width="1" fill="none"/>
</g>
<line x1="1407.0" y1="643.5" x2="1479.4" y2="636.8" stroke="#ff0000" stroke-width="3.0"/>
<polygon points="1482.4,636.5 1471.9,642.1 1471.0,632.9" fill="#ff0000"/>
<text x="0.5" y="588.5" font-family='"Liberation Sans", sans-serif' font-size="9.9" fill="#000" text-anchor="start" textLength="147.7" lengthAdjust="spacingAndGlyphs" text-rendering="geometricPrecision">MACD(12,26,9) 0.000907 0.001078</text>
<g shape-rendering="crispEdges">
<rect x="1655" y="578" width="1" height="1" fill="#000"/>
<rect x="1655" y="656" width="1" height="1" fill="#000"/>
<rect x="1655" y="745" width="1" height="1" fill="#000"/>
</g>
<text x="1658.0" y="586.8" font-family='"Liberation Sans", sans-serif' font-size="9.9" fill="#000" text-anchor="start" textLength="38.4" lengthAdjust="spacingAndGlyphs" text-rendering="geometricPrecision">0.005469</text>
<text x="1658.0" y="660.1" font-family='"Liberation Sans", sans-serif' font-size="9.9" fill="#000" text-anchor="start" textLength="17.9" lengthAdjust="spacingAndGlyphs" text-rendering="geometricPrecision">0.00</text>
<text x="1657.6" y="742.8" font-family='"Liberation Sans", sans-serif' font-size="9.9" fill="#000" text-anchor="start" textLength="41.4" lengthAdjust="spacingAndGlyphs" text-rendering="geometricPrecision">-0.006245</text>
<g clip-path="url(#crsi)" shape-rendering="crispEdges">
<line x1="3" y1="784.5" x2="1654" y2="784.5" stroke="#c0c0c0" stroke-width="1" stroke-dasharray="3,3"/>
<line x1="3" y1="835.5" x2="1654" y2="835.5" stroke="#c0c0c0" stroke-width="1" stroke-dasharray="3,3"/>
<line x1="3" y1="896.5" x2="1654" y2="896.5" stroke="#c0c0c0" stroke-width="1" stroke-dasharray="3,3"/>
<path d="M4.5 847v1M5.5 846v1M6.5 845v1M7.5 845v1M8.5 844v1M9.5 843v1M10.5 842v1M11.5 841v1M12.5 840v1M13.5 839v1M14.5 838v1M15.5 837v1M16.5 835v2M17.5 834v1M18.5 833v1M19.5 832v1M20.5 831v1M21.5 831v1M22.5 831v1M23.5 831v1M24.5 831v1M25.5 831v1M26.5 831v1M27.5 831v1M28.5 831v1M29.5 831v1M30.5 832v1M31.5 833v1M32.5 834v1M33.5 835v1M34.5 835v1M35.5 836v1M36.5 836v2M37.5 834v2M38.5 833v1M39.5 831v2M40.5 829v2M41.5 827v2M42.5 825v2M43.5 823v2M44.5 822v1M45.5 823v1M46.5 823v1M47.5 824v1M48.5 824v1M49.5 825v1M50.5 825v1M51.5 826v1M52.5 826v1M53.5 826v1M54.5 826v1M55.5 825v1M56.5 825v1M57.5 825v1M58.5 825v1M59.5 825v1M60.5 825v1M61.5 825v1M62.5 826v1M63.5 827v1M64.5 828v1M65.5 829v1M66.5 829v1M67.5 830v1M68.5 831v1M69.5 831v1M70.5 830v1M71.5 830v1M72.5 829v1M73.5 829v1M74.5 829v1M75.5 828v1M76.5 828v1M77.5 828v1M78.5 829v1M79.5 829v1M80.5 830v1M81.5 830v1M82.5 831v1M83.5 831v1M84.5 832v1M85.5 832v1M86.5 832v1M87.5 832v1M88.5 832v1M89.5 832v1M90.5 832v1M91.5 832v1M92.5 832v2M93.5 834v2M94.5 836v1M95.5 837v2M96.5 839v2M97.5 841v2M98.5 843v2M99.5 845v2M100.5 847v1M101.5 847v1M102.5 847v1M103.5 848v1M104.5 848v1M105.5 848v1M106.5 848v1M107.5 849v1M108.5 849v1M109.5 847v2M110.5 846v1M111.5 844v2M112.5 843v1M113.5 842v1M114.5 840v2M115.5 839v1M116.5 838v1M117.5 839v1M118.5 839v1M119.5 840v1M120.5 841v1M121.5 842v1M122.5 842v1M123.5 843v1M124.5 844v1M125.5 843v1M126.5 843v1M127.5 842v1M128.5 842v1M129.5 841v1M130.5 840v1M131.5 840v1M132.5 839v1M133.5 840v1M134.5 841v1M135.5 841v1M136.5 842v1M137.5 843v1M138.5 843v1M139.5 844v1M140.5 845v1M141.5 845v1M142.5 846v1M143.5 846v1M144.5 847v1M145.5 847v1M146.5 848v1M147.5 848v1M148.5 849v1M149.5 849v1M150.5 849v1M151.5 848v1M152.5 848v1M153.5 848v1M154.5 848v1M155.5 848v1M156.5 847v1M157.5 848v1M158.5 849v1M159.5 850v1M160.5 851v1M161.5 852v1M162.5 853v1M163.5 854v1M164.5 855v1M165.5 854v1M166.5 852v2M167.5 851v1M168.5 850v1M169.5 849v1M170.5 848v1M171.5 847v1M172.5 846v1M173.5 846v1M174.5 847v1M175.5 847v1M176.5 847v1M177.5 848v1M178.5 848v1M179.5 849v1M180.5 848v2M181.5 846v2M182.5 844v2M183.5 842v2M184.5 840v2M185.5 839v1M186.5 837v2M187.5 835v2M188.5 834v1M189.5 835v2M190.5 837v1M191.5 838v1M192.5 839v2M193.5 841v1M194.5 842v2M195.5 844v1M196.5 845v1M197.5 845v1M198.5 845v1M199.5 844v1M200.5 844v1M201.5 844v1M202.5 844v1M203.5 844v1M204.5 843v1M205.5 844v1M206.5 845v1M207.5 846v1M208.5 847v1M209.5 847v1M210.5 848v1M211.5 849v1M212.5 850v1M213.5 849v1M214.5 849v1M215.5 849v1M216.5 849v1M217.5 848v1M218.5 848v1M219.5 848v1M220.5 848v1M221.5 848v1M222.5 849v1M223.5 849v1M224.5 850v1M225.5 850v1M226.5 851v1M227.5 851v1M228.5 852v1M229.5 852v1M230.5 852v1M231.5 852v1M232.5 853v1M233.5 853v1M234.5 853v1M235.5 853v1M236.5 854v1M237.5 855v1M238.5 856v1M239.5 857v1M240.5 858v1M241.5 859v1M242.5 860v1M243.5 861v1M244.5 862v1M245.5 861v1M246.5 860v1M247.5 859v1M248.5 858v1M249.5 857v1M250.5 856v1M251.5 855v1M252.5 854v1M253.5 853v1M254.5 853v1M255.5 853v1M256.5 853v1M257.5 852v1M258.5 852v1M259.5 852v1M260.5 852v1M261.5 852v1M262.5 853v1M263.5 853v1M264.5 853v1M265.5 854v1M266.5 854v1M267.5 855v1M268.5 855v1M269.5 854v1M270.5 854v1M271.5 853v1M272.5 852v1M273.5 851v1M274.5 851v1M275.5 850v1M276.5 849v1M277.5 850v1M278.5 851v1M279.5 852v1M280.5 852v1M281.5 853v1M282.5 854v1M283.5 855v1M284.5 855v2M285.5 853v2M286.5 851v2M287.5 849v2M288.5 848v1M289.5 846v2M290.5 844v2M291.5 842v2M292.5 841v2M293.5 843v2M294.5 845v2M295.5 847v2M296.5 849v2M297.5 851v2M298.5 853v3M299.5 856v2M300.5 857v2M301.5 856v1M302.5 855v1M303.5 854v1M304.5 852v2M305.5 851v1M306.5 850v1M307.5 849v1M308.5 848v1M309.5 848v1M310.5 848v1M311.5 848v1M312.5 848v1M313.5 848v1M314.5 849v1M315.5 849v1M316.5 849v1M317.5 849v1M318.5 849v1M319.5 850v1M320.5 850v1M321.5 850v1M322.5 850v1M323.5 850v1M324.5 851v1M325.5 851v1M326.5 851v1M327.5 851v1M328.5 851v1M329.5 851v1M330.5 851v1M331.5 851v1M332.5 851v1M333.5 851v1M334.5 852v1M335.5 852v1M336.5 852v1M337.5 853v1M338.5 853v1M339.5 854v1M340.5 854v1M341.5 855v1M342.5 856v1M343.5 857v1M344.5 858v1M345.5 859v1M346.5 860v1M347.5 861v1M348.5 862v1M349.5 862v1M350.5 863v1M351.5 863v1M352.5 864v1M353.5 864v1M354.5 865v1M355.5 865v1M356.5 866v1M357.5 866v1M358.5 866v1M359.5 866v1M360.5 866v1M361.5 866v1M362.5 866v1M363.5 866v1M364.5 866v1M365.5 865v1M366.5 865v1M367.5 864v1M368.5 863v1M369.5 863v1M370.5 862v1M371.5 862v1M372.5 861v1M373.5 861v1M374.5 862v1M375.5 862v1M376.5 862v1M377.5 863v1M378.5 863v1M379.5 863v1M380.5 864v1M381.5 864v1M382.5 865v1M383.5 865v1M384.5 866v1M385.5 866v1M386.5 867v1M387.5 867v1M388.5 867v2M389.5 864v3M390.5 861v3M391.5 859v2M392.5 856v3M393.5 853v3M394.5 851v2M395.5 848v3M396.5 845v3M397.5 843v2M398.5 841v2M399.5 839v2M400.5 837v2M401.5 835v2M402.5 833v2M403.5 831v2M404.5 830v1M405.5 831v1M406.5 831v1M407.5 831v1M408.5 831v1M409.5 832v1M410.5 832v1M411.5 832v1M412.5 832v1M413.5 833v1M414.5 833v1M415.5 834v1M416.5 834v1M417.5 835v1M418.5 835v1M419.5 836v1M420.5 836v1M421.5 835v1M422.5 834v1M423.5 833v1M424.5 832v1M425.5 831v1M426.5 830v1M427.5 829v1M428.5 828v1M429.5 828v1M430.5 827v1M431.5 827v1M432.5 826v1M433.5 826v1M434.5 826v1M435.5 825v1M436.5 825v1M437.5 825v1M438.5 825v1M439.5 825v1M440.5 825v1M441.5 826v1M442.5 826v1M443.5 826v1M444.5 826v1M445.5 826v1M446.5 826v1M447.5 827v1M448.5 827v1M449.5 827v1M450.5 827v1M451.5 827v1M452.5 828v1M453.5 827v1M454.5 827v1M455.5 827v1M456.5 827v1M457.5 826v1M458.5 826v1M459.5 826v1M460.5 825v2M461.5 824v1M462.5 823v1M463.5 822v1M464.5 820v2M465.5 819v1M466.5 818v1M467.5 817v1M468.5 816v1M469.5 816v1M470.5 817v1M471.5 818v1M472.5 819v1M473.5 819v1M474.5 820v1M475.5 821v1M476.5 822v1M477.5 823v1M478.5 823v1M479.5 824v1M480.5 825v1M481.5 826v1M482.5 827v1M483.5 828v1M484.5 828v2M485.5 830v3M486.5 833v3M487.5 836v2M488.5 838v3M489.5 841v3M490.5 844v2M491.5 846v3M492.5 849v2M493.5 849v1M494.5 849v1M495.5 849v1M496.5 849v1M497.5 848v1M498.5 848v1M499.5 848v1M500.5 848v1M501.5 847v1M502.5 847v1M503.5 847v1M504.5 847v1M505.5 847v1M506.5 846v1M507.5 846v1M508.5 846v1M509.5 846v1M510.5 846v1M511.5 846v1M512.5 846v1M513.5 847v1M514.5 847v1M515.5 847v1M516.5 847v1M517.5 847v1M518.5 847v1M519.5 846v1M520.5 846v1M521.5 846v1M522.5 846v1M523.5 846v1M524.5 845v2M525.5 844v1M526.5 842v2M527.5 841v1M528.5 839v2M529.5 838v1M530.5 836v2M531.5 835v1M532.5 834v2M533.5 836v1M534.5 837v2M535.5 839v2M536.5 841v2M537.5 843v1M538.5 844v2M539.5 846v2M540.5 848v1M541.5 847v1M542.5 847v1M543.5 847v1M544.5 846v1M545.5 846v1M546.5 845v1M547.5 845v1M548.5 845v1M549.5 845v1M550.5 845v1M551.5 845v1M552.5 845v1M553.5 845v1M554.5 845v1M555.5 845v1M556.5 845v1M557.5 845v1M558.5 846v1M559.5 847v1M560.5 847v1M561.5 848v1M562.5 848v1M563.5 849v1M564.5 849v1M565.5 850v1M566.5 850v1M567.5 850v1M568.5 851v1M569.5 851v1M570.5 851v1M571.5 852v1M572.5 852v1M573.5 853v1M574.5 853v1M575.5 854v1M576.5 854v1M577.5 855v1M578.5 856v1M579.5 856v1M580.5 857v1M581.5 856v1M582.5 856v1M583.5 855v1M584.5 855v1M585.5 855v1M586.5 854v1M587.5 854v1M588.5 853v1M589.5 852v1M590.5 851v1M591.5 850v1M592.5 849v1M593.5 848v1M594.5 847v1M595.5 845v2M596.5 844v1M597.5 844v1M598.5 844v1M599.5 844v1M600.5 844v1M601.5 843v1M602.5 843v1M603.5 843v1M604.5 843v1M605.5 843v1M606.5 844v1M607.5 844v1M608.5 845v1M609.5 845v1M610.5 846v1M611.5 846v1M612.5 847v1M613.5 847v1M614.5 847v1M615.5 847v1M616.5 847v1M617.5 847v1M618.5 848v1M619.5 848v1M620.5 847v2M621.5 845v2M622.5 842v3M623.5 840v2M624.5 837v3M625.5 835v2M626.5 832v3M627.5 830v2M628.5 828v2M629.5 827v1M630.5 826v1M631.5 825v1M632.5 824v1M633.5 823v1M634.5 822v1M635.5 821v1M636.5 819v2M637.5 818v1M638.5 816v2M639.5 814v2M640.5 813v1M641.5 811v2M642.5 809v2M643.5 807v2M644.5 806v1M645.5 806v1M646.5 806v1M647.5 806v1M648.5 806v1M649.5 806v1M650.5 805v1M651.5 805v1M652.5 805v1M653.5 806v1M654.5 807v1M655.5 807v1M656.5 808v1M657.5 809v1M658.5 810v1M659.5 810v1M660.5 811v1M661.5 812v1M662.5 812v1M663.5 813v1M664.5 813v1M665.5 814v1M666.5 815v1M667.5 815v1M668.5 816v1M669.5 817v2M670.5 819v2M671.5 821v1M672.5 822v2M673.5 824v1M674.5 825v2M675.5 827v2M676.5 828v2M677.5 827v1M678.5 825v2M679.5 824v1M680.5 822v2M681.5 821v1M682.5 819v2M683.5 818v1M684.5 817v1M685.5 817v1M686.5 817v1M687.5 817v1M688.5 817v1M689.5 817v1M690.5 818v1M691.5 818v1M692.5 818v1M693.5 818v1M694.5 818v1M695.5 817v1M696.5 817v1M697.5 817v1M698.5 817v1M699.5 817v1M700.5 817v1M701.5 816v1M702.5 816v1M703.5 816v1M704.5 815v1M705.5 815v1M706.5 814v1M707.5 814v1M708.5 814v2M709.5 816v1M710.5 817v2M711.5 819v2M712.5 821v2M713.5 823v2M714.5 825v2M715.5 827v1M716.5 828v1M717.5 829v1M718.5 830v1M719.5 830v1M720.5 831v1M721.5 832v1M722.5 832v1M723.5 833v1M724.5 834v1M725.5 834v1M726.5 834v1M727.5 834v1M728.5 834v1M729.5 834v1M730.5 835v1M731.5 835v1M732.5 835v1M733.5 836v2M734.5 838v1M735.5 839v2M736.5 841v1M737.5 842v2M738.5 844v1M739.5 845v2M740.5 847v1M741.5 847v1M742.5 847v1M743.5 847v1M744.5 848v1M745.5 848v1M746.5 848v1M747.5 848v1M748.5 849v1M749.5 848v1M750.5 847v1M751.5 847v1M752.5 846v1M753.5 845v1M754.5 844v1M755.5 844v1M756.5 843v1M757.5 842v1M758.5 841v1M759.5 841v1M760.5 840v1M761.5 839v1M762.5 838v1M763.5 837v1M764.5 836v1M765.5 835v1M766.5 834v1M767.5 833v1M768.5 832v1M769.5 831v1M770.5 830v1M771.5 829v1M772.5 828v1M773.5 828v1M774.5 829v1M775.5 829v1M776.5 829v1M777.5 830v1M778.5 830v1M779.5 830v1M780.5 831v1M781.5 830v1M782.5 830v1M783.5 830v1M784.5 830v1M785.5 829v1M786.5 829v1M787.5 829v1M788.5 829v1M789.5 829v1M790.5 829v1M791.5 829v1M792.5 829v1M793.5 829v1M794.5 829v1M795.5 830v1M796.5 830v1M797.5 831v1M798.5 832v1M799.5 833v1M800.5 834v1M801.5 835v1M802.5 836v2M803.5 838v1M804.5 839v1M805.5 839v1M806.5 840v1M807.5 841v1M808.5 842v1M809.5 842v1M810.5 843v1M811.5 844v1M812.5 843v2M813.5 841v2M814.5 839v2M815.5 836v3M816.5 834v2M817.5 831v3M818.5 829v2M819.5 826v3M820.5 825v1M821.5 826v1M822.5 827v1M823.5 828v1M824.5 829v1M825.5 830v2M826.5 832v1M827.5 833v1M828.5 834v1M829.5 835v1M830.5 836v1M831.5 837v1M832.5 838v1M833.5 839v1M834.5 840v1M835.5 841v1M836.5 842v1M837.5 841v1M838.5 841v1M839.5 841v1M840.5 841v1M841.5 840v1M842.5 840v1M843.5 840v1M844.5 839v1M845.5 839v1M846.5 838v1M847.5 838v1M848.5 837v1M849.5 837v1M850.5 836v1M851.5 836v1M852.5 835v2M853.5 837v1M854.5 838v1M855.5 839v2M856.5 841v1M857.5 842v1M858.5 843v1M859.5 844v2M860.5 846v1M861.5 846v1M862.5 846v1M863.5 845v1M864.5 845v1M865.5 845v1M866.5 845v1M867.5 845v1M868.5 845v1M869.5 846v1M870.5 847v1M871.5 848v1M872.5 849v1M873.5 850v2M874.5 852v1M875.5 853v1M876.5 854v1M877.5 854v1M878.5 855v1M879.5 855v1M880.5 856v1M881.5 856v1M882.5 857v1M883.5 857v1M884.5 857v1M885.5 858v1M886.5 858v1M887.5 858v1M888.5 858v1M889.5 858v1M890.5 859v1M891.5 859v1M892.5 859v1M893.5 859v1M894.5 859v1M895.5 860v1M896.5 860v1M897.5 860v1M898.5 860v1M899.5 861v1M900.5 861v1M901.5 862v1M902.5 863v1M903.5 864v1M904.5 865v1M905.5 866v2M906.5 868v1M907.5 869v1M908.5 870v1M909.5 870v1M910.5 870v1M911.5 870v1M912.5 870v1M913.5 870v1M914.5 871v1M915.5 871v1M916.5 871v1M917.5 872v1M918.5 872v1M919.5 873v1M920.5 874v1M921.5 875v1M922.5 875v1M923.5 876v1M924.5 877v1M925.5 877v1M926.5 878v1M927.5 878v1M928.5 879v1M929.5 879v1M930.5 880v1M931.5 880v1M932.5 881v1M933.5 881v1M934.5 881v1M935.5 880v1M936.5 880v1M937.5 880v1M938.5 880v1M939.5 880v1M940.5 880v1M941.5 880v1M942.5 879v1M943.5 879v1M944.5 879v1M945.5 879v1M946.5 879v1M947.5 879v1M948.5 879v1M949.5 880v1M950.5 880v1M951.5 881v1M952.5 882v1M953.5 883v1M954.5 883v1M955.5 884v1M956.5 885v1M957.5 885v1M958.5 885v1M959.5 885v1M960.5 886v1M961.5 886v1M962.5 886v1M963.5 886v1M964.5 887v1M965.5 887v1M966.5 887v1M967.5 888v1M968.5 888v1M969.5 888v1M970.5 888v1M971.5 889v1M972.5 889v1M973.5 887v2M974.5 886v1M975.5 885v1M976.5 884v1M977.5 882v2M978.5 881v1M979.5 880v1M980.5 879v1M981.5 878v1M982.5 878v1M983.5 878v1M984.5 877v1M985.5 877v1M986.5 877v1M987.5 876v1M988.5 876v1M989.5 876v1M990.5 877v1M991.5 877v1M992.5 877v1M993.5 878v1M994.5 878v1M995.5 878v1M996.5 879v1M997.5 879v1M998.5 879v1M999.5 879v1M1000.5 880v1M1001.5 880v1M1002.5 880v1M1003.5 880v1M1004.5 881v1M1005.5 880v1M1006.5 879v1M1007.5 878v1M1008.5 878v1M1009.5 877v1M1010.5 876v1M1011.5 875v1M1012.5 873v3M1013.5 868v5M1014.5 864v4M1015.5 859v5M1016.5 855v4M1017.5 850v5M1018.5 846v4M1019.5 841v5M1020.5 839v2M1021.5 838v1M1022.5 837v1M1023.5 836v1M1024.5 835v1M1025.5 834v1M1026.5 833v1M1027.5 832v1M1028.5 831v1M1029.5 831v1M1030.5 831v1M1031.5 832v1M1032.5 832v1M1033.5 832v1M1034.5 832v1M1035.5 833v1M1036.5 833v1M1037.5 833v1M1038.5 833v1M1039.5 833v1M1040.5 833v1M1041.5 834v1M1042.5 834v1M1043.5 834v1M1044.5 834v1M1045.5 832v2M1046.5 831v1M1047.5 830v1M1048.5 829v1M1049.5 827v2M1050.5 826v1M1051.5 825v1M1052.5 824v1M1053.5 823v1M1054.5 821v2M1055.5 820v1M1056.5 819v1M1057.5 818v1M1058.5 817v1M1059.5 816v1M1060.5 815v1M1061.5 816v1M1062.5 817v2M1063.5 819v1M1064.5 820v1M1065.5 821v1M1066.5 822v1M1067.5 823v2M1068.5 825v1M1069.5 824v1M1070.5 824v1M1071.5 823v1M1072.5 822v1M1073.5 822v1M1074.5 821v1M1075.5 821v1M1076.5 820v1M1077.5 820v1M1078.5 819v1M1079.5 819v1M1080.5 819v1M1081.5 819v1M1082.5 818v1M1083.5 818v1M1084.5 818v1M1085.5 818v1M1086.5 819v1M1087.5 819v1M1088.5 820v1M1089.5 820v1M1090.5 821v1M1091.5 821v1M1092.5 822v1M1093.5 823v1M1094.5 824v1M1095.5 825v1M1096.5 826v1M1097.5 827v1M1098.5 828v1M1099.5 829v1M1100.5 829v1M1101.5 830v1M1102.5 830v1M1103.5 830v1M1104.5 831v1M1105.5 831v1M1106.5 831v1M1107.5 831v1M1108.5 832v1M1109.5 831v1M1110.5 831v1M1111.5 830v1M1112.5 830v1M1113.5 829v1M1114.5 829v1M1115.5 828v1M1116.5 828v1M1117.5 827v1M1118.5 827v1M1119.5 827v1M1120.5 827v1M1121.5 826v1M1122.5 826v1M1123.5 826v1M1124.5 826v1M1125.5 826v1M1126.5 826v1M1127.5 825v1M1128.5 825v1M1129.5 825v1M1130.5 825v1M1131.5 825v1M1132.5 825v1M1133.5 825v1M1134.5 826v1M1135.5 826v1M1136.5 827v1M1137.5 827v1M1138.5 828v1M1139.5 828v1M1140.5 829v1M1141.5 828v1M1142.5 828v1M1143.5 828v1M1144.5 827v1M1145.5 827v1M1146.5 827v1M1147.5 826v1M1148.5 825v2M1149.5 824v1M1150.5 822v2M1151.5 821v1M1152.5 819v2M1153.5 818v1M1154.5 816v2M1155.5 815v1M1156.5 813v2M1157.5 812v1M1158.5 811v1M1159.5 810v1M1160.5 809v1M1161.5 807v2M1162.5 806v1M1163.5 805v1M1164.5 804v1M1165.5 804v1M1166.5 805v1M1167.5 805v1M1168.5 805v1M1169.5 806v1M1170.5 806v1M1171.5 807v1M1172.5 807v1M1173.5 807v1M1174.5 807v1M1175.5 807v1M1176.5 806v1M1177.5 806v1M1178.5 806v1M1179.5 806v1M1180.5 806v1M1181.5 806v1M1182.5 806v1M1183.5 806v1M1184.5 806v1M1185.5 806v1M1186.5 806v1M1187.5 806v1M1188.5 806v2M1189.5 808v2M1190.5 810v2M1191.5 812v2M1192.5 814v2M1193.5 816v2M1194.5 818v2M1195.5 820v3M1196.5 823v1M1197.5 822v1M1198.5 822v1M1199.5 822v1M1200.5 822v1M1201.5 821v1M1202.5 821v1M1203.5 821v1M1204.5 820v2M1205.5 817v3M1206.5 815v2M1207.5 812v3M1208.5 809v3M1209.5 807v2M1210.5 804v3M1211.5 802v2M1212.5 800v2M1213.5 800v1M1214.5 800v1M1215.5 800v1M1216.5 800v1M1217.5 800v1M1218.5 800v1M1219.5 800v1M1220.5 800v1M1221.5 800v1M1222.5 800v1M1223.5 800v1M1224.5 800v1M1225.5 801v1M1226.5 801v1M1227.5 801v1M1228.5 801v1M1229.5 801v1M1230.5 802v1M1231.5 802v1M1232.5 803v1M1233.5 803v1M1234.5 804v1M1235.5 804v1M1236.5 805v1M1237.5 805v1M1238.5 805v1M1239.5 805v1M1240.5 805v1M1241.5 806v1M1242.5 806v1M1243.5 806v1M1244.5 806v1M1245.5 806v1M1246.5 805v1M1247.5 805v1M1248.5 805v1M1249.5 805v1M1250.5 804v1M1251.5 804v1M1252.5 804v1M1253.5 804v1M1254.5 804v1M1255.5 804v1M1256.5 803v1M1257.5 803v1M1258.5 803v1M1259.5 803v1M1260.5 803v1M1261.5 802v1M1262.5 801v1M1263.5 801v1M1264.5 800v1M1265.5 799v1M1266.5 798v1M1267.5 798v1M1268.5 797v1M1269.5 797v1M1270.5 797v1M1271.5 797v1M1272.5 797v1M1273.5 798v1M1274.5 798v1M1275.5 798v1M1276.5 798v1M1277.5 797v1M1278.5 797v1M1279.5 796v1M1280.5 796v1M1281.5 795v1M1282.5 795v1M1283.5 794v1M1284.5 794v1M1285.5 793v1M1286.5 793v1M1287.5 793v1M1288.5 792v1M1289.5 792v1M1290.5 791v1M1291.5 791v1M1292.5 791v1M1293.5 790v1M1294.5 790v1M1295.5 789v1M1296.5 788v1M1297.5 788v1M1298.5 787v1M1299.5 787v1M1300.5 786v1M1301.5 786v1M1302.5 786v1M1303.5 786v1M1304.5 786v1M1305.5 786v1M1306.5 786v1M1307.5 786v1M1308.5 786v1M1309.5 786v1M1310.5 786v1M1311.5 786v1M1312.5 786v1M1313.5 786v1M1314.5 786v1M1315.5 787v1M1316.5 787v1M1317.5 787v1M1318.5 787v1M1319.5 787v1M1320.5 787v1M1321.5 787v1M1322.5 787v1M1323.5 787v1M1324.5 787v2M1325.5 789v2M1326.5 791v2M1327.5 793v2M1328.5 795v2M1329.5 797v2M1330.5 799v2M1331.5 801v2M1332.5 803v1M1333.5 802v1M1334.5 801v1M1335.5 800v1M1336.5 799v1M1337.5 799v1M1338.5 798v1M1339.5 797v1M1340.5 796v1M1341.5 797v1M1342.5 797v1M1343.5 798v1M1344.5 799v1M1345.5 800v1M1346.5 800v1M1347.5 801v1M1348.5 802v2M1349.5 804v3M1350.5 807v3M1351.5 810v3M1352.5 813v3M1353.5 816v3M1354.5 819v3M1355.5 822v3M1356.5 825v2M1357.5 827v1M1358.5 828v1M1359.5 829v1M1360.5 830v1M1361.5 831v1M1362.5 832v2M1363.5 834v1M1364.5 835v1M1365.5 834v1M1366.5 834v1M1367.5 834v1M1368.5 834v1M1369.5 833v1M1370.5 833v1M1371.5 833v1M1372.5 833v1M1373.5 833v1M1374.5 832v1M1375.5 832v1M1376.5 832v1M1377.5 832v1M1378.5 832v1M1379.5 832v1M1380.5 832v1M1381.5 831v1M1382.5 830v1M1383.5 829v1M1384.5 828v1M1385.5 827v1M1386.5 826v1M1387.5 825v1M1388.5 824v1M1389.5 825v1M1390.5 826v1M1391.5 827v1M1392.5 828v1M1393.5 829v2M1394.5 831v1M1395.5 832v1M1396.5 833v1M1397.5 833v1M1398.5 834v1M1399.5 835v1M1400.5 836v1M1401.5 836v1M1402.5 837v1M1403.5 838v1M1404.5 839v1M1405.5 838v1M1406.5 838v1M1407.5 838v1M1408.5 837v1M1409.5 837v1M1410.5 836v1M1411.5 836v1M1412.5 836v1M1413.5 836v1M1414.5 836v1M1415.5 836v1M1416.5 836v1M1417.5 836v1M1418.5 836v1M1419.5 835v1M1420.5 835v1M1421.5 835v1M1422.5 835v1M1423.5 835v1M1424.5 835v1M1425.5 835v1M1426.5 834v1M1427.5 834v1M1428.5 834v1M1429.5 833v1M1430.5 832v1M1431.5 831v1M1432.5 830v1M1433.5 829v1M1434.5 828v1M1435.5 827v1M1436.5 826v1M1437.5 825v1M1438.5 824v1M1439.5 823v1M1440.5 822v1M1441.5 821v1M1442.5 820v1M1443.5 819v1M1444.5 818v2M1445.5 820v1M1446.5 821v2M1447.5 823v2M1448.5 825v2M1449.5 827v1M1450.5 828v2M1451.5 830v2M1452.5 832v1M1453.5 831v1M1454.5 831v1M1455.5 830v1M1456.5 830v1M1457.5 829v1M1458.5 829v1M1459.5 828v1M1460.5 827v1M1461.5 827v1M1462.5 827v1M1463.5 827v1M1464.5 827v1M1465.5 827v1M1466.5 827v1M1467.5 826v1M1468.5 826v1" stroke="#1e90ff" stroke-width="1" fill="none"/>
</g>
<line x1="1373.7" y1="836.5" x2="1468.0" y2="827.0" stroke="#ff0000" stroke-width="3.0"/>
<polygon points="1471.0,826.7 1460.5,832.4 1459.6,823.2" fill="#ff0000"/>
<text x="0.3" y="760.5" font-family='"Liberation Sans", sans-serif' font-size="9.9" fill="#000" text-anchor="start" textLength="67.9" lengthAdjust="spacingAndGlyphs" text-rendering="geometricPrecision">RSI(14) 52.9380</text>
<g shape-rendering="crispEdges">
<rect x="1655" y="750" width="1" height="1" fill="#000"/>
<rect x="1655" y="921" width="1" height="1" fill="#000"/>
</g>
<text x="1658.0" y="758.7" font-family='"Liberation Sans", sans-serif' font-size="9.9" fill="#000" text-anchor="start" textLength="15.4" lengthAdjust="spacingAndGlyphs" text-rendering="geometricPrecision">100</text>
<text x="1657.6" y="787.6" font-family='"Liberation Sans", sans-serif' font-size="9.9" fill="#000" text-anchor="start" textLength="10.2" lengthAdjust="spacingAndGlyphs" text-rendering="geometricPrecision">80</text>
<text x="1657.6" y="838.7" font-family='"Liberation Sans", sans-serif' font-size="9.9" fill="#000" text-anchor="start" textLength="10.2" lengthAdjust="spacingAndGlyphs" text-rendering="geometricPrecision">50</text>
<text x="1657.6" y="900.0" font-family='"Liberation Sans", sans-serif' font-size="9.9" fill="#000" text-anchor="start" textLength="10.2" lengthAdjust="spacingAndGlyphs" text-rendering="geometricPrecision">15</text>
<text x="1657.8" y="918.9" font-family='"Liberation Sans", sans-serif' font-size="9.9" fill="#000" text-anchor="start" textLength="5.1" lengthAdjust="spacingAndGlyphs" text-rendering="geometricPrecision">0</text>
<g shape-rendering="crispEdges">
<rect x="60" y="923" width="1" height="3" fill="#000"/>
<rect x="124" y="923" width="1" height="3" fill="#000"/>
<rect x="188" y="923" width="1" height="3" fill="#000"/>
<rect x="252" y="923" width="1" height="3" fill="#000"/>
<rect x="316" y="923" width="1" height="3" fill="#000"/>
<rect x="380" y="923" width="1" height="3" fill="#000"/>
<rect x="444" y="923" width="1" height="3" fill="#000"/>
<rect x="508" y="923" width="1" height="3" fill="#000"/>
<rect x="572" y="923" width="1" height="3" fill="#000"/>
<rect x="636" y="923" width="1" height="3" fill="#000"/>
<rect x="700" y="923" width="1" height="3" fill="#000"/>
<rect x="764" y="923" width="1" height="3" fill="#000"/>
<rect x="828" y="923" width="1" height="3" fill="#000"/>
<rect x="892" y="923" width="1" height="3" fill="#000"/>
<rect x="956" y="923" width="1" height="3" fill="#000"/>
<rect x="1020" y="923" width="1" height="3" fill="#000"/>
<rect x="1084" y="923" width="1" height="3" fill="#000"/>
<rect x="1148" y="923" width="1" height="3" fill="#000"/>
<rect x="1212" y="923" width="1" height="3" fill="#000"/>
<rect x="1276" y="923" width="1" height="3" fill="#000"/>
<rect x="1340" y="923" width="1" height="3" fill="#000"/>
<rect x="1404" y="923" width="1" height="3" fill="#000"/>
<rect x="1468" y="923" width="1" height="3" fill="#000"/>
</g>
<text x="44.3" y="934.6" font-family='"Liberation Sans", sans-serif' font-size="9.9" fill="#000" text-anchor="end" textLength="45.5" lengthAdjust="spacingAndGlyphs" text-rendering="geometricPrecision">2 Jun 2021</text>
<text x="59.4" y="934.6" font-family='"Liberation Sans", sans-serif' font-size="9.9" fill="#000" text-anchor="start" textLength="52.5" lengthAdjust="spacingAndGlyphs" text-rendering="geometricPrecision">23 Jun 12:00</text>
<text x="123.4" y="934.6" font-family='"Liberation Sans", sans-serif' font-size="9.9" fill="#000" text-anchor="start" textLength="52.5" lengthAdjust="spacingAndGlyphs" text-rendering="geometricPrecision">24 Jun 20:00</text>
<text x="187.4" y="934.6" font-family='"Liberation Sans", sans-serif' font-size="9.9" fill="#000" text-anchor="start" textLength="52.5" lengthAdjust="spacingAndGlyphs" text-rendering="geometricPrecision">28 Jun 04:00</text>
<text x="251.4" y="934.6" font-family='"Liberation Sans", sans-serif' font-size="9.9" fill="#000" text-anchor="start" textLength="52.5" lengthAdjust="spacingAndGlyphs" text-rendering="geometricPrecision">29 Jun 12:00</text>
<text x="315.4" y="934.6" font-family='"Liberation Sans", sans-serif' font-size="9.9" fill="#000" text-anchor="start" textLength="52.5" lengthAdjust="spacingAndGlyphs" text-rendering="geometricPrecision">30 Jun 20:00</text>
<text x="379.4" y="934.6" font-family='"Liberation Sans", sans-serif' font-size="9.9" fill="#000" text-anchor="start" textLength="44.4" lengthAdjust="spacingAndGlyphs" text-rendering="geometricPrecision">2 Jul 04:00</text>
<text x="443.4" y="934.6" font-family='"Liberation Sans", sans-serif' font-size="9.9" fill="#000" text-anchor="start" textLength="44.4" lengthAdjust="spacingAndGlyphs" text-rendering="geometricPrecision">5 Jul 12:00</text>
<text x="507.4" y="934.6" font-family='"Liberation Sans", sans-serif' font-size="9.9" fill="#000" text-anchor="start" textLength="44.4" lengthAdjust="spacingAndGlyphs" text-rendering="geometricPrecision">6 Jul 20:00</text>
<text x="571.4" y="934.6" font-family='"Liberation Sans", sans-serif' font-size="9.9" fill="#000" text-anchor="start" textLength="44.4" lengthAdjust="spacingAndGlyphs" text-rendering="geometricPrecision">8 Jul 04:00</text>
<text x="635.4" y="934.6" font-family='"Liberation Sans", sans-serif' font-size="9.9" fill="#000" text-anchor="start" textLength="44.4" lengthAdjust="spacingAndGlyphs" text-rendering="geometricPrecision">9 Jul 12:00</text>
<text x="699.4" y="934.6" font-family='"Liberation Sans", sans-serif' font-size="9.9" fill="#000" text-anchor="start" textLength="49.5" lengthAdjust="spacingAndGlyphs" text-rendering="geometricPrecision">12 Jul 20:00</text>
<text x="763.4" y="934.6" font-family='"Liberation Sans", sans-serif' font-size="9.9" fill="#000" text-anchor="start" textLength="49.5" lengthAdjust="spacingAndGlyphs" text-rendering="geometricPrecision">14 Jul 04:00</text>
<text x="827.4" y="934.6" font-family='"Liberation Sans", sans-serif' font-size="9.9" fill="#000" text-anchor="start" textLength="49.5" lengthAdjust="spacingAndGlyphs" text-rendering="geometricPrecision">15 Jul 12:00</text>
<text x="891.4" y="934.6" font-family='"Liberation Sans", sans-serif' font-size="9.9" fill="#000" text-anchor="start" textLength="49.5" lengthAdjust="spacingAndGlyphs" text-rendering="geometricPrecision">18 Jul 23:00</text>
<text x="955.4" y="934.6" font-family='"Liberation Sans", sans-serif' font-size="9.9" fill="#000" text-anchor="start" textLength="49.5" lengthAdjust="spacingAndGlyphs" text-rendering="geometricPrecision">20 Jul 04:00</text>
<text x="1019.4" y="934.6" font-family='"Liberation Sans", sans-serif' font-size="9.9" fill="#000" text-anchor="start" textLength="49.5" lengthAdjust="spacingAndGlyphs" text-rendering="geometricPrecision">21 Jul 12:00</text>
<text x="1083.4" y="934.6" font-family='"Liberation Sans", sans-serif' font-size="9.9" fill="#000" text-anchor="start" textLength="49.5" lengthAdjust="spacingAndGlyphs" text-rendering="geometricPrecision">22 Jul 20:00</text>
<text x="1147.4" y="934.6" font-family='"Liberation Sans", sans-serif' font-size="9.9" fill="#000" text-anchor="start" textLength="49.5" lengthAdjust="spacingAndGlyphs" text-rendering="geometricPrecision">26 Jul 04:00</text>
<text x="1211.4" y="934.6" font-family='"Liberation Sans", sans-serif' font-size="9.9" fill="#000" text-anchor="start" textLength="49.5" lengthAdjust="spacingAndGlyphs" text-rendering="geometricPrecision">27 Jul 12:00</text>
<text x="1275.4" y="934.6" font-family='"Liberation Sans", sans-serif' font-size="9.9" fill="#000" text-anchor="start" textLength="49.5" lengthAdjust="spacingAndGlyphs" text-rendering="geometricPrecision">28 Jul 20:00</text>
<text x="1339.4" y="934.6" font-family='"Liberation Sans", sans-serif' font-size="9.9" fill="#000" text-anchor="start" textLength="49.5" lengthAdjust="spacingAndGlyphs" text-rendering="geometricPrecision">30 Jul 04:00</text>
<text x="1403.4" y="934.6" font-family='"Liberation Sans", sans-serif' font-size="9.9" fill="#000" text-anchor="start" textLength="48.5" lengthAdjust="spacingAndGlyphs" text-rendering="geometricPrecision">2 Aug 12:00</text>
<text x="1467.4" y="934.6" font-family='"Liberation Sans", sans-serif' font-size="9.9" fill="#000" text-anchor="start" textLength="48.5" lengthAdjust="spacingAndGlyphs" text-rendering="geometricPrecision">3 Aug 20:00</text>
<polygon points="0,32 6,32 3,28" fill="#000"/>
<text x="11" y="32.7" font-family='"Liberation Sans", sans-serif' font-size="9.9" text-rendering="geometricPrecision" fill="#000" textLength="56.5" lengthAdjust="spacingAndGlyphs">GBPUSD-,H4</text>
<text x="74" y="32.7" font-family='"Liberation Sans", sans-serif' font-size="9.9" text-rendering="geometricPrecision" fill="#000" textLength="140.3" lengthAdjust="spacingAndGlyphs">1.39177 1.39177 1.39062 1.39097</text>
<g shape-rendering="crispEdges"><rect x="0" y="115" width="1" height="5" fill="#ff4500"/><rect x="0" y="133" width="1" height="5" fill="#ff0000"/><rect x="0" y="181" width="1" height="5" fill="#0000ff"/><rect x="0" y="196" width="1" height="5" fill="#0000ff"/></g></svg>
<div id="oc">
<div class="rl"></div>
<div class="mid"></div>
<div class="tab" style="left:0;width:51px"><span style="left:11.5px;letter-spacing:-1.5px">SELL</span></div>
<div class="tab" style="left:166px;width:52px"><span style="left:13px">BUY</span></div>
<div id="sp"><div class="b" style="left:0;border-right-width:1px"></div><div class="b" style="right:0;border-left-width:1px"></div><div class="v">1.00</div>
<svg width="111" height="22" style="position:absolute;left:-1px;top:-1px"><path d="M7.5 9h6l-3 3.5z" fill="#4a5fc8"/><path d="M97.5 12h6l-3 -3.5z" fill="#4a5fc8"/></svg></div>
<div class="px" style="left:0;width:108px"><span class="sm" style="left:19.5px;top:15.5px">1.39</span><span class="bg" style="left:46.5px;top:-2.5px">09</span><span class="su" style="left:87px;top:3px">7</span></div>
<div class="px" style="left:110px;width:108px"><span class="sm" style="left:19.5px;top:15.5px">1.39</span><span class="bg" style="left:48px;top:-2.5px">22</span><span class="su" style="left:87.5px;top:3px">8</span></div>
<div class="tl" style="left:3px;width:44px"></div><div class="tl" style="left:170px;width:44px"></div>
</div>
</body></html>
